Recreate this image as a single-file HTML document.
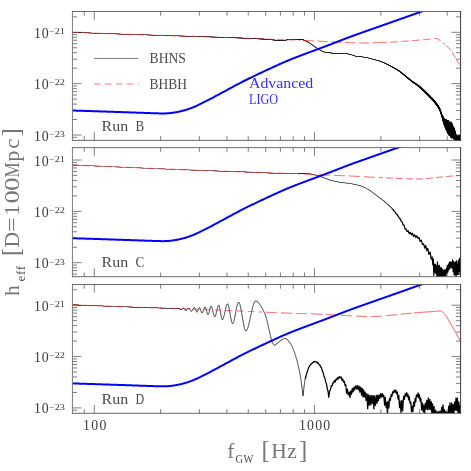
<!DOCTYPE html>
<html><head><meta charset="utf-8"><title>h_eff vs f_GW</title>
<style>
html,body{margin:0;padding:0;background:#fff;}
body{width:471px;height:471px;overflow:hidden;}
svg{display:block;will-change:transform;}
text{font-family:"Liberation Serif",serif;}
.tl{font-size:13.8px;fill:#3a3a3a;}
.sup{font-size:8.1px;fill:#3a3a3a;}
.run{font-size:14.4px;fill:#4a4a4a;}
.lg{font-size:14.2px;fill:#4a4a4a;}
.adv{font-size:14.4px;fill:#3030ff;}
.big{font-size:21.5px;fill:#767676;}
.sub{font-size:13px;fill:#4a4a4a;letter-spacing:0.8px;}
</style></head>
<body>
<svg width="471" height="471" viewBox="0 0 471 471">
<rect width="471" height="471" fill="#fff"/>
<defs>
<clipPath id="c0"><rect x="72.5" y="11.5" width="388.0" height="128.9"/></clipPath>
<clipPath id="c1"><rect x="72.5" y="147.6" width="388.0" height="129.1"/></clipPath>
<clipPath id="c2"><rect x="72.5" y="284.5" width="388.0" height="128.8"/></clipPath>
</defs>
<path d="M84.22,11.5v4.2M84.22,140.4v-4.2M94.30,11.5v8.3M94.30,140.4v-8.3M160.60,11.5v4.2M160.60,140.4v-4.2M199.39,11.5v4.2M199.39,140.4v-4.2M226.90,11.5v4.2M226.90,140.4v-4.2M248.25,11.5v4.2M248.25,140.4v-4.2M265.69,11.5v4.2M265.69,140.4v-4.2M280.43,11.5v4.2M280.43,140.4v-4.2M293.21,11.5v4.2M293.21,140.4v-4.2M304.47,11.5v4.2M304.47,140.4v-4.2M314.55,11.5v8.3M314.55,140.4v-8.3M380.85,11.5v4.2M380.85,140.4v-4.2M419.64,11.5v4.2M419.64,140.4v-4.2M447.15,11.5v4.2M447.15,140.4v-4.2M72.5,137.35h4.6M460.5,137.35h-4.6M72.5,135.00h9.0M460.5,135.00h-9.0M72.5,119.54h4.6M460.5,119.54h-4.6M72.5,110.50h4.6M460.5,110.50h-4.6M72.5,104.08h4.6M460.5,104.08h-4.6M72.5,99.11h4.6M460.5,99.11h-4.6M72.5,95.04h4.6M460.5,95.04h-4.6M72.5,91.60h4.6M460.5,91.60h-4.6M72.5,88.63h4.6M460.5,88.63h-4.6M72.5,86.00h4.6M460.5,86.00h-4.6M72.5,83.65h9.0M460.5,83.65h-9.0M72.5,68.19h4.6M460.5,68.19h-4.6M72.5,59.15h4.6M460.5,59.15h-4.6M72.5,52.73h4.6M460.5,52.73h-4.6M72.5,47.76h4.6M460.5,47.76h-4.6M72.5,43.69h4.6M460.5,43.69h-4.6M72.5,40.25h4.6M460.5,40.25h-4.6M72.5,37.28h4.6M460.5,37.28h-4.6M72.5,34.65h4.6M460.5,34.65h-4.6M72.5,32.30h9.0M460.5,32.30h-9.0M72.5,16.84h4.6M460.5,16.84h-4.6" fill="none" stroke="#707070" stroke-width="0.9"/>
<g clip-path="url(#c0)">
<path d="M72.00,32.35 L72.08,32.23 L72.16,32.38 L72.24,32.22 L72.32,32.42 L72.40,32.23 L72.48,32.40 L72.56,32.23 L72.64,32.42 L72.72,32.23 L72.80,32.43 L72.88,32.24 L72.96,32.44 L73.04,32.24 L73.12,32.43 L73.20,32.25 L73.28,32.45 L73.36,32.25 L73.44,32.46 L73.52,32.27 L73.60,32.46 L73.68,32.25 L73.76,32.46 L73.84,32.26 L73.92,32.47 L74.00,32.28 L74.08,32.49 L74.16,32.29 L74.24,32.49 L74.32,32.28 L74.40,32.49 L74.48,32.30 L74.56,32.50 L74.64,32.30 L74.72,32.51 L74.80,32.30 L74.88,32.51 L74.96,32.31 L75.04,32.53 L75.12,32.33 L75.20,32.52 L75.28,32.34 L75.36,32.53 L75.44,32.34 L75.52,32.54 L75.60,32.34 L75.68,32.54 L75.76,32.34 L75.84,32.54 L75.92,32.34 L76.00,32.55 L76.08,32.35 L76.16,32.57 L76.24,32.36 L76.32,32.57 L76.40,32.37 L76.48,32.56 L76.56,32.37 L76.64,32.58 L76.72,32.37 L76.80,32.58 L76.88,32.39 L76.96,32.58 L77.04,32.39 L77.12,32.60 L77.20,32.40 L77.28,32.61 L77.36,32.40 L77.44,32.62 L77.52,32.41 L77.60,32.61 L77.68,32.43 L77.76,32.62 L77.84,32.43 L77.92,32.62 L78.00,32.44 L78.08,32.62 L78.16,32.43 L78.24,32.64 L78.32,32.45 L78.40,32.64 L78.48,32.46 L78.56,32.64 L78.64,32.46 L78.72,32.66 L78.80,32.47 L78.88,32.67 L78.96,32.46 L79.04,32.67 L79.12,32.47 L79.20,32.69 L79.28,32.47 L79.36,32.68 L79.44,32.47 L79.52,32.69 L79.60,32.50 L79.68,32.71 L79.76,32.48 L79.84,32.70 L79.92,32.50 L80.00,32.71 L80.08,32.51 L80.16,32.72 L80.24,32.52 L80.32,32.73 L80.40,32.51 L80.48,32.73 L80.56,32.53 L80.64,32.73 L80.72,32.53 L80.80,32.74 L80.88,32.56 L80.96,32.74 L81.04,32.54 L81.12,32.75 L81.20,32.54 L81.28,32.74 L81.36,32.56 L81.44,32.76 L81.52,32.57 L81.60,32.76 L81.68,32.56 L81.76,32.76 L81.84,32.57 L81.92,32.79 L82.00,32.59 L82.08,32.79 L82.16,32.59 L82.24,32.81 L82.32,32.59 L82.40,32.79 L82.48,32.59 L82.56,32.81 L82.64,32.60 L82.72,32.81 L82.80,32.60 L82.88,32.82 L82.96,32.62 L83.04,32.83 L83.12,32.61 L83.20,32.82 L83.28,32.64 L83.36,32.82 L83.44,32.64 L83.52,32.84 L83.60,32.64 L83.68,32.83 L83.76,32.64 L83.84,32.83 L83.92,32.66 L84.00,32.84 L84.08,32.67 L84.16,32.87 L84.24,32.66 L84.32,32.86 L84.40,32.67 L84.48,32.87 L84.56,32.67 L84.64,32.89 L84.72,32.68 L84.80,32.88 L84.88,32.68 L84.96,32.90 L85.04,32.69 L85.12,32.91 L85.20,32.70 L85.28,32.91 L85.36,32.71 L85.44,32.89 L85.52,32.73 L85.60,32.91 L85.68,32.73 L85.76,32.93 L85.84,32.74 L85.92,32.93 L86.00,32.74 L86.08,32.93 L86.16,32.74 L86.24,32.93 L86.32,32.74 L86.40,32.95 L86.48,32.74 L86.56,32.96 L86.64,32.76 L86.72,32.96 L86.80,32.77 L86.88,32.97 L86.96,32.77 L87.04,32.98 L87.12,32.77 L87.20,32.97 L87.28,32.79 L87.36,32.97 L87.44,32.79 L87.52,32.98 L87.60,32.80 L87.68,33.00 L87.76,32.81 L87.84,33.00 L87.92,32.81 L88.00,33.02 L88.08,32.82 L88.16,33.01 L88.24,32.80 L88.32,33.01 L88.40,32.83 L88.48,33.03 L88.56,32.83 L88.64,33.03 L88.72,32.83 L88.80,33.04 L88.88,32.84 L88.96,33.04 L89.04,32.84 L89.12,33.03 L89.20,32.84 L89.28,33.05 L89.36,32.86 L89.44,33.06 L89.52,32.87 L89.60,33.05 L89.68,32.86 L89.76,33.08 L89.84,32.89 L89.92,33.09 L90.00,32.87 L90.08,33.09 L90.16,32.88 L90.24,33.10 L90.32,32.88 L90.40,33.09 L90.48,32.91 L90.56,33.11 L90.64,32.90 L90.72,33.12 L90.80,32.90 L90.88,33.11 L90.96,32.92 L91.04,33.12 L91.12,32.93 L91.20,33.13 L91.28,32.93 L91.36,33.14 L91.44,32.93 L91.52,33.12 L91.60,32.94 L91.68,33.14 L91.76,32.94 L91.84,33.15 L91.92,32.95 L92.00,33.17 L92.08,32.97 L92.16,33.16 L92.24,32.96 L92.32,33.16 L92.40,32.96 L92.48,33.17 L92.56,32.96 L92.64,33.18 L92.72,32.99 L92.80,33.19 L92.88,33.00 L92.96,33.18 L93.04,32.99 L93.12,33.19 L93.20,33.01 L93.28,33.20 L93.36,33.02 L93.44,33.21 L93.52,33.01 L93.60,33.21 L93.68,33.03 L93.76,33.22 L93.84,33.01 L93.92,33.22 L94.00,33.03 L94.08,33.24 L94.16,33.02 L94.24,33.24 L94.32,33.04 L94.40,33.23 L94.48,33.04 L94.56,33.26 L94.64,33.07 L94.72,33.26 L94.80,33.05 L94.88,33.27 L94.96,33.06 L95.04,33.26 L95.12,33.08 L95.20,33.26 L95.28,33.08 L95.36,33.28 L95.44,33.08 L95.52,33.29 L95.60,33.09 L95.68,33.29 L95.76,33.09 L95.84,33.30 L95.92,33.09 L96.00,33.31 L96.08,33.11 L96.16,33.30 L96.24,33.09 L96.32,33.31 L96.40,33.12 L96.48,33.33 L96.56,33.12 L96.64,33.33 L96.72,33.13 L96.80,33.33 L96.88,33.13 L96.96,33.33 L97.04,33.13 L97.12,33.35 L97.20,33.15 L97.28,33.34 L97.36,33.15 L97.44,33.34 L97.52,33.15 L97.60,33.35 L97.68,33.17 L97.76,33.36 L97.84,33.17 L97.92,33.37 L98.00,33.17 L98.08,33.37 L98.16,33.18 L98.24,33.39 L98.32,33.18 L98.40,33.40 L98.48,33.20 L98.56,33.38 L98.64,33.20 L98.72,33.40 L98.80,33.20 L98.88,33.39 L98.96,33.20 L99.04,33.41 L99.12,33.22 L99.20,33.43 L99.28,33.22 L99.36,33.43 L99.44,33.22 L99.52,33.43 L99.60,33.23 L99.68,33.45 L99.76,33.24 L99.84,33.44 L99.92,33.25 L100.00,33.46 L100.08,33.26 L100.16,33.45 L100.24,33.25 L100.32,33.46 L100.40,33.28 L100.48,33.48 L100.56,33.27 L100.64,33.48 L100.72,33.27 L100.80,33.47 L100.88,33.27 L100.96,33.48 L101.04,33.29 L101.12,33.50 L101.20,33.30 L101.28,33.48 L101.36,33.31 L101.44,33.50 L101.52,33.31 L101.60,33.51 L101.68,33.31 L101.76,33.51 L101.84,33.33 L101.92,33.51 L102.00,33.32 L102.08,33.52 L102.16,33.31 L102.24,33.53 L102.32,33.33 L102.40,33.54 L102.48,33.33 L102.56,33.55 L102.64,33.33 L102.72,33.53 L102.80,33.35 L102.88,33.55 L102.96,33.35 L103.04,33.56 L103.12,33.35 L103.20,33.56 L103.28,33.36 L103.36,33.57 L103.44,33.37 L103.52,33.57 L103.60,33.38 L103.68,33.59 L103.76,33.39 L103.84,33.59 L103.92,33.38 L104.00,33.59 L104.08,33.39 L104.16,33.59 L104.24,33.40 L104.32,33.61 L104.40,33.41 L104.48,33.62 L104.56,33.40 L104.64,33.62 L104.72,33.41 L104.80,33.62 L104.88,33.41 L104.96,33.64 L105.04,33.41 L105.12,33.63 L105.20,33.44 L105.28,33.63 L105.36,33.44 L105.44,33.65 L105.52,33.45 L105.60,33.65 L105.68,33.44 L105.76,33.67 L105.84,33.45 L105.92,33.66 L106.00,33.46 L106.08,33.65 L106.16,33.47 L106.24,33.67 L106.32,33.48 L106.40,33.67 L106.48,33.47 L106.56,33.68 L106.64,33.48 L106.72,33.68 L106.80,33.49 L106.88,33.69 L106.96,33.50 L107.04,33.69 L107.12,33.51 L107.20,33.70 L107.28,33.50 L107.36,33.71 L107.44,33.52 L107.52,33.73 L107.60,33.52 L107.68,33.73 L107.76,33.53 L107.84,33.73 L107.92,33.53 L108.00,33.73 L108.08,33.53 L108.16,33.74 L108.24,33.54 L108.32,33.75 L108.40,33.55 L108.48,33.75 L108.56,33.55 L108.64,33.76 L108.72,33.57 L108.80,33.76 L108.88,33.58 L108.96,33.77 L109.04,33.57 L109.12,33.78 L109.20,33.58 L109.28,33.77 L109.36,33.58 L109.44,33.78 L109.52,33.60 L109.60,33.79 L109.68,33.61 L109.76,33.79 L109.84,33.60 L109.92,33.81 L110.00,33.62 L110.08,33.80 L110.16,33.63 L110.24,33.80 L110.32,33.63 L110.40,33.83 L110.48,33.62 L110.56,33.81 L110.64,33.64 L110.72,33.84 L110.80,33.64 L110.88,33.83 L110.96,33.64 L111.04,33.84 L111.12,33.64 L111.20,33.85 L111.28,33.64 L111.36,33.86 L111.44,33.67 L111.52,33.86 L111.60,33.65 L111.68,33.85 L111.76,33.68 L111.84,33.88 L111.92,33.67 L112.00,33.89 L112.08,33.68 L112.16,33.88 L112.24,33.68 L112.32,33.88 L112.40,33.68 L112.48,33.89 L112.56,33.71 L112.64,33.90 L112.72,33.70 L112.80,33.90 L112.88,33.71 L112.96,33.90 L113.04,33.71 L113.12,33.92 L113.20,33.73 L113.28,33.94 L113.36,33.72 L113.44,33.93 L113.52,33.74 L113.60,33.93 L113.68,33.74 L113.76,33.93 L113.84,33.74 L113.92,33.95 L114.00,33.75 L114.08,33.95 L114.16,33.75 L114.24,33.95 L114.32,33.77 L114.40,33.96 L114.48,33.77 L114.56,33.96 L114.64,33.77 L114.72,33.96 L114.80,33.79 L114.88,33.97 L114.96,33.78 L115.04,33.97 L115.12,33.79 L115.20,33.98 L115.28,33.78 L115.36,34.01 L115.44,33.81 L115.52,33.99 L115.60,33.80 L115.68,34.01 L115.76,33.81 L115.84,34.01 L115.92,33.82 L116.00,34.02 L116.08,33.82 L116.16,34.01 L116.24,33.84 L116.32,34.04 L116.40,33.83 L116.48,34.02 L116.56,33.85 L116.64,34.03 L116.72,33.86 L116.80,34.04 L116.88,33.84 L116.96,34.04 L117.04,33.86 L117.12,34.04 L117.20,33.87 L117.28,34.06 L117.36,33.88 L117.44,34.07 L117.52,33.88 L117.60,34.06 L117.68,33.89 L117.76,34.09 L117.84,33.89 L117.92,34.09 L118.00,33.90 L118.08,34.08 L118.16,33.88 L118.24,34.10 L118.32,33.90 L118.40,34.10 L118.48,33.89 L118.56,34.11 L118.64,33.91 L118.72,34.11 L118.80,33.91 L118.88,34.11 L118.96,33.92 L119.04,34.13 L119.12,33.91 L119.20,34.13 L119.28,33.94 L119.36,34.13 L119.44,33.95 L119.52,34.14 L119.60,33.94 L119.68,34.14 L119.76,33.96 L119.84,34.14 L119.92,33.96 L120.00,34.17 L120.08,33.97 L120.16,34.16 L120.24,33.97 L120.32,34.18 L120.40,33.98 L120.48,34.16 L120.56,33.98 L120.64,34.18 L120.72,33.99 L120.80,34.20 L120.88,33.99 L120.96,34.19 L121.04,34.00 L121.12,34.20 L121.20,33.99 L121.28,34.20 L121.36,33.99 L121.44,34.19 L121.52,34.01 L121.60,34.21 L121.68,34.01 L121.76,34.21 L121.84,34.03 L121.92,34.23 L122.00,34.04 L122.08,34.24 L122.16,34.04 L122.24,34.23 L122.32,34.04 L122.40,34.23 L122.48,34.04 L122.56,34.25 L122.64,34.04 L122.72,34.25 L122.80,34.05 L122.88,34.26 L122.96,34.07 L123.04,34.25 L123.12,34.08 L123.20,34.27 L123.28,34.07 L123.36,34.27 L123.44,34.08 L123.52,34.28 L123.60,34.08 L123.68,34.28 L123.76,34.09 L123.84,34.29 L123.92,34.10 L124.00,34.29 L124.08,34.10 L124.16,34.29 L124.24,34.09 L124.32,34.31 L124.40,34.12 L124.48,34.31 L124.56,34.12 L124.64,34.31 L124.72,34.11 L124.80,34.32 L124.88,34.13 L124.96,34.34 L125.04,34.14 L125.12,34.34 L125.20,34.14 L125.28,34.34 L125.36,34.15 L125.44,34.35 L125.52,34.13 L125.60,34.36 L125.68,34.16 L125.76,34.36 L125.84,34.16 L125.92,34.37 L126.00,34.17 L126.08,34.37 L126.16,34.16 L126.24,34.37 L126.32,34.18 L126.40,34.38 L126.48,34.19 L126.56,34.38 L126.64,34.18 L126.72,34.39 L126.80,34.18 L126.88,34.38 L126.96,34.19 L127.04,34.42 L127.12,34.19 L127.20,34.40 L127.28,34.20 L127.36,34.42 L127.44,34.20 L127.52,34.42 L127.60,34.21 L127.68,34.42 L127.76,34.21 L127.84,34.43 L127.92,34.23 L128.00,34.43 L128.08,34.22 L128.16,34.42 L128.24,34.23 L128.32,34.45 L128.40,34.24 L128.48,34.44 L128.56,34.26 L128.64,34.45 L128.72,34.26 L128.80,34.46 L128.88,34.26 L128.96,34.46 L129.04,34.26 L129.12,34.48 L129.20,34.28 L129.28,34.49 L129.36,34.28 L129.44,34.48 L129.52,34.28 L129.60,34.48 L129.68,34.28 L129.76,34.49 L129.84,34.30 L129.92,34.50 L130.00,34.30 L130.08,34.49 L130.16,34.30 L130.24,34.51 L130.32,34.33 L130.40,34.51 L130.48,34.31 L130.56,34.52 L130.64,34.33 L130.72,34.52 L130.80,34.33 L130.88,34.52 L130.96,34.33 L131.04,34.54 L131.12,34.33 L131.20,34.54 L131.28,34.33 L131.36,34.55 L131.44,34.35 L131.52,34.55 L131.60,34.36 L131.68,34.56 L131.76,34.37 L131.84,34.57 L131.92,34.36 L132.00,34.57 L132.08,34.36 L132.16,34.56 L132.24,34.38 L132.32,34.59 L132.40,34.37 L132.48,34.58 L132.56,34.40 L132.64,34.59 L132.72,34.38 L132.80,34.61 L132.88,34.41 L132.96,34.60 L133.04,34.39 L133.12,34.61 L133.20,34.40 L133.28,34.62 L133.36,34.41 L133.44,34.61 L133.52,34.42 L133.60,34.64 L133.68,34.41 L133.76,34.63 L133.84,34.42 L133.92,34.63 L134.00,34.44 L134.08,34.63 L134.16,34.45 L134.24,34.64 L134.32,34.44 L134.40,34.64 L134.48,34.44 L134.56,34.66 L134.64,34.45 L134.72,34.66 L134.80,34.46 L134.88,34.68 L134.96,34.46 L135.04,34.68 L135.12,34.48 L135.20,34.67 L135.28,34.46 L135.36,34.68 L135.44,34.49 L135.52,34.70 L135.60,34.48 L135.68,34.70 L135.76,34.49 L135.84,34.70 L135.92,34.50 L136.00,34.70 L136.08,34.51 L136.16,34.71 L136.24,34.51 L136.32,34.71 L136.40,34.52 L136.48,34.72 L136.56,34.50 L136.64,34.73 L136.72,34.53 L136.80,34.72 L136.88,34.52 L136.96,34.73 L137.04,34.53 L137.12,34.74 L137.20,34.53 L137.28,34.76 L137.36,34.53 L137.44,34.76 L137.52,34.53 L137.60,34.76 L137.68,34.54 L137.76,34.76 L137.84,34.55 L137.92,34.75 L138.00,34.56 L138.08,34.78 L138.16,34.57 L138.24,34.79 L138.32,34.57 L138.40,34.77 L138.48,34.58 L138.56,34.77 L138.64,34.58 L138.72,34.80 L138.80,34.59 L138.88,34.80 L138.96,34.58 L139.04,34.79 L139.12,34.59 L139.20,34.82 L139.28,34.59 L139.36,34.82 L139.44,34.62 L139.52,34.82 L139.60,34.61 L139.68,34.82 L139.76,34.62 L139.84,34.82 L139.92,34.62 L140.00,34.84 L140.08,34.62 L140.16,34.85 L140.24,34.62 L140.32,34.84 L140.40,34.63 L140.48,34.86 L140.56,34.63 L140.64,34.85 L140.72,34.65 L140.80,34.87 L140.88,34.65 L140.96,34.86 L141.04,34.65 L141.12,34.88 L141.20,34.67 L141.28,34.87 L141.36,34.67 L141.44,34.87 L141.52,34.68 L141.60,34.88 L141.68,34.68 L141.76,34.90 L141.84,34.69 L141.92,34.89 L142.00,34.69 L142.08,34.91 L142.16,34.69 L142.24,34.91 L142.32,34.70 L142.40,34.92 L142.48,34.71 L142.56,34.94 L142.64,34.71 L142.72,34.92 L142.80,34.70 L142.88,34.93 L142.96,34.73 L143.04,34.94 L143.12,34.72 L143.20,34.93 L143.28,34.73 L143.36,34.94 L143.44,34.73 L143.52,34.93 L143.60,34.75 L143.68,34.96 L143.76,34.75 L143.84,34.94 L143.92,34.75 L144.00,34.96 L144.08,34.77 L144.16,34.97 L144.24,34.75 L144.32,34.98 L144.40,34.77 L144.48,34.98 L144.56,34.77 L144.64,34.98 L144.72,34.78 L144.80,34.98 L144.88,34.78 L144.96,35.00 L145.04,34.78 L145.12,35.00 L145.20,34.80 L145.28,35.01 L145.36,34.79 L145.44,35.01 L145.52,34.78 L145.60,35.02 L145.68,34.81 L145.76,35.01 L145.84,34.82 L145.92,35.01 L146.00,34.82 L146.08,35.03 L146.16,34.82 L146.24,35.04 L146.32,34.83 L146.40,35.03 L146.48,34.82 L146.56,35.05 L146.64,34.82 L146.72,35.05 L146.80,34.85 L146.88,35.07 L146.96,34.84 L147.04,35.06 L147.12,34.87 L147.20,35.06 L147.28,34.86 L147.36,35.07 L147.44,34.85 L147.52,35.07 L147.60,34.86 L147.68,35.09 L147.76,34.88 L147.84,35.09 L147.92,34.87 L148.00,35.08 L148.08,34.87 L148.16,35.10 L148.24,34.87 L148.32,35.11 L148.40,34.90 L148.48,35.09 L148.56,34.89 L148.64,35.11 L148.72,34.91 L148.80,35.12 L148.88,34.90 L148.96,35.12 L149.04,34.91 L149.12,35.12 L149.20,34.92 L149.28,35.13 L149.36,34.91 L149.44,35.15 L149.52,34.93 L149.60,35.14 L149.68,34.93 L149.76,35.14 L149.84,34.95 L149.92,35.15 L150.00,34.94 L150.08,35.15 L150.16,34.94 L150.24,35.17 L150.32,34.95 L150.40,35.17 L150.48,34.96 L150.56,35.17 L150.64,34.94 L150.72,35.17 L150.80,34.96 L150.88,35.18 L150.96,34.97 L151.04,35.19 L151.12,34.99 L151.20,35.19 L151.28,34.96 L151.36,35.20 L151.44,35.00 L151.52,35.21 L151.60,35.00 L151.68,35.21 L151.76,35.00 L151.84,35.21 L151.92,35.00 L152.00,35.21 L152.08,35.00 L152.16,35.22 L152.24,35.01 L152.32,35.21 L152.40,35.03 L152.48,35.22 L152.56,35.02 L152.64,35.26 L152.72,35.02 L152.80,35.25 L152.88,35.03 L152.96,35.25 L153.04,35.03 L153.12,35.25 L153.20,35.04 L153.28,35.27 L153.36,35.05 L153.44,35.26 L153.52,35.05 L153.60,35.26 L153.68,35.04 L153.76,35.27 L153.84,35.06 L153.92,35.26 L154.00,35.06 L154.08,35.29 L154.16,35.07 L154.24,35.28 L154.32,35.07 L154.40,35.29 L154.48,35.08 L154.56,35.31 L154.64,35.08 L154.72,35.30 L154.80,35.09 L154.88,35.31 L154.96,35.10 L155.04,35.30 L155.12,35.10 L155.20,35.33 L155.28,35.10 L155.36,35.31 L155.44,35.10 L155.52,35.33 L155.60,35.11 L155.68,35.34 L155.76,35.11 L155.84,35.33 L155.92,35.12 L156.00,35.36 L156.08,35.14 L156.16,35.35 L156.24,35.12 L156.32,35.36 L156.40,35.13 L156.48,35.36 L156.56,35.14 L156.64,35.35 L156.72,35.15 L156.80,35.37 L156.88,35.16 L156.96,35.37 L157.04,35.16 L157.12,35.38 L157.20,35.16 L157.28,35.38 L157.36,35.17 L157.44,35.39 L157.52,35.16 L157.60,35.38 L157.68,35.18 L157.76,35.40 L157.84,35.19 L157.92,35.40 L158.00,35.18 L158.08,35.42 L158.16,35.19 L158.24,35.43 L158.32,35.21 L158.40,35.41 L158.48,35.19 L158.56,35.41 L158.64,35.19 L158.72,35.42 L158.80,35.21 L158.88,35.44 L158.96,35.21 L159.04,35.44 L159.12,35.22 L159.20,35.45 L159.28,35.22 L159.36,35.45 L159.44,35.23 L159.52,35.46 L159.60,35.24 L159.68,35.47 L159.76,35.23 L159.84,35.46 L159.92,35.25 L160.00,35.47 L160.08,35.27 L160.16,35.47 L160.24,35.26 L160.32,35.47 L160.40,35.28 L160.48,35.47 L160.56,35.27 L160.64,35.49 L160.72,35.27 L160.80,35.49 L160.88,35.29 L160.96,35.49 L161.04,35.29 L161.12,35.51 L161.20,35.29 L161.28,35.50 L161.36,35.29 L161.44,35.51 L161.52,35.30 L161.60,35.50 L161.68,35.29 L161.76,35.52 L161.84,35.29 L161.92,35.54 L162.00,35.31 L162.08,35.54 L162.16,35.31 L162.24,35.53 L162.32,35.31 L162.40,35.55 L162.48,35.33 L162.56,35.54 L162.64,35.33 L162.72,35.57 L162.80,35.34 L162.88,35.56 L162.96,35.35 L163.04,35.55 L163.12,35.34 L163.20,35.57 L163.28,35.35 L163.36,35.58 L163.44,35.34 L163.52,35.57 L163.60,35.35 L163.68,35.58 L163.76,35.38 L163.84,35.60 L163.92,35.36 L164.00,35.59 L164.08,35.35 L164.16,35.60 L164.24,35.37 L164.32,35.61 L164.40,35.38 L164.48,35.62 L164.56,35.38 L164.64,35.62 L164.72,35.40 L164.80,35.61 L164.88,35.40 L164.96,35.62 L165.04,35.41 L165.12,35.61 L165.20,35.40 L165.28,35.63 L165.36,35.42 L165.44,35.65 L165.52,35.41 L165.60,35.64 L165.68,35.42 L165.76,35.65 L165.84,35.43 L165.92,35.66 L166.00,35.43 L166.08,35.67 L166.16,35.43 L166.24,35.68 L166.32,35.43 L166.40,35.67 L166.48,35.45 L166.56,35.68 L166.64,35.44 L166.72,35.68 L166.80,35.45 L166.88,35.68 L166.96,35.46 L167.04,35.67 L167.12,35.45 L167.20,35.68 L167.28,35.45 L167.36,35.68 L167.44,35.46 L167.52,35.69 L167.60,35.49 L167.68,35.71 L167.76,35.48 L167.84,35.72 L167.92,35.48 L168.00,35.73 L168.08,35.48 L168.16,35.73 L168.24,35.48 L168.32,35.74 L168.40,35.50 L168.48,35.74 L168.56,35.50 L168.64,35.73 L168.72,35.51 L168.80,35.76 L168.88,35.51 L168.96,35.73 L169.04,35.52 L169.12,35.76 L169.20,35.53 L169.28,35.76 L169.36,35.52 L169.44,35.76 L169.52,35.53 L169.60,35.76 L169.68,35.55 L169.76,35.77 L169.84,35.54 L169.92,35.78 L170.00,35.56 L170.08,35.78 L170.16,35.55 L170.24,35.78 L170.32,35.57 L170.40,35.81 L170.48,35.57 L170.56,35.80 L170.64,35.57 L170.72,35.81 L170.80,35.57 L170.88,35.81 L170.96,35.60 L171.04,35.81 L171.12,35.60 L171.20,35.82 L171.28,35.60 L171.36,35.84 L171.44,35.59 L171.52,35.83 L171.60,35.59 L171.68,35.82 L171.76,35.60 L171.84,35.85 L171.92,35.60 L172.00,35.83 L172.08,35.61 L172.16,35.85 L172.24,35.62 L172.32,35.85 L172.40,35.62 L172.48,35.84 L172.56,35.62 L172.64,35.86 L172.72,35.63 L172.80,35.87 L172.88,35.65 L172.96,35.88 L173.04,35.63 L173.12,35.88 L173.20,35.65 L173.28,35.87 L173.36,35.66 L173.44,35.88 L173.52,35.65 L173.60,35.90 L173.68,35.66 L173.76,35.90 L173.84,35.65 L173.92,35.91 L174.00,35.66 L174.08,35.90 L174.16,35.68 L174.24,35.93 L174.32,35.69 L174.40,35.93 L174.48,35.68 L174.56,35.92 L174.64,35.69 L174.72,35.94 L174.80,35.71 L174.88,35.95 L174.96,35.71 L175.04,35.94 L175.12,35.71 L175.20,35.93 L175.28,35.71 L175.36,35.96 L175.44,35.72 L175.52,35.94 L175.60,35.73 L175.68,35.96 L175.76,35.73 L175.84,35.95 L175.92,35.73 L176.00,35.96 L176.08,35.74 L176.16,35.97 L176.24,35.75 L176.32,35.99 L176.40,35.75 L176.48,35.99 L176.56,35.74 L176.64,35.99 L176.72,35.75 L176.80,35.99 L176.88,35.76 L176.96,36.00 L177.04,35.77 L177.12,36.01 L177.20,35.76 L177.28,36.01 L177.36,35.77 L177.44,36.01 L177.52,35.77 L177.60,36.02 L177.68,35.77 L177.76,36.03 L177.84,35.79 L177.92,36.04 L178.00,35.79 L178.08,36.02 L178.16,35.80 L178.24,36.04 L178.32,35.81 L178.40,36.04 L178.48,35.83 L178.56,36.04 L178.64,35.82 L178.72,36.06 L178.80,35.82 L178.88,36.06 L178.96,35.83 L179.04,36.05 L179.12,35.85 L179.20,36.07 L179.28,35.85 L179.36,36.09 L179.44,35.84 L179.52,36.10 L179.60,35.84 L179.68,36.09 L179.76,35.87 L179.84,36.08 L179.92,35.86 L180.00,36.11 L180.08,35.86 L180.16,36.09 L180.24,35.86 L180.32,36.10 L180.40,35.87 L180.48,36.11 L180.56,35.89 L180.64,36.13 L180.72,35.88 L180.80,36.13 L180.88,35.89 L180.96,36.14 L181.04,35.90 L181.12,36.14 L181.20,35.88 L181.28,36.14 L181.36,35.90 L181.44,36.14 L181.52,35.90 L181.60,36.16 L181.68,35.91 L181.76,36.15 L181.84,35.93 L181.92,36.15 L182.00,35.90 L182.08,36.17 L182.16,35.93 L182.24,36.15 L182.32,35.93 L182.40,36.17 L182.48,35.95 L182.56,36.17 L182.64,35.95 L182.72,36.18 L182.80,35.96 L182.88,36.20 L182.96,35.96 L183.04,36.19 L183.12,35.94 L183.20,36.21 L183.28,35.96 L183.36,36.21 L183.44,35.95 L183.52,36.22 L183.60,35.97 L183.68,36.23 L183.76,35.97 L183.84,36.22 L183.92,36.00 L184.00,36.23 L184.08,35.99 L184.16,36.24 L184.24,35.99 L184.32,36.23 L184.40,35.98 L184.48,36.25 L184.56,36.00 L184.64,36.24 L184.72,35.99 L184.80,36.25 L184.88,36.01 L184.96,36.26 L185.04,36.02 L185.12,36.25 L185.20,36.02 L185.28,36.26 L185.36,36.01 L185.44,36.27 L185.52,36.02 L185.60,36.29 L185.68,36.03 L185.76,36.29 L185.84,36.04 L185.92,36.29 L186.00,36.04 L186.08,36.30 L186.16,36.04 L186.24,36.32 L186.32,36.06 L186.40,36.30 L186.48,36.04 L186.56,36.30 L186.64,36.06 L186.72,36.32 L186.80,36.06 L186.88,36.34 L186.96,36.07 L187.04,36.32 L187.12,36.09 L187.20,36.34 L187.28,36.08 L187.36,36.33 L187.44,36.10 L187.52,36.36 L187.60,36.11 L187.68,36.36 L187.76,36.11 L187.84,36.35 L187.92,36.11 L188.00,36.35 L188.08,36.10 L188.16,36.37 L188.24,36.12 L188.32,36.37 L188.40,36.12 L188.48,36.38 L188.56,36.12 L188.64,36.39 L188.72,36.12 L188.80,36.39 L188.88,36.16 L188.96,36.40 L189.04,36.15 L189.12,36.38 L189.20,36.14 L189.28,36.40 L189.36,36.15 L189.44,36.42 L189.52,36.16 L189.60,36.40 L189.68,36.15 L189.76,36.42 L189.84,36.18 L189.92,36.43 L190.00,36.17 L190.08,36.41 L190.16,36.17 L190.24,36.43 L190.32,36.20 L190.40,36.45 L190.48,36.18 L190.56,36.46 L190.64,36.20 L190.72,36.45 L190.80,36.19 L190.88,36.45 L190.96,36.21 L191.04,36.46 L191.12,36.23 L191.20,36.45 L191.28,36.21 L191.36,36.47 L191.44,36.22 L191.52,36.47 L191.60,36.24 L191.68,36.49 L191.76,36.23 L191.84,36.48 L191.92,36.23 L192.00,36.47 L192.08,36.23 L192.16,36.50 L192.24,36.25 L192.32,36.50 L192.40,36.25 L192.48,36.49 L192.56,36.26 L192.64,36.52 L192.72,36.26 L192.80,36.52 L192.88,36.28 L192.96,36.52 L193.04,36.27 L193.12,36.54 L193.20,36.27 L193.28,36.53 L193.36,36.29 L193.44,36.55 L193.52,36.28 L193.60,36.53 L193.68,36.30 L193.76,36.54 L193.84,36.30 L193.92,36.56 L194.00,36.31 L194.08,36.56 L194.16,36.32 L194.24,36.56 L194.32,36.32 L194.40,36.57 L194.48,36.33 L194.56,36.57 L194.64,36.30 L194.72,36.58 L194.80,36.34 L194.88,36.59 L194.96,36.32 L195.04,36.60 L195.12,36.34 L195.20,36.61 L195.28,36.34 L195.36,36.60 L195.44,36.35 L195.52,36.59 L195.60,36.35 L195.68,36.61 L195.76,36.35 L195.84,36.61 L195.92,36.38 L196.00,36.62 L196.08,36.39 L196.16,36.65 L196.24,36.38 L196.32,36.63 L196.40,36.38 L196.48,36.64 L196.56,36.39 L196.64,36.64 L196.72,36.39 L196.80,36.65 L196.88,36.38 L196.96,36.64 L197.04,36.40 L197.12,36.65 L197.20,36.39 L197.28,36.67 L197.36,36.39 L197.44,36.68 L197.52,36.40 L197.60,36.66 L197.68,36.40 L197.76,36.67 L197.84,36.41 L197.92,36.70 L198.00,36.42 L198.08,36.67 L198.16,36.42 L198.24,36.70 L198.32,36.43 L198.40,36.70 L198.48,36.44 L198.56,36.71 L198.64,36.43 L198.72,36.71 L198.80,36.45 L198.88,36.72 L198.96,36.46 L199.04,36.73 L199.12,36.48 L199.20,36.73 L199.28,36.47 L199.36,36.73 L199.44,36.48 L199.52,36.74 L199.60,36.48 L199.68,36.75 L199.76,36.47 L199.84,36.77 L199.92,36.49 L200.00,36.75 L200.08,36.50 L200.16,36.76 L200.24,36.49 L200.32,36.77 L200.40,36.51 L200.48,36.77 L200.56,36.52 L200.64,36.77 L200.72,36.51 L200.80,36.79 L200.88,36.51 L200.96,36.79 L201.04,36.53 L201.12,36.79 L201.20,36.54 L201.28,36.78 L201.36,36.53 L201.44,36.82 L201.52,36.55 L201.60,36.80 L201.68,36.56 L201.76,36.81 L201.84,36.54 L201.92,36.81 L202.00,36.54 L202.08,36.82 L202.16,36.58 L202.24,36.83 L202.32,36.56 L202.40,36.84 L202.48,36.57 L202.56,36.84 L202.64,36.57 L202.72,36.83 L202.80,36.57 L202.88,36.85 L202.96,36.57 L203.04,36.86 L203.12,36.58 L203.20,36.87 L203.28,36.59 L203.36,36.87 L203.44,36.60 L203.52,36.87 L203.60,36.62 L203.68,36.87 L203.76,36.61 L203.84,36.88 L203.92,36.61 L204.00,36.87 L204.08,36.63 L204.16,36.89 L204.24,36.63 L204.32,36.90 L204.40,36.62 L204.48,36.89 L204.56,36.62 L204.64,36.90 L204.72,36.63 L204.80,36.90 L204.88,36.62 L204.96,36.91 L205.04,36.64 L205.12,36.93 L205.20,36.64 L205.28,36.92 L205.36,36.66 L205.44,36.93 L205.52,36.65 L205.60,36.93 L205.68,36.66 L205.76,36.93 L205.84,36.65 L205.92,36.94 L206.00,36.67 L206.08,36.95 L206.16,36.69 L206.24,36.97 L206.32,36.68 L206.40,36.96 L206.48,36.69 L206.56,36.98 L206.64,36.71 L206.72,36.96 L206.80,36.70 L206.88,36.96 L206.96,36.73 L207.04,36.99 L207.12,36.73 L207.20,36.98 L207.28,36.71 L207.36,36.99 L207.44,36.71 L207.52,37.01 L207.60,36.71 L207.68,37.00 L207.76,36.72 L207.84,37.04 L207.92,36.73 L208.00,37.03 L208.08,36.73 L208.16,37.03 L208.24,36.73 L208.32,37.04 L208.40,36.76 L208.48,37.04 L208.56,36.76 L208.64,37.04 L208.72,36.76 L208.80,37.04 L208.88,36.76 L208.96,37.05 L209.04,36.77 L209.12,37.05 L209.20,36.77 L209.28,37.04 L209.36,36.78 L209.44,37.05 L209.52,36.79 L209.60,37.08 L209.68,36.79 L209.76,37.07 L209.84,36.79 L209.92,37.08 L210.00,36.81 L210.08,37.09 L210.16,36.79 L210.24,37.09 L210.32,36.81 L210.40,37.07 L210.48,36.83 L210.56,37.10 L210.64,36.81 L210.72,37.11 L210.80,36.83 L210.88,37.11 L210.96,36.83 L211.04,37.11 L211.12,36.85 L211.20,37.12 L211.28,36.85 L211.36,37.13 L211.44,36.86 L211.52,37.13 L211.60,36.83 L211.68,37.13 L211.76,36.86 L211.84,37.13 L211.92,36.87 L212.00,37.13 L212.08,36.86 L212.16,37.15 L212.24,36.89 L212.32,37.15 L212.40,36.87 L212.48,37.16 L212.56,36.88 L212.64,37.16 L212.72,36.90 L212.80,37.16 L212.88,36.89 L212.96,37.18 L213.04,36.87 L213.12,37.19 L213.20,36.89 L213.28,37.20 L213.36,36.89 L213.44,37.21 L213.52,36.89 L213.60,37.21 L213.68,36.91 L213.76,37.20 L213.84,36.93 L213.92,37.22 L214.00,36.93 L214.08,37.21 L214.16,36.95 L214.24,37.22 L214.32,36.95 L214.40,37.22 L214.48,36.92 L214.56,37.24 L214.64,36.94 L214.72,37.25 L214.80,36.94 L214.88,37.24 L214.96,36.95 L215.04,37.25 L215.12,36.95 L215.20,37.27 L215.28,36.94 L215.36,37.25 L215.44,36.97 L215.52,37.26 L215.60,36.96 L215.68,37.26 L215.76,36.98 L215.84,37.28 L215.92,36.99 L216.00,37.28 L216.08,37.01 L216.16,37.30 L216.24,36.99 L216.32,37.29 L216.40,36.99 L216.48,37.30 L216.56,36.99 L216.64,37.31 L216.72,37.01 L216.80,37.31 L216.88,37.03 L216.96,37.31 L217.04,37.04 L217.12,37.32 L217.20,37.03 L217.28,37.33 L217.36,37.03 L217.44,37.31 L217.52,37.04 L217.60,37.33 L217.68,37.03 L217.76,37.35 L217.84,37.05 L217.92,37.34 L218.00,37.03 L218.08,37.35 L218.16,37.07 L218.24,37.35 L218.32,37.07 L218.40,37.37 L218.48,37.07 L218.56,37.38 L218.64,37.06 L218.72,37.38 L218.80,37.09 L218.88,37.40 L218.96,37.08 L219.04,37.37 L219.12,37.10 L219.20,37.39 L219.28,37.10 L219.36,37.40 L219.44,37.10 L219.52,37.40 L219.60,37.12 L219.68,37.42 L219.76,37.10 L219.84,37.39 L219.92,37.11 L220.00,37.43 L220.08,37.12 L220.16,37.42 L220.24,37.11 L220.32,37.42 L220.40,37.12 L220.48,37.41 L220.56,37.14 L220.64,37.42 L220.72,37.14 L220.80,37.45 L220.88,37.14 L220.96,37.46 L221.04,37.16 L221.12,37.43 L221.20,37.17 L221.28,37.46 L221.36,37.17 L221.44,37.45 L221.52,37.18 L221.60,37.46 L221.68,37.17 L221.76,37.48 L221.84,37.16 L221.92,37.51 L222.00,37.17 L222.08,37.48 L222.16,37.20 L222.24,37.48 L222.32,37.18 L222.40,37.51 L222.48,37.19 L222.56,37.50 L222.64,37.21 L222.72,37.51 L222.80,37.21 L222.88,37.50 L222.96,37.22 L223.04,37.51 L223.12,37.20 L223.20,37.54 L223.28,37.21 L223.36,37.55 L223.44,37.24 L223.52,37.52 L223.60,37.24 L223.68,37.56 L223.76,37.24 L223.84,37.53 L223.92,37.24 L224.00,37.56 L224.08,37.24 L224.16,37.56 L224.24,37.25 L224.32,37.55 L224.40,37.27 L224.48,37.56 L224.56,37.27 L224.64,37.59 L224.72,37.28 L224.80,37.57 L224.88,37.26 L224.96,37.58 L225.04,37.29 L225.12,37.59 L225.20,37.28 L225.28,37.58 L225.36,37.32 L225.44,37.61 L225.52,37.31 L225.60,37.60 L225.68,37.30 L225.76,37.60 L225.84,37.33 L225.92,37.62 L226.00,37.31 L226.08,37.62 L226.16,37.34 L226.24,37.63 L226.32,37.34 L226.40,37.66 L226.48,37.33 L226.56,37.65 L226.64,37.34 L226.72,37.64 L226.80,37.33 L226.88,37.66 L226.96,37.35 L227.04,37.65 L227.12,37.37 L227.20,37.67 L227.28,37.37 L227.36,37.67 L227.44,37.39 L227.52,37.67 L227.60,37.39 L227.68,37.71 L227.76,37.38 L227.84,37.70 L227.92,37.40 L228.00,37.70 L228.08,37.41 L228.16,37.71 L228.24,37.39 L228.32,37.70 L228.40,37.41 L228.48,37.70 L228.56,37.40 L228.64,37.73 L228.72,37.41 L228.80,37.75 L228.88,37.43 L228.96,37.75 L229.04,37.45 L229.12,37.73 L229.20,37.41 L229.28,37.75 L229.36,37.44 L229.44,37.75 L229.52,37.44 L229.60,37.78 L229.68,37.44 L229.76,37.76 L229.84,37.47 L229.92,37.77 L230.00,37.48 L230.08,37.78 L230.16,37.48 L230.24,37.78 L230.32,37.48 L230.40,37.77 L230.48,37.46 L230.56,37.80 L230.64,37.49 L230.72,37.80 L230.80,37.49 L230.88,37.81 L230.96,37.48 L231.04,37.84 L231.12,37.51 L231.20,37.81 L231.28,37.50 L231.36,37.80 L231.44,37.49 L231.52,37.83 L231.60,37.52 L231.68,37.83 L231.76,37.50 L231.84,37.83 L231.92,37.53 L232.00,37.84 L232.08,37.52 L232.16,37.85 L232.24,37.55 L232.32,37.86 L232.40,37.56 L232.48,37.88 L232.56,37.57 L232.64,37.86 L232.72,37.56 L232.80,37.89 L232.88,37.55 L232.96,37.87 L233.04,37.57 L233.12,37.90 L233.20,37.59 L233.28,37.89 L233.36,37.59 L233.44,37.91 L233.52,37.59 L233.60,37.91 L233.68,37.57 L233.76,37.92 L233.84,37.59 L233.92,37.91 L234.00,37.61 L234.08,37.92 L234.16,37.63 L234.24,37.93 L234.32,37.62 L234.40,37.94 L234.48,37.62 L234.56,37.94 L234.64,37.64 L234.72,37.97 L234.80,37.63 L234.88,37.96 L234.96,37.65 L235.04,37.95 L235.12,37.65 L235.20,37.97 L235.28,37.66 L235.36,37.97 L235.44,37.66 L235.52,37.98 L235.60,37.66 L235.68,37.99 L235.76,37.68 L235.84,38.02 L235.92,37.68 L236.00,37.99 L236.08,37.70 L236.16,38.01 L236.24,37.68 L236.32,38.02 L236.40,37.67 L236.48,38.02 L236.56,37.70 L236.64,38.03 L236.72,37.71 L236.80,38.04 L236.88,37.73 L236.96,38.02 L237.04,37.72 L237.12,38.03 L237.20,37.72 L237.28,38.04 L237.36,37.72 L237.44,38.08 L237.52,37.73 L237.60,38.08 L237.68,37.75 L237.76,38.07 L237.84,37.76 L237.92,38.08 L238.00,37.78 L238.08,38.07 L238.16,37.76 L238.24,38.08 L238.32,37.76 L238.40,38.11 L238.48,37.77 L238.56,38.12 L238.64,37.80 L238.72,38.10 L238.80,37.79 L238.88,38.12 L238.96,37.79 L239.04,38.13 L239.12,37.81 L239.20,38.12 L239.28,37.83 L239.36,38.13 L239.44,37.84 L239.52,38.14 L239.60,37.84 L239.68,38.14 L239.76,37.82 L239.84,38.18 L239.92,37.83 L240.00,38.16 L240.08,37.83 L240.16,38.16 L240.24,37.85 L240.32,38.18 L240.40,37.86 L240.48,38.21 L240.56,37.86 L240.64,38.21 L240.72,37.88 L240.80,38.20 L240.88,37.86 L240.96,38.22 L241.04,37.87 L241.12,38.23 L241.20,37.89 L241.28,38.21 L241.36,37.90 L241.44,38.23 L241.52,37.87 L241.60,38.21 L241.68,37.90 L241.76,38.24 L241.84,37.91 L241.92,38.24 L242.00,37.91 L242.08,38.26 L242.16,37.93 L242.24,38.27 L242.32,37.92 L242.40,38.27 L242.48,37.95 L242.56,38.28 L242.64,37.94 L242.72,38.26 L242.80,37.93 L242.88,38.30 L242.96,37.95 L243.04,38.29 L243.12,37.94 L243.20,38.32 L243.28,37.97 L243.36,38.33 L243.44,37.98 L243.52,38.31 L243.60,37.98 L243.68,38.32 L243.76,37.99 L243.84,38.33 L243.92,37.98 L244.00,38.34 L244.08,38.00 L244.16,38.35 L244.24,38.03 L244.32,38.34 L244.40,38.02 L244.48,38.34 L244.56,38.00 L244.64,38.36 L244.72,38.03 L244.80,38.36 L244.88,38.02 L244.96,38.37 L245.04,38.04 L245.12,38.38 L245.20,38.05 L245.28,38.40 L245.36,38.08 L245.44,38.37 L245.52,38.07 L245.60,38.42 L245.68,38.06 L245.76,38.43 L245.84,38.08 L245.92,38.41 L246.00,38.09 L246.08,38.43 L246.16,38.07 L246.24,38.42 L246.32,38.07 L246.40,38.43 L246.48,38.09 L246.56,38.45 L246.64,38.08 L246.72,38.46 L246.80,38.12 L246.88,38.45 L246.96,38.11 L247.04,38.46 L247.12,38.11 L247.20,38.49 L247.28,38.10 L247.36,38.49 L247.44,38.15 L247.52,38.50 L247.60,38.16 L247.68,38.49 L247.76,38.12 L247.84,38.52 L247.92,38.14 L248.00,38.51 L248.08,38.14 L248.16,38.49 L248.24,38.15 L248.32,38.55 L248.40,38.17 L248.48,38.54 L248.56,38.19 L248.64,38.55 L248.72,38.19 L248.80,38.58 L248.88,38.20 L248.96,38.55 L249.04,38.21 L249.12,38.58 L249.20,38.23 L249.28,38.57 L249.36,38.24 L249.44,38.59 L249.52,38.24 L249.60,38.58 L249.68,38.22 L249.76,38.60 L249.84,38.26 L249.92,38.61 L250.00,38.24 L250.08,38.60 L250.16,38.25 L250.24,38.60 L250.32,38.24 L250.40,38.64 L250.48,38.26 L250.56,38.62 L250.64,38.25 L250.72,38.63 L250.80,38.27 L250.88,38.62 L250.96,38.30 L251.04,38.62 L251.12,38.29 L251.20,38.66 L251.28,38.31 L251.36,38.66 L251.44,38.32 L251.52,38.70 L251.60,38.31 L251.68,38.69 L251.76,38.31 L251.84,38.69 L251.92,38.35 L252.00,38.69 L252.08,38.34 L252.16,38.69 L252.24,38.35 L252.32,38.73 L252.40,38.36 L252.48,38.73 L252.56,38.37 L252.64,38.76 L252.72,38.37 L252.80,38.72 L252.88,38.39 L252.96,38.73 L253.04,38.40 L253.12,38.76 L253.20,38.39 L253.28,38.75 L253.36,38.40 L253.44,38.76 L253.52,38.42 L253.60,38.79 L253.68,38.42 L253.76,38.79 L253.84,38.41 L253.92,38.80 L254.00,38.40 L254.08,38.81 L254.16,38.44 L254.24,38.82 L254.32,38.43 L254.40,38.80 L254.48,38.46 L254.56,38.83 L254.64,38.43 L254.72,38.84 L254.80,38.49 L254.88,38.86 L254.96,38.48 L255.04,38.87 L255.12,38.46 L255.20,38.87 L255.28,38.45 L255.36,38.87 L255.44,38.51 L255.52,38.90 L255.60,38.50 L255.68,38.89 L255.76,38.52 L255.84,38.90 L255.92,38.50 L256.00,38.89 L256.08,38.54 L256.16,38.88 L256.24,38.54 L256.32,38.89 L256.40,38.54 L256.48,38.90 L256.56,38.55 L256.64,38.92 L256.72,38.56 L256.80,38.95 L256.88,38.56 L256.96,38.95 L257.04,38.56 L257.12,38.96 L257.20,38.59 L257.28,38.98 L257.36,38.58 L257.44,39.00 L257.52,38.59 L257.60,38.99 L257.68,38.61 L257.76,38.99 L257.84,38.58 L257.92,39.00 L258.00,38.63 L258.08,39.02 L258.16,38.64 L258.24,39.03 L258.32,38.64 L258.40,39.04 L258.48,38.65 L258.56,39.05 L258.64,38.64 L258.72,39.06 L258.80,38.65 L258.88,39.05 L258.96,38.68 L259.04,39.07 L259.12,38.69 L259.20,39.06 L259.28,38.67 L259.36,39.08 L259.44,38.68 L259.52,39.09 L259.60,38.70 L259.68,39.10 L259.76,38.72 L259.84,39.10 L259.92,38.71 L260.00,39.10 L260.08,38.74 L260.16,39.12 L260.24,38.72 L260.32,39.15 L260.40,38.74 L260.48,39.14 L260.56,38.76 L260.64,39.16 L260.72,38.74 L260.80,39.15 L260.88,38.74 L260.96,39.17 L261.04,38.76 L261.12,39.20 L261.20,38.78 L261.28,39.19 L261.36,38.79 L261.44,39.18 L261.52,38.81 L261.60,39.22 L261.68,38.81 L261.76,39.19 L261.84,38.84 L261.92,39.24 L262.00,38.84 L262.08,39.21 L262.16,38.83 L262.24,39.25 L262.32,38.84 L262.40,39.25 L262.48,38.88 L262.56,39.25 L262.64,38.85 L262.72,39.29 L262.80,38.89 L262.88,39.30 L262.96,38.88 L263.04,39.29 L263.12,38.86 L263.20,39.33 L263.28,38.90 L263.36,39.32 L263.44,38.87 L263.52,39.34 L263.60,38.92 L263.68,39.33 L263.76,38.91 L263.84,39.34 L263.92,38.95 L264.00,39.33 L264.08,38.95 L264.16,39.36 L264.24,38.96 L264.32,39.35 L264.40,38.94 L264.48,39.39 L264.56,38.96 L264.64,39.40 L264.72,39.00 L264.80,39.38 L264.88,38.99 L264.96,39.42 L265.04,38.98 L265.12,39.43 L265.20,39.00 L265.28,39.45 L265.36,39.02 L265.44,39.42 L265.52,39.01 L265.60,39.44 L265.68,39.04 L265.76,39.44 L265.84,39.06 L265.92,39.48 L266.00,39.07 L266.08,39.48 L266.16,39.09 L266.24,39.49 L266.32,39.11 L266.40,39.51 L266.48,39.10 L266.56,39.48 L266.64,39.09 L266.72,39.50 L266.80,39.13 L266.88,39.52 L266.96,39.16 L267.04,39.55 L267.12,39.16 L267.20,39.55 L267.28,39.16 L267.36,39.59 L267.44,39.20 L267.52,39.57 L267.60,39.20 L267.68,39.62 L267.76,39.21 L267.84,39.60 L267.92,39.21 L268.00,39.64 L268.08,39.21 L268.16,39.65 L268.24,39.26 L268.32,39.68 L268.40,39.26 L268.48,39.67 L268.56,39.30 L268.64,39.71 L268.72,39.29 L268.80,39.69 L268.88,39.27 L268.96,39.73 L269.04,39.33 L269.12,39.77 L269.20,39.34 L269.28,39.75 L269.36,39.37 L269.44,39.78 L269.52,39.37 L269.60,39.82 L269.68,39.36 L269.76,39.81 L269.84,39.39 L269.92,39.84 L270.00,39.41 L270.08,39.82 L270.16,39.43 L270.24,39.87 L270.32,39.45 L270.40,39.88 L270.48,39.47 L270.56,39.90 L270.64,39.47 L270.72,39.94 L270.80,39.50 L270.88,39.91 L270.96,39.50 L271.04,39.91 L271.12,39.54 L271.20,39.92 L271.28,39.55 L271.36,39.96 L271.44,39.55 L271.52,39.97 L271.60,39.59 L271.68,40.02 L271.76,39.62 L271.84,40.01 L271.92,39.62 L272.00,40.04 L272.08,39.62 L272.16,40.06 L272.24,39.65 L272.32,40.06 L272.40,39.65 L272.48,40.07 L272.56,39.70 L272.64,40.10 L272.72,39.68 L272.80,40.12 L272.88,39.68 L272.96,40.15 L273.04,39.71 L273.12,40.15 L273.20,39.73 L273.28,40.16 L273.36,39.76 L273.44,40.20 L273.52,39.74 L273.60,40.17 L273.68,39.81 L273.76,40.21 L273.84,39.81 L273.92,40.22 L274.00,39.81 L274.08,40.24 L274.16,39.86 L274.24,40.27 L274.32,39.87 L274.40,40.28 L274.48,39.88 L274.56,40.31 L274.64,39.88 L274.72,40.30 L274.80,39.90 L274.88,40.32 L274.96,39.89 L275.04,40.31 L275.12,39.94 L275.20,40.35 L275.28,39.94 L275.36,40.38 L275.44,39.95 L275.52,40.36 L275.60,39.97 L275.68,40.41 L275.76,40.00 L275.84,40.38 L275.92,40.00 L276.00,40.43 L276.08,40.02 L276.16,40.45 L276.24,40.03 L276.32,40.46 L276.40,40.05 L276.48,40.47 L276.56,40.05 L276.64,40.49 L276.72,40.08 L276.80,40.47 L276.88,40.06 L276.96,40.49 L277.04,40.11 L277.12,40.48 L277.20,40.10 L277.28,40.51 L277.36,40.13 L277.44,40.52 L277.52,40.13 L277.60,40.52 L277.68,40.16 L277.76,40.56 L277.84,40.13 L277.92,40.57 L278.00,40.14 L278.08,40.58 L278.16,40.18 L278.24,40.59 L278.32,40.20 L278.40,40.59 L278.48,40.17 L278.56,40.59 L278.64,40.19 L278.72,40.61 L278.80,40.19 L278.88,40.63 L278.96,40.21 L279.04,40.65 L279.12,40.19 L279.20,40.63 L279.28,40.22 L279.36,40.67 L279.44,40.21 L279.52,40.66 L279.60,40.25 L279.68,40.65 L279.76,40.27 L279.84,40.66 L279.92,40.24 L280.00,40.66 L280.08,40.26 L280.16,40.65 L280.24,40.25 L280.32,40.68 L280.40,40.28 L280.48,40.71 L280.56,40.29 L280.64,40.69 L280.72,40.29 L280.80,40.69 L280.88,40.28 L280.96,40.68 L281.04,40.27 L281.12,40.70 L281.20,40.30 L281.28,40.68 L281.36,40.27 L281.44,40.69 L281.52,40.29 L281.60,40.73 L281.68,40.28 L281.76,40.71 L281.84,40.28 L281.92,40.73 L282.00,40.27 L282.08,40.71 L282.16,40.33 L282.24,40.68 L282.32,40.27 L282.40,40.70 L282.48,40.28 L282.56,40.68 L282.64,40.29 L282.72,40.69 L282.80,40.29 L282.88,40.70 L282.96,40.29 L283.04,40.65 L283.12,40.25 L283.20,40.65 L283.28,40.24 L283.36,40.63 L283.44,40.22 L283.52,40.59 L283.60,40.23 L283.68,40.58 L283.76,40.22 L283.84,40.60 L283.92,40.18 L284.00,40.58 L284.08,40.18 L284.16,40.56 L284.24,40.15 L284.32,40.54 L284.40,40.12 L284.48,40.50 L284.56,40.08 L284.64,40.48 L284.72,40.08 L284.80,40.46 L284.88,40.07 L284.96,40.42 L285.04,40.03 L285.12,40.41 L285.20,40.03 L285.28,40.39 L285.36,40.00 L285.44,40.36 L285.52,39.97 L285.60,40.32 L285.68,39.93 L285.76,40.31 L285.84,39.91 L285.92,40.28 L286.00,39.89 L286.08,40.26 L286.16,39.86 L286.24,40.21 L286.32,39.81 L286.40,40.18 L286.48,39.80 L286.56,40.17 L286.64,39.75 L286.72,40.14 L286.80,39.73 L286.88,40.10 L286.96,39.74 L287.04,40.08 L287.12,39.70 L287.20,40.06 L287.28,39.67 L287.36,40.03 L287.44,39.64 L287.52,39.99 L287.60,39.63 L287.68,39.98 L287.76,39.58 L287.84,39.91 L287.92,39.58 L288.00,39.92 L288.08,39.55 L288.16,39.88 L288.24,39.53 L288.32,39.86 L288.40,39.48 L288.48,39.84 L288.56,39.49 L288.64,39.80 L288.72,39.46 L288.80,39.78 L288.88,39.42 L288.96,39.76 L289.04,39.44 L289.12,39.75 L289.20,39.41 L289.28,39.71 L289.36,39.38 L289.44,39.72 L289.52,39.36 L289.60,39.70 L289.68,39.34 L289.76,39.66 L289.84,39.34 L289.92,39.68 L290.00,39.35 L290.08,39.66 L290.16,39.32 L290.24,39.63 L290.32,39.29 L290.40,39.63 L290.48,39.28 L290.56,39.64 L290.64,39.29 L290.72,39.61 L290.80,39.28 L290.88,39.61 L290.96,39.27 L291.04,39.60 L291.12,39.25 L291.20,39.57 L291.28,39.25 L291.36,39.58 L291.44,39.24 L291.52,39.55 L291.60,39.23 L291.68,39.54 L291.76,39.19 L291.84,39.55 L291.92,39.22 L292.00,39.52 L292.08,39.18 L292.16,39.54 L292.24,39.15 L292.32,39.51 L292.40,39.14 L292.48,39.49 L292.56,39.16 L292.64,39.48 L292.72,39.15 L292.80,39.48 L292.88,39.14 L292.96,39.46 L293.04,39.13 L293.12,39.46 L293.20,39.12 L293.28,39.44 L293.36,39.11 L293.44,39.44 L293.52,39.10 L293.60,39.41 L293.68,39.10 L293.76,39.40 L293.84,39.11 L293.92,39.42 L294.00,39.08 L294.08,39.42 L294.16,39.09 L294.24,39.39 L294.32,39.05 L294.40,39.39 L294.48,39.04 L294.56,39.38 L294.64,39.05 L294.72,39.39 L294.80,39.07 L294.88,39.38 L294.96,39.07 L295.04,39.36 L295.12,39.06 L295.20,39.36 L295.28,39.05 L295.36,39.39 L295.44,39.03 L295.52,39.38 L295.60,39.03 L295.68,39.38 L295.76,39.02 L295.84,39.36 L295.92,39.03 L296.00,39.39 L296.08,39.02 L296.16,39.37 L296.24,39.04 L296.32,39.36 L296.40,39.04 L296.48,39.36 L296.56,39.04 L296.64,39.36 L296.72,39.06 L296.80,39.37 L296.88,39.05 L296.96,39.37 L297.04,39.05 L297.12,39.37 L297.20,39.05 L297.28,39.37 L297.36,39.07 L297.44,39.35 L297.52,39.07 L297.60,39.38 L297.68,39.06 L297.76,39.37 L297.84,39.06 L297.92,39.38 L298.00,39.07 L298.08,39.40" fill="none" stroke="#111" stroke-width="0.45" stroke-linejoin="round"/>
<path d="M298.08,39.40 L298.16,39.08 L298.24,39.39 L298.32,39.10 L298.40,39.39 L298.48,39.10 L298.56,39.39 L298.64,39.08 L298.72,39.39 L298.80,39.11 L298.88,39.39 L298.96,39.12 L299.04,39.39 L299.12,39.11 L299.20,39.42 L299.28,39.12 L299.36,39.42 L299.44,39.14 L299.52,39.42 L299.60,39.14 L299.68,39.43 L299.76,39.14 L299.84,39.45 L299.92,39.16 L300.00,39.44 L300.08,39.18 L300.16,39.47 L300.24,39.18 L300.32,39.45 L300.40,39.18 L300.48,39.46 L300.56,39.20 L300.64,39.48 L300.72,39.23 L300.80,39.48 L300.88,39.23 L300.96,39.49 L301.04,39.25 L301.12,39.49 L301.20,39.24 L301.28,39.52 L301.36,39.26 L301.44,39.52 L301.52,39.26 L301.60,39.54 L301.68,39.29 L301.76,39.55 L301.84,39.32 L301.92,39.56 L302.00,39.35 L302.08,39.61 L302.16,39.36 L302.24,39.64 L302.32,39.41 L302.40,39.69 L302.48,39.44 L302.56,39.73 L302.64,39.52 L302.72,39.79 L302.80,39.55 L302.88,39.84 L302.96,39.60 L303.04,39.90 L303.12,39.69 L303.20,39.96 L303.28,39.74 L303.36,40.03 L303.44,39.82 L303.52,40.08 L303.60,39.86 L303.68,40.14 L303.76,39.94 L303.84,40.21 L303.92,40.02 L304.00,40.28 L304.08,40.07 L304.16,40.35 L304.24,40.14 L304.32,40.43 L304.40,40.21 L304.48,40.50 L304.56,40.30 L304.64,40.58 L304.72,40.35 L304.80,40.65 L304.88,40.43 L304.96,40.70 L305.04,40.50 L305.12,40.79 L305.20,40.58 L305.28,40.83 L305.36,40.63 L305.44,40.91 L305.52,40.72 L305.60,40.98 L305.68,40.79 L305.76,41.06 L305.84,40.85 L305.92,41.11 L306.00,40.94 L306.08,41.21 L306.16,41.02 L306.24,41.28 L306.32,41.10 L306.40,41.35 L306.48,41.17 L306.56,41.44 L306.64,41.26 L306.72,41.50 L306.80,41.35 L306.88,41.61 L306.96,41.44 L307.04,41.68 L307.12,41.53 L307.20,41.78 L307.28,41.60 L307.36,41.86 L307.44,41.69 L307.52,41.95 L307.60,41.78 L307.68,42.02 L307.76,41.89 L307.84,42.12 L307.92,41.98 L308.00,42.22 L308.08,42.07 L308.16,42.30 L308.24,42.18 L308.32,42.39 L308.40,42.26 L308.48,42.49 L308.56,42.35 L308.64,42.58 L308.72,42.44 L308.80,42.67 L308.88,42.54 L308.96,42.76 L309.04,42.64 L309.12,42.85 L309.20,42.74 L309.28,42.95 L309.36,42.83 L309.44,43.04 L309.52,42.94 L309.60,43.16 L309.68,43.04 L309.76,43.26 L309.84,43.14 L309.92,43.35 L310.00,43.24 L310.08,43.46 L310.16,43.36 L310.24,43.58 L310.32,43.45 L310.40,43.68 L310.48,43.56 L310.56,43.79 L310.64,43.66 L310.72,43.89 L310.80,43.80 L310.88,44.02 L310.96,43.89 L311.04,44.13 L311.12,44.01 L311.20,44.23 L311.28,44.12 L311.36,44.35 L311.44,44.24 L311.52,44.46 L311.60,44.35 L311.68,44.57 L311.76,44.46 L311.84,44.69 L311.92,44.59 L312.00,44.81 L312.08,44.70 L312.16,44.94 L312.24,44.81 L312.32,45.04 L312.40,44.94 L312.48,45.16 L312.56,45.04 L312.64,45.28 L312.72,45.18 L312.80,45.39 L312.88,45.28 L312.96,45.51 L313.04,45.40 L313.12,45.62 L313.20,45.52 L313.28,45.75 L313.36,45.65 L313.44,45.87 L313.52,45.75 L313.60,45.98 L313.68,45.87 L313.76,46.09 L313.84,45.97 L313.92,46.21 L314.00,46.09 L314.08,46.32 L314.16,46.21 L314.24,46.43 L314.32,46.33 L314.40,46.55 L314.48,46.42 L314.56,46.66 L314.64,46.54 L314.72,46.75 L314.80,46.66 L314.88,46.87 L314.96,46.76 L315.04,46.98 L315.12,46.86 L315.20,47.09 L315.28,46.98 L315.36,47.19 L315.44,47.07 L315.52,47.29 L315.60,47.18 L315.68,47.41 L315.76,47.28 L315.84,47.50 L315.92,47.40 L316.00,47.60 L316.08,47.50 L316.16,47.72 L316.24,47.60 L316.32,47.81 L316.40,47.71 L316.48,47.93 L316.56,47.83 L316.64,48.03 L316.72,47.92 L316.80,48.15 L316.88,48.03 L316.96,48.25 L317.04,48.15 L317.12,48.36 L317.20,48.23 L317.28,48.47 L317.36,48.35 L317.44,48.57 L317.52,48.46 L317.60,48.68 L317.68,48.56 L317.76,48.80 L317.84,48.68 L317.92,48.89 L318.00,48.78 L318.08,48.99 L318.16,48.89 L318.24,49.10 L318.32,48.99 L318.40,49.21 L318.48,49.09 L318.56,49.33 L318.64,49.19 L318.72,49.41 L318.80,49.29 L318.88,49.53 L318.96,49.40 L319.04,49.62 L319.12,49.51 L319.20,49.72 L319.28,49.60 L319.36,49.81 L319.44,49.70 L319.52,49.92 L319.60,49.80 L319.68,50.02 L319.76,49.88 L319.84,50.10 L319.92,49.98 L320.00,50.20 L320.08,50.08 L320.16,50.29 L320.24,50.16 L320.32,50.37 L320.40,50.24 L320.48,50.45 L320.56,50.35 L320.64,50.56 L320.72,50.42 L320.80,50.64 L320.88,50.50 L320.96,50.71 L321.04,50.58 L321.12,50.79 L321.20,50.67 L321.28,50.87 L321.36,50.74 L321.44,50.94 L321.52,50.80 L321.60,51.00 L321.68,50.87 L321.76,51.07 L321.84,50.93 L321.92,51.12 L322.00,50.99 L322.08,51.20 L322.16,51.07 L322.24,51.25 L322.32,51.13 L322.40,51.33 L322.48,51.19 L322.56,51.38 L322.64,51.25 L322.72,51.44 L322.80,51.31 L322.88,51.50 L322.96,51.38 L323.04,51.57 L323.12,51.44 L323.20,51.63 L323.28,51.50 L323.36,51.68 L323.44,51.57 L323.52,51.76 L323.60,51.62 L323.68,51.81 L323.76,51.68 L323.84,51.86 L323.92,51.73 L324.00,51.94 L324.08,51.79 L324.16,51.97 L324.24,51.84 L324.32,52.04 L324.40,51.90 L324.48,52.08 L324.56,51.94 L324.64,52.13 L324.72,52.00 L324.80,52.19 L324.88,52.06 L324.96,52.23 L325.04,52.09 L325.12,52.29 L325.20,52.13 L325.28,52.33 L325.36,52.19 L325.44,52.37 L325.52,52.23 L325.60,52.41 L325.68,52.27 L325.76,52.45 L325.84,52.30 L325.92,52.50 L326.00,52.34 L326.08,52.53 L326.16,52.38 L326.24,52.55 L326.32,52.40 L326.40,52.59 L326.48,52.43 L326.56,52.61 L326.64,52.46 L326.72,52.64 L326.80,52.49 L326.88,52.66 L326.96,52.51 L327.04,52.69 L327.12,52.52 L327.20,52.71 L327.28,52.55 L327.36,52.72 L327.44,52.57 L327.52,52.75 L327.60,52.59 L327.68,52.77 L327.76,52.60 L327.84,52.79 L327.92,52.63 L328.00,52.80 L328.08,52.64 L328.16,52.83 L328.24,52.66 L328.32,52.84 L328.40,52.69 L328.48,52.85 L328.56,52.69 L328.64,52.87 L328.72,52.71 L328.80,52.89 L328.88,52.74 L328.96,52.91 L329.04,52.74 L329.12,52.92 L329.20,52.76 L329.28,52.93 L329.36,52.77 L329.44,52.95 L329.52,52.79 L329.60,52.96 L329.68,52.82 L329.76,52.98 L329.84,52.82 L329.92,53.00 L330.00,52.83 L330.08,53.01 L330.16,52.85 L330.24,53.03 L330.32,52.85 L330.40,53.03 L330.48,52.87 L330.56,53.05 L330.64,52.88 L330.72,53.06 L330.80,52.90 L330.88,53.08 L330.96,52.90 L331.04,53.08 L331.12,52.92 L331.20,53.09 L331.28,52.93 L331.36,53.11 L331.44,52.93 L331.52,53.13 L331.60,52.95 L331.68,53.12 L331.76,52.97 L331.84,53.13 L331.92,52.97 L332.00,53.15 L332.08,52.98 L332.16,53.16 L332.24,52.98 L332.32,53.18 L332.40,53.00 L332.48,53.17 L332.56,53.01 L332.64,53.19 L332.72,53.01 L332.80,53.19 L332.88,53.03 L332.96,53.20 L333.04,53.04 L333.12,53.21 L333.20,53.04 L333.28,53.23 L333.36,53.05 L333.44,53.23 L333.52,53.06 L333.60,53.23 L333.68,53.08 L333.76,53.24 L333.84,53.07 L333.92,53.26 L334.00,53.08 L334.08,53.26 L334.16,53.09 L334.24,53.27 L334.32,53.11 L334.40,53.29 L334.48,53.11 L334.56,53.29 L334.64,53.12 L334.72,53.30 L334.80,53.12 L334.88,53.30 L334.96,53.14 L335.04,53.30 L335.12,53.15 L335.20,53.32 L335.28,53.14 L335.36,53.31 L335.44,53.16 L335.52,53.32 L335.60,53.16 L335.68,53.33 L335.76,53.17 L335.84,53.34 L335.92,53.17 L336.00,53.34 L336.08,53.17 L336.16,53.33 L336.24,53.17 L336.32,53.36 L336.40,53.19 L336.48,53.36 L336.56,53.19 L336.64,53.37 L336.72,53.20 L336.80,53.37 L336.88,53.20 L336.96,53.36 L337.04,53.20 L337.12,53.37 L337.20,53.21 L337.28,53.38 L337.36,53.22 L337.44,53.38 L337.52,53.22 L337.60,53.39 L337.68,53.22 L337.76,53.39 L337.84,53.23 L337.92,53.40 L338.00,53.23 L338.08,53.40 L338.16,53.24 L338.24,53.40 L338.32,53.24 L338.40,53.42 L338.48,53.26 L338.56,53.41 L338.64,53.26 L338.72,53.41 L338.80,53.25 L338.88,53.42 L338.96,53.27 L339.04,53.42 L339.12,53.27 L339.20,53.42 L339.28,53.27 L339.36,53.43 L339.44,53.28 L339.52,53.43 L339.60,53.27 L339.68,53.44 L339.76,53.28 L339.84,53.45 L339.92,53.28 L340.00,53.46 L340.08,53.28 L340.16,53.47 L340.24,53.29 L340.32,53.46 L340.40,53.29 L340.48,53.47 L340.56,53.31 L340.64,53.46 L340.72,53.31 L340.80,53.48 L340.88,53.31 L340.96,53.48 L341.04,53.32 L341.12,53.48 L341.20,53.32 L341.28,53.49 L341.36,53.33 L341.44,53.48 L341.52,53.33 L341.60,53.50 L341.68,53.34 L341.76,53.50 L341.84,53.35 L341.92,53.51 L342.00,53.35 L342.08,53.52 L342.16,53.35 L342.24,53.52 L342.32,53.36 L342.40,53.52 L342.48,53.36 L342.56,53.53 L342.64,53.37 L342.72,53.55 L342.80,53.38 L342.88,53.55 L342.96,53.38 L343.04,53.56 L343.12,53.39 L343.20,53.57 L343.28,53.42 L343.36,53.58 L343.44,53.41 L343.52,53.59 L343.60,53.42 L343.68,53.60 L343.76,53.43 L343.84,53.60 L343.92,53.45 L344.00,53.62 L344.08,53.45 L344.16,53.62 L344.24,53.47 L344.32,53.63 L344.40,53.48 L344.48,53.65 L344.56,53.49 L344.64,53.66 L344.72,53.51 L344.80,53.67 L344.88,53.52 L344.96,53.68 L345.04,53.53 L345.12,53.70 L345.20,53.54 L345.28,53.71 L345.36,53.56 L345.44,53.73 L345.52,53.57 L345.60,53.75 L345.68,53.59 L345.76,53.77 L345.84,53.61 L345.92,53.79 L346.00,53.63 L346.08,53.80 L346.16,53.64 L346.24,53.81 L346.32,53.65 L346.40,53.83 L346.48,53.68 L346.56,53.86 L346.64,53.69 L346.72,53.87 L346.80,53.72 L346.88,53.90 L346.96,53.73 L347.04,53.91 L347.12,53.76 L347.20,53.93 L347.28,53.79 L347.36,53.96 L347.44,53.81 L347.52,53.98 L347.60,53.83 L347.68,54.00 L347.76,53.84 L347.84,54.02 L347.92,53.86 L348.00,54.04 L348.08,53.89 L348.16,54.07 L348.24,53.91 L348.32,54.10 L348.40,53.93 L348.48,54.13 L348.56,53.97 L348.64,54.15 L348.72,53.99 L348.80,54.17 L348.88,54.01 L348.96,54.20 L349.04,54.04 L349.12,54.23 L349.20,54.07 L349.28,54.25 L349.36,54.10 L349.44,54.28 L349.52,54.12 L349.60,54.31 L349.68,54.15 L349.76,54.34 L349.84,54.18 L349.92,54.37 L350.00,54.23 L350.08,54.39 L350.16,54.25 L350.24,54.44 L350.32,54.28 L350.40,54.47 L350.48,54.32 L350.56,54.51 L350.64,54.37 L350.72,54.56 L350.80,54.42 L350.88,54.61 L350.96,54.47 L351.04,54.66 L351.12,54.52 L351.20,54.71 L351.28,54.57 L351.36,54.77 L351.44,54.62 L351.52,54.83 L351.60,54.69 L351.68,54.89 L351.76,54.75 L351.84,54.95 L351.92,54.82 L352.00,55.01 L352.08,54.88 L352.16,55.09 L352.24,54.96 L352.32,55.16 L352.40,55.01 L352.48,55.21 L352.56,55.09 L352.64,55.28 L352.72,55.16 L352.80,55.36 L352.88,55.21 L352.96,55.41 L353.04,55.29 L353.12,55.48 L353.20,55.34 L353.28,55.53 L353.36,55.41 L353.44,55.60 L353.52,55.47 L353.60,55.67 L353.68,55.52 L353.76,55.74 L353.84,55.59 L353.92,55.78 L354.00,55.65 L354.08,55.85 L354.16,55.70 L354.24,55.89 L354.32,55.75 L354.40,55.94 L354.48,55.80 L354.56,55.98 L354.64,55.83 L354.72,56.01 L354.80,55.87 L354.88,56.06 L354.96,55.90 L355.04,56.09 L355.12,55.93 L355.20,56.13 L355.28,55.97 L355.36,56.16 L355.44,56.01 L355.52,56.18 L355.60,56.02 L355.68,56.21 L355.76,56.07 L355.84,56.25 L355.92,56.08 L356.00,56.26 L356.08,56.11 L356.16,56.28 L356.24,56.15 L356.32,56.33 L356.40,56.17 L356.48,56.34 L356.56,56.19 L356.64,56.36 L356.72,56.21 L356.80,56.39 L356.88,56.24 L356.96,56.41 L357.04,56.25 L357.12,56.44 L357.20,56.28 L357.28,56.46 L357.36,56.29 L357.44,56.46 L357.52,56.31 L357.60,56.49 L357.68,56.33 L357.76,56.51 L357.84,56.35 L357.92,56.55 L358.00,56.37 L358.08,56.55 L358.16,56.40 L358.24,56.59 L358.32,56.42 L358.40,56.59 L358.48,56.43 L358.56,56.62 L358.64,56.45 L358.72,56.63 L358.80,56.48 L358.88,56.64 L358.96,56.49 L359.04,56.65 L359.12,56.49 L359.20,56.69 L359.28,56.52 L359.36,56.70 L359.44,56.55 L359.52,56.73 L359.60,56.56 L359.68,56.74 L359.76,56.57 L359.84,56.75 L359.92,56.58 L360.00,56.77 L360.08,56.61 L360.16,56.78 L360.24,56.62 L360.32,56.80 L360.40,56.65 L360.48,56.82 L360.56,56.65 L360.64,56.83 L360.72,56.67 L360.80,56.83 L360.88,56.70 L360.96,56.86 L361.04,56.72 L361.12,56.88 L361.20,56.73 L361.28,56.90 L361.36,56.75 L361.44,56.91 L361.52,56.76 L361.60,56.93 L361.68,56.77 L361.76,56.96 L361.84,56.79 L361.92,56.96 L362.00,56.80 L362.08,56.99 L362.16,56.84 L362.24,57.00 L362.32,56.85 L362.40,57.01 L362.48,56.87 L362.56,57.03 L362.64,56.89 L362.72,57.06 L362.80,56.91 L362.88,57.09 L362.96,56.93 L363.04,57.10 L363.12,56.94 L363.20,57.12 L363.28,56.97 L363.36,57.14 L363.44,56.98 L363.52,57.16 L363.60,57.00 L363.68,57.18 L363.76,57.04 L363.84,57.20 L363.92,57.05 L364.00,57.23 L364.08,57.08 L364.16,57.23 L364.24,57.09 L364.32,57.27 L364.40,57.13 L364.48,57.30 L364.56,57.14 L364.64,57.33 L364.72,57.16 L364.80,57.36 L364.88,57.20 L364.96,57.38 L365.04,57.22 L365.12,57.41 L365.20,57.26 L365.28,57.42 L365.36,57.28 L365.44,57.46 L365.52,57.30 L365.60,57.50 L365.68,57.33 L365.76,57.53 L365.84,57.36 L365.92,57.56 L366.00,57.40 L366.08,57.58 L366.16,57.43 L366.24,57.62 L366.32,57.47 L366.40,57.64 L366.48,57.50 L366.56,57.68 L366.64,57.54 L366.72,57.71 L366.80,57.56 L366.88,57.74 L366.96,57.60 L367.04,57.78 L367.12,57.64 L367.20,57.83 L367.28,57.67 L367.36,57.86 L367.44,57.70 L367.52,57.90 L367.60,57.75 L367.68,57.93 L367.76,57.80 L367.84,57.97 L367.92,57.83 L368.00,58.01 L368.08,57.86 L368.16,58.05 L368.24,57.89 L368.32,58.09 L368.40,57.94 L368.48,58.12 L368.56,57.98 L368.64,58.17 L368.72,58.01 L368.80,58.20 L368.88,58.06 L368.96,58.24 L369.04,58.10 L369.12,58.28 L369.20,58.14 L369.28,58.32 L369.36,58.18 L369.44,58.37 L369.52,58.22 L369.60,58.41 L369.68,58.26 L369.76,58.45 L369.84,58.30 L369.92,58.50 L370.00,58.34 L370.08,58.54 L370.16,58.38 L370.24,58.57 L370.32,58.44 L370.40,58.61 L370.48,58.49 L370.56,58.67 L370.64,58.52 L370.72,58.71 L370.80,58.57 L370.88,58.76 L370.96,58.61 L371.04,58.79 L371.12,58.64 L371.20,58.83 L371.28,58.70 L371.36,58.87 L371.44,58.73 L371.52,58.93 L371.60,58.79 L371.68,58.98 L371.76,58.84 L371.84,59.02 L371.92,58.86 L372.00,59.05 L372.08,58.92 L372.16,59.11 L372.24,58.95 L372.32,59.15 L372.40,59.00 L372.48,59.19 L372.56,59.05 L372.64,59.24 L372.72,59.10 L372.80,59.28 L372.88,59.14 L372.96,59.32 L373.04,59.18 L373.12,59.36 L373.20,59.23 L373.28,59.43 L373.36,59.26 L373.44,59.46 L373.52,59.32 L373.60,59.50 L373.68,59.36 L373.76,59.54 L373.84,59.41 L373.92,59.59 L374.00,59.45 L374.08,59.64 L374.16,59.48 L374.24,59.67 L374.32,59.54 L374.40,59.73 L374.48,59.57 L374.56,59.77 L374.64,59.61 L374.72,59.81 L374.80,59.65 L374.88,59.86 L374.96,59.69 L375.04,59.89 L375.12,59.76 L375.20,59.92 L375.28,59.79 L375.36,59.98 L375.44,59.84 L375.52,60.02 L375.60,59.87 L375.68,60.07 L375.76,59.93 L375.84,60.12 L375.92,59.95 L376.00,60.14 L376.08,60.00 L376.16,60.18 L376.24,60.05 L376.32,60.23 L376.40,60.08 L376.48,60.27 L376.56,60.12 L376.64,60.31 L376.72,60.15 L376.80,60.36 L376.88,60.21 L376.96,60.40 L377.04,60.23 L377.12,60.44 L377.20,60.30 L377.28,60.49 L377.36,60.33 L377.44,60.53 L377.52,60.36 L377.60,60.57 L377.68,60.41 L377.76,60.61 L377.84,60.44 L377.92,60.66 L378.00,60.49 L378.08,60.71 L378.16,60.54 L378.24,60.75 L378.32,60.59 L378.40,60.80 L378.48,60.63 L378.56,60.86 L378.64,60.68 L378.72,60.89 L378.80,60.71 L378.88,60.94 L378.96,60.78 L379.04,60.99 L379.12,60.81 L379.20,61.05 L379.28,60.87 L379.36,61.09 L379.44,60.93 L379.52,61.13 L379.60,60.97 L379.68,61.18 L379.76,61.02 L379.84,61.26 L379.92,61.08 L380.00,61.30 L380.08,61.12 L380.16,61.35 L380.24,61.18 L380.32,61.41 L380.40,61.23 L380.48,61.47 L380.56,61.29 L380.64,61.52 L380.72,61.36 L380.80,61.59 L380.88,61.41 L380.96,61.64 L381.04,61.47 L381.12,61.71 L381.20,61.53 L381.28,61.76 L381.36,61.60 L381.44,61.83 L381.52,61.66 L381.60,61.87 L381.68,61.72 L381.76,61.93 L381.84,61.77 L381.92,62.01 L382.00,61.82 L382.08,62.07 L382.16,61.90 L382.24,62.13 L382.32,61.96 L382.40,62.20 L382.48,62.02 L382.56,62.27 L382.64,62.10 L382.72,62.33 L382.80,62.17 L382.88,62.42 L382.96,62.21 L383.04,62.48 L383.12,62.27 L383.20,62.57 L383.28,62.37 L383.36,62.63 L383.44,62.42 L383.52,62.71 L383.60,62.50 L383.68,62.77 L383.76,62.56 L383.84,62.82 L383.92,62.64 L384.00,62.90 L384.08,62.68 L384.16,62.99 L384.24,62.78 L384.32,63.07 L384.40,62.86 L384.48,63.12 L384.56,62.92 L384.64,63.21 L384.72,62.99 L384.80,63.26 L384.88,63.05 L384.96,63.36 L385.04,63.12 L385.12,63.43 L385.20,63.19 L385.28,63.51 L385.36,63.27 L385.44,63.58 L385.52,63.35 L385.60,63.66 L385.68,63.42 L385.76,63.75 L385.84,63.52 L385.92,63.81 L386.00,63.60 L386.08,63.91 L386.16,63.67 L386.24,63.98 L386.32,63.75 L386.40,64.06 L386.48,63.82 L386.56,64.13 L386.64,63.89 L386.72,64.20 L386.80,63.99 L386.88,64.30 L386.96,64.08 L387.04,64.37 L387.12,64.14 L387.20,64.46 L387.28,64.22 L387.36,64.53 L387.44,64.31 L387.52,64.60 L387.60,64.38 L387.68,64.69 L387.76,64.48 L387.84,64.79 L387.92,64.55 L388.00,64.87 L388.08,64.63 L388.16,64.93 L388.24,64.69 L388.32,65.01 L388.40,64.79 L388.48,65.11 L388.56,64.85 L388.64,65.18 L388.72,64.95 L388.80,65.28 L388.88,65.02 L388.96,65.37 L389.04,65.12 L389.12,65.44 L389.20,65.20 L389.28,65.54 L389.36,65.27 L389.44,65.61 L389.52,65.36 L389.60,65.72 L389.68,65.45 L389.76,65.78 L389.84,65.54 L389.92,65.87 L390.00,65.59 L390.08,65.95 L390.16,65.70 L390.24,66.03 L390.32,65.78 L390.40,66.11 L390.48,65.89 L390.56,66.19 L390.64,65.93 L390.72,66.30 L390.80,66.04 L390.88,66.37 L390.96,66.12 L391.04,66.47 L391.12,66.19 L391.20,66.56 L391.28,66.29 L391.36,66.64 L391.44,66.37 L391.52,66.70 L391.60,66.47 L391.68,66.82 L391.76,66.54 L391.84,66.92 L391.92,66.62 L392.00,67.00 L392.08,66.69 L392.16,67.09 L392.24,66.79 L392.32,67.18 L392.40,66.89 L392.48,67.25 L392.56,66.96 L392.64,67.33 L392.72,67.03 L392.80,67.45 L392.88,67.11 L392.96,67.51 L393.04,67.22 L393.12,67.58 L393.20,67.31 L393.28,67.69 L393.36,67.38 L393.44,67.79 L393.52,67.49 L393.60,67.88 L393.68,67.56 L393.76,67.93 L393.84,67.64 L393.92,68.05 L394.00,67.73 L394.08,68.14 L394.16,67.80 L394.24,68.19 L394.32,67.91 L394.40,68.31 L394.48,67.98 L394.56,68.40 L394.64,68.08 L394.72,68.49 L394.80,68.16 L394.88,68.59 L394.96,68.26 L395.04,68.69 L395.12,68.31 L395.20,68.76 L395.28,68.39 L395.36,68.87 L395.44,68.54 L395.52,68.97 L395.60,68.59 L395.68,69.06 L395.76,68.71 L395.84,69.13 L395.92,68.79 L396.00,69.26 L396.08,68.89 L396.16,69.34 L396.24,68.98 L396.32,69.45 L396.40,69.06 L396.48,69.53 L396.56,69.14 L396.64,69.63 L396.72,69.25 L396.80,69.75 L396.88,69.34 L396.96,69.85 L397.04,69.44 L397.12,69.95 L397.20,69.53 L397.28,70.06 L397.36,69.66 L397.44,70.14 L397.52,69.75 L397.60,70.21 L397.68,69.82 L397.76,70.32 L397.84,69.94 L397.92,70.44 L398.00,70.02 L398.08,70.58 L398.16,70.14 L398.24,70.64 L398.32,70.24 L398.40,70.78 L398.48,70.38 L398.56,70.86 L398.64,70.47 L398.72,70.99 L398.80,70.54 L398.88,71.10 L398.96,70.64 L399.04,71.20 L399.12,70.76 L399.20,71.28 L399.28,70.89 L399.36,71.40 L399.44,71.00 L399.52,71.55 L399.60,71.10 L399.68,71.66 L399.76,71.20 L399.84,71.80 L399.92,71.32 L400.00,71.87 L400.08,71.44 L400.16,72.05 L400.24,71.55 L400.32,72.15 L400.40,71.67 L400.48,72.26 L400.56,71.80 L400.64,72.36 L400.72,71.92 L400.80,72.47 L400.88,72.03 L400.96,72.65 L401.04,72.16 L401.12,72.77 L401.20,72.30 L401.28,72.90 L401.36,72.43 L401.44,73.03 L401.52,72.59 L401.60,73.16 L401.68,72.69 L401.76,73.27 L401.84,72.83 L401.92,73.44 L402.00,72.91 L402.08,73.53 L402.16,73.06 L402.24,73.69 L402.32,73.18 L402.40,73.78 L402.48,73.37 L402.56,73.90 L402.64,73.48 L402.72,74.04 L402.80,73.63 L402.88,74.21 L402.96,73.70 L403.04,74.34 L403.12,73.87 L403.20,74.46 L403.28,73.99 L403.36,74.61 L403.44,74.11 L403.52,74.74 L403.60,74.22 L403.68,74.87 L403.76,74.38 L403.84,75.04 L403.92,74.52 L404.00,75.13 L404.08,74.65 L404.16,75.28 L404.24,74.79 L404.32,75.38 L404.40,74.91 L404.48,75.54 L404.56,75.03 L404.64,75.67 L404.72,75.20 L404.80,75.80 L404.88,75.34 L404.96,75.96 L405.04,75.41 L405.12,76.05 L405.20,75.58 L405.28,76.25 L405.36,75.67 L405.44,76.37 L405.52,75.79 L405.60,76.47 L405.68,75.93 L405.76,76.58 L405.84,76.06 L405.92,76.73 L406.00,76.24 L406.08,76.87 L406.16,76.36 L406.24,77.01 L406.32,76.46 L406.40,77.15 L406.48,76.59 L406.56,77.30 L406.64,76.72 L406.72,77.38 L406.80,76.86 L406.88,77.58 L406.96,76.97 L407.04,77.63 L407.12,77.08 L407.20,77.80 L407.28,77.25 L407.36,77.97 L407.44,77.35 L407.52,78.05 L407.60,77.50 L407.68,78.18 L407.76,77.62 L407.84,78.36 L407.92,77.75 L408.00,78.47 L408.08,77.92 L408.16,78.63 L408.24,78.03 L408.32,78.74 L408.40,78.17 L408.48,78.86 L408.56,78.27 L408.64,79.03 L408.72,78.41 L408.80,79.15 L408.88,78.57 L408.96,79.28 L409.04,78.62 L409.12,79.40 L409.20,78.80 L409.28,79.55 L409.36,78.91 L409.44,79.67 L409.52,79.02 L409.60,79.81 L409.68,79.14 L409.76,79.92 L409.84,79.31 L409.92,80.02 L410.00,79.46 L410.08,80.21 L410.16,79.57 L410.24,80.35 L410.32,79.67 L410.40,80.44 L410.48,79.83 L410.56,80.58 L410.64,79.95 L410.72,80.72 L410.80,80.09 L410.88,80.82 L410.96,80.17 L411.04,80.94 L411.12,80.31 L411.20,81.12 L411.28,80.41 L411.36,81.21 L411.44,80.61 L411.52,81.36 L411.60,80.71 L411.68,81.51 L411.76,80.81 L411.84,81.58 L411.92,80.92 L412.00,81.73 L412.08,81.05 L412.16,81.90 L412.24,81.13 L412.32,82.00 L412.40,81.30 L412.48,82.13 L412.56,81.33 L412.64,82.24 L412.72,81.47 L412.80,82.39 L412.88,81.56 L412.96,82.44 L413.04,81.67 L413.12,82.58 L413.20,81.84 L413.28,82.67 L413.36,81.90 L413.44,82.76 L413.52,82.00 L413.60,82.91 L413.68,82.06 L413.76,83.03 L413.84,82.23 L413.92,83.13 L414.00,82.31 L414.08,83.27 L414.16,82.40 L414.24,83.37 L414.32,82.51 L414.40,83.44 L414.48,82.56 L414.56,83.57 L414.64,82.76 L414.72,83.77 L414.80,82.82 L414.88,83.80 L414.96,82.95 L415.04,83.86 L415.12,83.02 L415.20,84.12 L415.28,83.12 L415.36,84.18 L415.44,83.27 L415.52,84.25 L415.60,83.34 L415.68,84.44 L415.76,83.46 L415.84,84.49 L415.92,83.54 L416.00,84.66 L416.08,83.61 L416.16,84.78 L416.24,83.75 L416.32,84.83 L416.40,83.90 L416.48,85.00 L416.56,83.95 L416.64,85.11 L416.72,84.01 L416.80,85.17 L416.88,84.21 L416.96,85.30 L417.04,84.31 L417.12,85.37 L417.20,84.34 L417.28,85.60 L417.36,84.52 L417.44,85.69 L417.52,84.67 L417.60,85.77 L417.68,84.76 L417.76,85.94 L417.84,84.80 L417.92,86.04 L418.00,85.01 L418.08,86.21 L418.16,85.05 L418.24,86.34 L418.32,85.21 L418.40,86.37 L418.48,85.34 L418.56,86.53 L418.64,85.55 L418.72,86.70 L418.80,85.53 L418.88,86.81 L418.96,85.80 L419.04,86.95 L419.12,85.85 L419.20,87.17 L419.28,85.96 L419.36,87.29 L419.44,86.04 L419.52,87.41 L419.60,86.27 L419.68,87.54 L419.76,86.36 L419.84,87.69 L419.92,86.47 L420.00,87.84 L420.08,86.66 L420.16,88.00 L420.24,86.69 L420.32,88.09 L420.40,86.89 L420.48,88.20 L420.56,87.08 L420.64,88.39 L420.72,87.09 L420.80,88.67 L420.88,87.27 L420.96,88.68 L421.04,87.47 L421.12,88.82 L421.20,87.54 L421.28,89.05 L421.36,87.72 L421.44,89.24 L421.52,87.76 L421.60,89.25 L421.68,87.96 L421.76,89.47 L421.84,88.03 L421.92,89.67 L422.00,88.25 L422.08,89.71 L422.16,88.38 L422.24,89.85 L422.32,88.47 L422.40,90.12 L422.48,88.75 L422.56,90.25 L422.64,88.80 L422.72,90.40 L422.80,89.02 L422.88,90.56 L422.96,89.08 L423.04,90.68 L423.12,89.22 L423.20,90.82 L423.28,89.44 L423.36,91.00 L423.44,89.58 L423.52,91.13 L423.60,89.75 L423.68,91.34 L423.76,89.90 L423.84,91.43 L423.92,90.10 L424.00,91.59 L424.08,90.13 L424.16,91.79 L424.24,90.41 L424.32,91.82 L424.40,90.41 L424.48,92.16 L424.56,90.56 L424.64,92.26 L424.72,90.73 L424.80,92.31 L424.88,90.81 L424.96,92.52 L425.04,91.04 L425.12,92.70 L425.20,91.09 L425.28,92.88 L425.36,91.40 L425.44,93.04 L425.52,91.48 L425.60,93.18 L425.68,91.64 L425.76,93.24 L425.84,91.78 L425.92,93.57 L426.00,91.88 L426.08,93.62 L426.16,92.10 L426.24,93.66 L426.32,92.18 L426.40,93.95 L426.48,92.36 L426.56,94.01 L426.64,92.48 L426.72,94.27 L426.80,92.71 L426.88,94.36 L426.96,92.89 L427.04,94.63 L427.12,93.02 L427.20,94.75 L427.28,93.09 L427.36,94.95 L427.44,93.27 L427.52,95.06 L427.60,93.42 L427.68,95.10 L427.76,93.68 L427.84,95.36 L427.92,93.82 L428.00,95.47 L428.08,94.02 L428.16,95.72 L428.24,94.17 L428.32,95.78 L428.40,94.27 L428.48,96.05 L428.56,94.47 L428.64,96.21 L428.72,94.57 L428.80,96.28 L428.88,94.64 L428.96,96.56 L429.04,94.92 L429.12,96.66 L429.20,94.93 L429.28,96.84 L429.36,95.24 L429.44,97.09 L429.52,95.37 L429.60,97.14 L429.68,95.67 L429.76,97.33 L429.84,95.62 L429.92,97.58 L430.00,95.91 L430.08,97.69 L430.16,96.03 L430.24,97.79 L430.32,96.12 L430.40,98.12 L430.48,96.33 L430.56,98.24 L430.64,96.47 L430.72,98.30 L430.80,96.81 L430.88,98.67 L430.96,97.00 L431.04,98.68 L431.12,97.04 L431.20,98.77 L431.28,97.17 L431.36,99.06 L431.44,97.43 L431.52,99.26 L431.60,97.62 L431.68,99.42 L431.76,97.74 L431.84,99.53 L431.92,97.78 L432.00,99.74 L432.08,98.02 L432.16,99.85 L432.24,98.30 L432.32,100.08 L432.40,98.42 L432.48,100.30 L432.56,98.56 L432.64,100.52 L432.72,98.68 L432.80,100.67 L432.88,98.89 L432.96,100.86 L433.04,99.12 L433.12,100.84 L433.20,99.25 L433.28,101.09 L433.36,99.41 L433.44,101.32 L433.52,99.57 L433.60,101.48 L433.68,99.92 L433.76,101.56 L433.84,99.89 L433.92,101.88 L434.00,100.16 L434.08,102.04 L434.16,100.45 L434.24,102.10 L434.32,100.55 L434.40,102.32 L434.48,100.60 L434.56,102.75 L434.64,100.92 L434.72,102.76 L434.80,101.07 L434.88,102.88 L434.96,101.37 L435.04,103.19 L435.12,101.47 L435.20,103.31 L435.28,101.70 L435.36,103.58 L435.44,101.92 L435.52,103.82 L435.60,102.00 L435.68,103.95 L435.76,102.21 L435.84,104.26 L435.92,102.53 L436.00,104.37 L436.08,102.62 L436.16,104.76 L436.24,103.03 L436.32,104.75 L436.40,103.13 L436.48,105.17 L436.56,103.42 L436.64,105.33 L436.72,103.60 L436.80,105.48 L436.88,103.75 L436.96,105.80 L437.04,103.96 L437.12,105.90 L437.20,104.13 L437.28,106.26 L437.36,104.54 L437.44,106.44 L437.52,104.70 L437.60,106.70 L437.68,104.77 L437.76,106.90 L437.84,105.22 L437.92,107.21 L438.00,105.37 L438.08,107.33 L438.16,105.55 L438.24,107.74 L438.32,105.85 L438.40,107.98 L438.48,106.26 L438.56,108.22 L438.64,106.38 L438.72,108.34 L438.80,106.69 L438.88,108.74 L438.96,106.95 L439.04,109.11 L439.12,107.31 L439.20,109.46 L439.28,107.54 L439.36,109.54 L439.44,107.71 L439.52,110.01 L439.60,108.11 L439.68,110.34 L439.76,108.47 L439.84,110.51 L439.92,108.75 L440.00,110.99 L440.08,109.14 L440.16,111.43 L440.24,109.57 L440.32,111.83 L440.40,109.98 L440.48,112.27 L440.56,110.53 L440.64,112.75 L440.72,110.83 L440.80,113.28 L440.88,111.30 L440.96,113.92 L441.04,111.96 L441.12,114.31 L441.20,112.46 L441.28,114.81 L441.36,112.76 L441.44,115.42 L441.52,113.54 L441.60,115.97 L441.68,114.04 L441.76,116.52 L441.84,114.24 L441.92,116.93 L442.00,114.68 L442.08,117.43 L442.16,115.17 L442.24,118.16 L442.32,115.35 L442.40,118.61 L442.48,115.71 L442.56,119.51 L442.64,115.80 L442.72,119.78 L442.80,116.33 L442.88,120.41 L442.96,116.32 L443.04,120.88 L443.12,116.80 L443.20,121.45 L443.28,116.91 L443.36,122.39 L443.44,117.46 L443.52,122.85 L443.60,117.35 L443.68,123.18 L443.76,118.11 L443.84,123.72 L443.92,118.09 L444.00,124.13 L444.08,118.38 L444.16,124.40 L444.24,118.82 L444.32,125.63 L444.40,118.99 L444.48,125.46 L444.56,118.81 L444.64,125.98 L444.72,119.47 L444.80,126.67 L444.88,118.89 L444.96,126.23 L445.04,119.59 L445.12,127.19 L445.20,119.40 L445.28,127.72 L445.36,119.43 L445.44,127.90 L445.52,119.27 L445.60,128.38 L445.68,119.93 L445.76,128.09 L445.84,119.53 L445.92,129.72 L446.00,119.73 L446.08,128.78 L446.16,119.82 L446.24,129.71 L446.32,120.68 L446.40,129.34 L446.48,119.48 L446.56,130.51 L446.64,120.42 L446.72,131.26 L446.80,120.72 L446.88,130.94 L446.96,120.21 L447.04,130.95 L447.12,120.19 L447.20,131.40 L447.28,120.46 L447.36,131.75 L447.44,120.39 L447.52,132.14 L447.60,120.76 L447.68,133.03 L447.76,120.37 L447.84,133.26 L447.92,120.20 L448.00,133.93 L448.08,121.41 L448.16,133.15 L448.24,120.73 L448.32,134.52 L448.40,121.02 L448.48,133.73 L448.56,120.38 L448.64,134.27 L448.72,120.89 L448.80,133.64 L448.88,122.04 L448.96,133.78 L449.04,121.67 L449.12,135.29 L449.20,122.18 L449.28,135.90 L449.36,122.74 L449.44,134.85 L449.52,122.20 L449.60,135.08 L449.68,122.04 L449.76,134.47 L449.84,122.09 L449.92,135.43 L450.00,122.24 L450.08,135.96 L450.16,122.56 L450.24,136.18 L450.32,121.94 L450.40,135.76 L450.48,122.32 L450.56,136.28 L450.64,123.05 L450.72,135.90 L450.80,121.72 L450.88,137.70 L450.96,122.31 L451.04,136.11 L451.12,122.57 L451.20,136.78 L451.28,123.51 L451.36,138.28 L451.44,123.59 L451.52,137.25 L451.60,123.50 L451.68,137.13 L451.76,122.81 L451.84,137.42 L451.92,124.58 L452.00,137.23 L452.08,123.57 L452.16,138.44 L452.24,124.66 L452.32,137.26 L452.40,124.44 L452.48,137.89 L452.56,125.22 L452.64,137.11 L452.72,125.65 L452.80,137.59 L452.88,126.66 L452.96,138.07 L453.04,126.40 L453.12,137.86 L453.20,127.08 L453.28,138.06 L453.36,126.88 L453.44,138.50 L453.52,126.78 L453.60,138.37 L453.68,127.42 L453.76,138.23 L453.84,127.45 L453.92,139.49 L454.00,128.39 L454.08,138.93 L454.16,128.34 L454.24,138.87 L454.32,128.50 L454.40,139.64 L454.48,129.29 L454.56,139.45 L454.64,130.00 L454.72,139.31 L454.80,130.48 L454.88,139.22 L454.96,130.87 L455.04,140.17 L455.12,131.68 L455.20,140.65 L455.28,132.19 L455.36,140.85 L455.44,132.77 L455.52,140.38 L455.60,133.35 L455.68,140.80 L455.76,134.30 L455.84,140.26 L455.92,134.21 L456.00,140.36 L456.08,134.99 L456.16,140.82 L456.24,135.02 L456.32,140.93 L456.40,135.18 L456.48,140.42 L456.56,135.13 L456.64,140.31 L456.72,135.73 L456.80,140.87 L456.88,135.79 L456.96,140.90 L457.04,135.94 L457.12,140.84 L457.20,135.73 L457.28,140.90 L457.36,135.86 L457.44,140.78 L457.52,135.88 L457.60,141.01 L457.68,136.08 L457.76,141.02 L457.84,136.02 L457.92,141.31 L458.00,136.16 L458.08,140.95 L458.16,135.97 L458.24,140.75 L458.32,135.59 L458.40,141.03 L458.48,135.93 L458.56,141.17 L458.64,136.00 L458.72,141.10 L458.80,135.98 L458.88,140.79 L458.96,135.71 L459.04,140.99 L459.12,135.47 L459.20,140.84 L459.28,135.51 L459.36,141.13 L459.44,135.70 L459.52,141.00 L459.60,135.45 L459.68,140.59 L459.76,135.24 L459.84,140.94 L459.92,135.10 L460.00,140.80 L460.08,134.91 L460.16,140.70 L460.24,135.45 L460.32,139.84 L460.40,135.62 L460.48,139.08" fill="none" stroke="#000" stroke-width="0.8" stroke-linejoin="round"/>
<path d="M72.00,32.30 L72.50,32.32 L73.00,32.34 L73.50,32.36 L74.00,32.38 L74.50,32.40 L75.00,32.41 L75.50,32.43 L76.00,32.45 L76.50,32.47 L77.00,32.49 L77.50,32.51 L78.00,32.53 L78.50,32.55 L79.00,32.57 L79.50,32.59 L80.00,32.61 L80.50,32.62 L81.00,32.64 L81.50,32.66 L82.00,32.68 L82.50,32.70 L83.00,32.72 L83.50,32.74 L84.00,32.76 L84.50,32.77 L85.00,32.79 L85.50,32.81 L86.00,32.83 L86.50,32.85 L87.00,32.87 L87.50,32.89 L88.00,32.91 L88.50,32.92 L89.00,32.94 L89.50,32.96 L90.00,32.98 L90.50,33.00 L91.00,33.02 L91.50,33.04 L92.00,33.05 L92.50,33.07 L93.00,33.09 L93.50,33.11 L94.00,33.13 L94.50,33.15 L95.00,33.16 L95.50,33.18 L96.00,33.20 L96.50,33.22 L97.00,33.24 L97.50,33.26 L98.00,33.27 L98.50,33.29 L99.00,33.31 L99.50,33.33 L100.00,33.35 L100.50,33.37 L101.00,33.38 L101.50,33.40 L102.00,33.42 L102.50,33.44 L103.00,33.46 L103.50,33.47 L104.00,33.49 L104.50,33.51 L105.00,33.53 L105.50,33.55 L106.00,33.56 L106.50,33.58 L107.00,33.60 L107.50,33.62 L108.00,33.64 L108.50,33.65 L109.00,33.67 L109.50,33.69 L110.00,33.71 L110.50,33.72 L111.00,33.74 L111.50,33.76 L112.00,33.78 L112.50,33.80 L113.00,33.81 L113.50,33.83 L114.00,33.85 L114.50,33.87 L115.00,33.88 L115.50,33.90 L116.00,33.92 L116.50,33.94 L117.00,33.95 L117.50,33.97 L118.00,33.99 L118.50,34.01 L119.00,34.02 L119.50,34.04 L120.00,34.06 L120.50,34.07 L121.00,34.09 L121.50,34.11 L122.00,34.13 L122.50,34.14 L123.00,34.16 L123.50,34.18 L124.00,34.20 L124.50,34.21 L125.00,34.23 L125.50,34.25 L126.00,34.26 L126.50,34.28 L127.00,34.30 L127.50,34.32 L128.00,34.33 L128.50,34.35 L129.00,34.37 L129.50,34.38 L130.00,34.40 L130.50,34.42 L131.00,34.43 L131.50,34.45 L132.00,34.47 L132.50,34.48 L133.00,34.50 L133.50,34.52 L134.00,34.53 L134.50,34.55 L135.00,34.57 L135.50,34.58 L136.00,34.60 L136.50,34.62 L137.00,34.63 L137.50,34.65 L138.00,34.67 L138.50,34.68 L139.00,34.70 L139.50,34.71 L140.00,34.73 L140.50,34.75 L141.00,34.76 L141.50,34.78 L142.00,34.79 L142.50,34.81 L143.00,34.83 L143.50,34.84 L144.00,34.86 L144.50,34.87 L145.00,34.89 L145.50,34.91 L146.00,34.92 L146.50,34.94 L147.00,34.95 L147.50,34.97 L148.00,34.98 L148.50,35.00 L149.00,35.02 L149.50,35.03 L150.00,35.05 L150.50,35.06 L151.00,35.08 L151.50,35.09 L152.00,35.11 L152.50,35.13 L153.00,35.14 L153.50,35.16 L154.00,35.17 L154.50,35.19 L155.00,35.20 L155.50,35.22 L156.00,35.23 L156.50,35.25 L157.00,35.26 L157.50,35.28 L158.00,35.30 L158.50,35.31 L159.00,35.33 L159.50,35.34 L160.00,35.36 L160.50,35.37 L161.00,35.39 L161.50,35.40 L162.00,35.42 L162.50,35.43 L163.00,35.45 L163.50,35.47 L164.00,35.48 L164.50,35.50 L165.00,35.51 L165.50,35.53 L166.00,35.54 L166.50,35.56 L167.00,35.57 L167.50,35.59 L168.00,35.60 L168.50,35.62 L169.00,35.63 L169.50,35.65 L170.00,35.67 L170.50,35.68 L171.00,35.70 L171.50,35.71 L172.00,35.73 L172.50,35.74 L173.00,35.76 L173.50,35.77 L174.00,35.79 L174.50,35.81 L175.00,35.82 L175.50,35.84 L176.00,35.85 L176.50,35.87 L177.00,35.88 L177.50,35.90 L178.00,35.92 L178.50,35.93 L179.00,35.95 L179.50,35.96 L180.00,35.98 L180.50,35.99 L181.00,36.01 L181.50,36.03 L182.00,36.04 L182.50,36.06 L183.00,36.07 L183.50,36.09 L184.00,36.11 L184.50,36.12 L185.00,36.14 L185.50,36.15 L186.00,36.17 L186.50,36.19 L187.00,36.20 L187.50,36.22 L188.00,36.23 L188.50,36.25 L189.00,36.27 L189.50,36.28 L190.00,36.30 L190.50,36.32 L191.00,36.33 L191.50,36.35 L192.00,36.37 L192.50,36.38 L193.00,36.40 L193.50,36.41 L194.00,36.43 L194.50,36.45 L195.00,36.46 L195.50,36.48 L196.00,36.50 L196.50,36.51 L197.00,36.53 L197.50,36.55 L198.00,36.56 L198.50,36.58 L199.00,36.60 L199.50,36.61 L200.00,36.63 L200.50,36.65 L201.00,36.66 L201.50,36.68 L202.00,36.70 L202.50,36.71 L203.00,36.73 L203.50,36.75 L204.00,36.76 L204.50,36.78 L205.00,36.80 L205.50,36.81 L206.00,36.83 L206.50,36.85 L207.00,36.86 L207.50,36.88 L208.00,36.90 L208.50,36.91 L209.00,36.93 L209.50,36.95 L210.00,36.96 L210.50,36.98 L211.00,37.00 L211.50,37.01 L212.00,37.03 L212.50,37.05 L213.00,37.06 L213.50,37.08 L214.00,37.10 L214.50,37.11 L215.00,37.13 L215.50,37.15 L216.00,37.16 L216.50,37.18 L217.00,37.20 L217.50,37.21 L218.00,37.23 L218.50,37.25 L219.00,37.27 L219.50,37.28 L220.00,37.30 L220.50,37.32 L221.00,37.33 L221.50,37.35 L222.00,37.37 L222.50,37.39 L223.00,37.40 L223.50,37.42 L224.00,37.44 L224.50,37.45 L225.00,37.47 L225.50,37.49 L226.00,37.51 L226.50,37.52 L227.00,37.54 L227.50,37.56 L228.00,37.58 L228.50,37.59 L229.00,37.61 L229.50,37.63 L230.00,37.65 L230.50,37.66 L231.00,37.68 L231.50,37.70 L232.00,37.72 L232.50,37.73 L233.00,37.75 L233.50,37.77 L234.00,37.79 L234.50,37.80 L235.00,37.82 L235.50,37.84 L236.00,37.86 L236.50,37.87 L237.00,37.89 L237.50,37.91 L238.00,37.93 L238.50,37.95 L239.00,37.96 L239.50,37.98 L240.00,38.00 L240.50,38.02 L241.00,38.04 L241.50,38.05 L242.00,38.07 L242.50,38.09 L243.00,38.11 L243.50,38.13 L244.00,38.15 L244.50,38.17 L245.00,38.18 L245.50,38.20 L246.00,38.22 L246.50,38.24 L247.00,38.26 L247.50,38.28 L248.00,38.30 L248.50,38.32 L249.00,38.34 L249.50,38.35 L250.00,38.37 L250.50,38.39 L251.00,38.41 L251.50,38.43 L252.00,38.45 L252.50,38.47 L253.00,38.49 L253.50,38.51 L254.00,38.53 L254.50,38.55 L255.00,38.57 L255.50,38.59 L256.00,38.61 L256.50,38.63 L257.00,38.65 L257.50,38.67 L258.00,38.69 L258.50,38.71 L259.00,38.73 L259.50,38.74 L260.00,38.76 L260.50,38.78 L261.00,38.80 L261.50,38.82 L262.00,38.84 L262.50,38.86 L263.00,38.88 L263.50,38.90 L264.00,38.92 L264.50,38.94 L265.00,38.96 L265.50,38.98 L266.00,39.00 L266.50,39.02 L267.00,39.04 L267.50,39.06 L268.00,39.08 L268.50,39.10 L269.00,39.12 L269.50,39.14 L270.00,39.16 L270.50,39.17 L271.00,39.19 L271.50,39.21 L272.00,39.23 L272.50,39.25 L273.00,39.27 L273.50,39.29 L274.00,39.31 L274.50,39.33 L275.00,39.35 L275.50,39.36 L276.00,39.38 L276.50,39.40 L277.00,39.42 L277.50,39.44 L278.00,39.46 L278.50,39.47 L279.00,39.49 L279.50,39.51 L280.00,39.53 L280.50,39.55 L281.00,39.56 L281.50,39.58 L282.00,39.60 L282.50,39.62 L283.00,39.63 L283.50,39.65 L284.00,39.67 L284.50,39.68 L285.00,39.70 L285.50,39.72 L286.00,39.73 L286.50,39.75 L287.00,39.76 L287.50,39.78 L288.00,39.80 L288.50,39.81 L289.00,39.83 L289.50,39.84 L290.00,39.86 L290.50,39.87 L291.00,39.89 L291.50,39.90 L292.00,39.92 L292.50,39.94 L293.00,39.95 L293.50,39.97 L294.00,39.98 L294.50,40.00 L295.00,40.02 L295.50,40.03 L296.00,40.05 L296.50,40.07 L297.00,40.09 L297.50,40.10 L298.00,40.12 L298.50,40.14 L299.00,40.16 L299.50,40.18 L300.00,40.20" fill="none" stroke="#ff2020" stroke-width="0.75" stroke-dasharray="7 3.8"/>
<path d="M304.00,40.38 L304.50,40.40 L305.00,40.42 L305.50,40.45 L306.00,40.47 L306.50,40.50 L307.00,40.52 L307.50,40.55 L308.00,40.58 L308.50,40.60 L309.00,40.63 L309.50,40.66 L310.00,40.68 L310.50,40.71 L311.00,40.74 L311.50,40.76 L312.00,40.79 L312.50,40.82 L313.00,40.85 L313.50,40.88 L314.00,40.90 L314.50,40.93 L315.00,40.96 L315.50,40.99 L316.00,41.02 L316.50,41.04 L317.00,41.07 L317.50,41.10 L318.00,41.13 L318.50,41.15 L319.00,41.18 L319.50,41.21 L320.00,41.24 L320.50,41.26 L321.00,41.29 L321.50,41.32 L322.00,41.35 L322.50,41.37 L323.00,41.40 L323.50,41.42 L324.00,41.45 L324.50,41.47 L325.00,41.50 L325.50,41.53 L326.00,41.55 L326.50,41.58 L327.00,41.60 L327.50,41.63 L328.00,41.65 L328.50,41.68 L329.00,41.71 L329.50,41.73 L330.00,41.76 L330.50,41.79 L331.00,41.81 L331.50,41.84 L332.00,41.87 L332.50,41.89 L333.00,41.92 L333.50,41.95 L334.00,41.97 L334.50,42.00 L335.00,42.03 L335.50,42.05 L336.00,42.08 L336.50,42.10 L337.00,42.13 L337.50,42.16 L338.00,42.18 L338.50,42.21 L339.00,42.23 L339.50,42.26 L340.00,42.28 L340.50,42.31 L341.00,42.33 L341.50,42.36 L342.00,42.38 L342.50,42.40 L343.00,42.43 L343.50,42.45 L344.00,42.47 L344.50,42.49 L345.00,42.51 L345.50,42.53 L346.00,42.56 L346.50,42.57 L347.00,42.59 L347.50,42.61 L348.00,42.63 L348.50,42.65 L349.00,42.67 L349.50,42.68 L350.00,42.70 L350.50,42.72 L351.00,42.73 L351.50,42.75 L352.00,42.77 L352.50,42.78 L353.00,42.80 L353.50,42.82 L354.00,42.83 L354.50,42.85 L355.00,42.87 L355.50,42.88 L356.00,42.90 L356.50,42.91 L357.00,42.93 L357.50,42.94 L358.00,42.95 L358.50,42.96 L359.00,42.97 L359.50,42.98 L360.00,42.99 L360.50,42.99 L361.00,43.00 L361.50,43.00 L362.00,43.00 L362.50,43.00 L363.00,43.00 L363.50,43.00 L364.00,42.99 L364.50,42.99 L365.00,42.98 L365.50,42.98 L366.00,42.97 L366.50,42.97 L367.00,42.96 L367.50,42.95 L368.00,42.94 L368.50,42.93 L369.00,42.92 L369.50,42.91 L370.00,42.90 L370.50,42.89 L371.00,42.87 L371.50,42.86 L372.00,42.85 L372.50,42.83 L373.00,42.82 L373.50,42.80 L374.00,42.79 L374.50,42.77 L375.00,42.76 L375.50,42.74 L376.00,42.72 L376.50,42.70 L377.00,42.69 L377.50,42.67 L378.00,42.65 L378.50,42.63 L379.00,42.61" fill="none" stroke="#ff2020" stroke-width="0.75" stroke-dasharray="10 3.75"/>
<path d="M379.60,42.59 L380.10,42.57 L380.60,42.55 L381.10,42.53 L381.60,42.51 L382.10,42.49 L382.60,42.47 L383.10,42.45 L383.60,42.43 L384.10,42.41 L384.60,42.39 L385.10,42.37 L385.60,42.35 L386.10,42.34 L386.60,42.32 L387.10,42.30 L387.60,42.28 L388.10,42.26 L388.60,42.23 L389.10,42.21 L389.60,42.19 L390.10,42.16 L390.60,42.14 L391.10,42.12 L391.60,42.09 L392.10,42.06 L392.60,42.04 L393.10,42.01 L393.60,41.98 L394.10,41.95 L394.60,41.92 L395.10,41.89 L395.60,41.86 L396.10,41.83 L396.60,41.80 L397.10,41.77 L397.60,41.74 L398.10,41.71 L398.60,41.67 L399.10,41.64 L399.60,41.61 L400.10,41.57 L400.60,41.54 L401.10,41.50 L401.60,41.47 L402.10,41.43 L402.60,41.40 L403.10,41.36 L403.60,41.32 L404.10,41.29 L404.60,41.25 L405.10,41.22 L405.60,41.18 L406.10,41.14 L406.60,41.10 L407.10,41.07 L407.60,41.03 L408.10,40.99 L408.60,40.95 L409.10,40.92 L409.60,40.88 L410.10,40.84 L410.60,40.80 L411.10,40.77 L411.60,40.73 L412.10,40.69 L412.60,40.65 L413.10,40.62 L413.60,40.58 L414.10,40.54 L414.60,40.50 L415.10,40.46 L415.60,40.42 L416.10,40.38 L416.60,40.34 L417.10,40.30 L417.60,40.25 L418.10,40.21 L418.60,40.17 L419.10,40.13 L419.60,40.08 L420.10,40.04 L420.60,40.00 L421.10,39.95 L421.60,39.91 L422.10,39.86 L422.60,39.81 L423.10,39.77 L423.60,39.72 L424.10,39.68 L424.60,39.63 L425.10,39.58 L425.60,39.53 L426.10,39.49 L426.60,39.44 L427.10,39.39 L427.60,39.34 L428.10,39.29 L428.60,39.24 L429.10,39.19 L429.60,39.14 L430.10,39.08 L430.60,39.03 L431.10,38.98 L431.60,38.92 L432.10,38.86 L432.60,38.81 L433.10,38.75 L433.60,38.69 L434.10,38.61 L434.60,38.52 L435.10,38.45 L435.60,38.40 L436.10,38.42 L436.60,38.55 L437.10,38.75 L437.60,39.01 L438.10,39.29 L438.60,39.55 L439.10,39.84 L439.60,40.17 L440.10,40.53 L440.60,40.91 L441.10,41.30 L441.60,41.68 L442.10,42.05 L442.60,42.44 L443.10,42.83 L443.60,43.22 L444.10,43.62 L444.60,44.04 L445.10,44.46" fill="none" stroke="#ff2020" stroke-width="0.75" stroke-dasharray="7.3 3.6"/>
<path d="M446.50,45.72 L447.00,46.19 L447.50,46.68 L448.00,47.19 L448.50,47.71 L449.00,48.25 L449.50,48.82 L450.00,49.41 L450.50,50.02 L451.00,50.67 L451.50,51.36 L452.00,52.12 L452.50,52.93 L453.00,53.78 L453.50,54.66 L454.00,55.55 L454.50,56.44 L455.00,57.32 L455.50,58.16 L456.00,58.96 L456.50,59.73 L457.00,60.49 L457.50,61.25 L458.00,61.99 L458.50,62.73 L459.00,63.45 L459.50,64.17 L460.00,64.87 L460.50,65.56" fill="none" stroke="#ff2020" stroke-width="0.75" stroke-dasharray="6.5 2"/>
<path d="M60.00,110.16 L60.50,110.17 L61.00,110.18 L61.50,110.19 L62.00,110.20 L62.50,110.21 L63.00,110.22 L63.50,110.24 L64.00,110.25 L64.50,110.26 L65.00,110.28 L65.50,110.29 L66.00,110.31 L66.50,110.32 L67.00,110.34 L67.50,110.36 L68.00,110.37 L68.50,110.39 L69.00,110.40 L69.50,110.42 L70.00,110.44 L70.50,110.45 L71.00,110.47 L71.50,110.48 L72.00,110.50 L72.50,110.52 L73.00,110.53 L73.50,110.55 L74.00,110.56 L74.50,110.58 L75.00,110.60 L75.50,110.61 L76.00,110.63 L76.50,110.64 L77.00,110.66 L77.50,110.68 L78.00,110.69 L78.50,110.71 L79.00,110.72 L79.50,110.74 L80.00,110.76 L80.50,110.77 L81.00,110.79 L81.50,110.80 L82.00,110.82 L82.50,110.84 L83.00,110.85 L83.50,110.87 L84.00,110.88 L84.50,110.90 L85.00,110.92 L85.50,110.93 L86.00,110.95 L86.50,110.96 L87.00,110.98 L87.50,111.00 L88.00,111.01 L88.50,111.03 L89.00,111.04 L89.50,111.06 L90.00,111.08 L90.50,111.09 L91.00,111.11 L91.50,111.12 L92.00,111.14 L92.50,111.16 L93.00,111.17 L93.50,111.19 L94.00,111.21 L94.50,111.22 L95.00,111.24 L95.50,111.25 L96.00,111.27 L96.50,111.29 L97.00,111.30 L97.50,111.32 L98.00,111.34 L98.50,111.35 L99.00,111.37 L99.50,111.38 L100.00,111.40 L100.50,111.42 L101.00,111.43 L101.50,111.45 L102.00,111.47 L102.50,111.48 L103.00,111.50 L103.50,111.51 L104.00,111.53 L104.50,111.55 L105.00,111.56 L105.50,111.58 L106.00,111.60 L106.50,111.61 L107.00,111.63 L107.50,111.65 L108.00,111.66 L108.50,111.68 L109.00,111.70 L109.50,111.71 L110.00,111.73 L110.50,111.75 L111.00,111.76 L111.50,111.78 L112.00,111.80 L112.50,111.81 L113.00,111.83 L113.50,111.84 L114.00,111.86 L114.50,111.88 L115.00,111.89 L115.50,111.91 L116.00,111.93 L116.50,111.94 L117.00,111.96 L117.50,111.98 L118.00,111.99 L118.50,112.01 L119.00,112.03 L119.50,112.05 L120.00,112.06 L120.50,112.08 L121.00,112.10 L121.50,112.11 L122.00,112.13 L122.50,112.15 L123.00,112.16 L123.50,112.18 L124.00,112.20 L124.50,112.21 L125.00,112.23 L125.50,112.25 L126.00,112.26 L126.50,112.28 L127.00,112.30 L127.50,112.32 L128.00,112.33 L128.50,112.35 L129.00,112.37 L129.50,112.38 L130.00,112.40 L130.50,112.42 L131.00,112.44 L131.50,112.45 L132.00,112.47 L132.50,112.49 L133.00,112.51 L133.50,112.53 L134.00,112.54 L134.50,112.56 L135.00,112.58 L135.50,112.60 L136.00,112.62 L136.50,112.63 L137.00,112.65 L137.50,112.67 L138.00,112.69 L138.50,112.71 L139.00,112.72 L139.50,112.74 L140.00,112.76 L140.50,112.78 L141.00,112.80 L141.50,112.81 L142.00,112.83 L142.50,112.85 L143.00,112.87 L143.50,112.88 L144.00,112.90 L144.50,112.92 L145.00,112.94 L145.50,112.95 L146.00,112.97 L146.50,112.99 L147.00,113.00 L147.50,113.02 L148.00,113.04 L148.50,113.05 L149.00,113.07 L149.50,113.08 L150.00,113.10 L150.50,113.12 L151.00,113.13 L151.50,113.15 L152.00,113.17 L152.50,113.18 L153.00,113.20 L153.50,113.22 L154.00,113.23 L154.50,113.25 L155.00,113.26 L155.50,113.28 L156.00,113.30 L156.50,113.31 L157.00,113.33 L157.50,113.34 L158.00,113.35 L158.50,113.37 L159.00,113.38 L159.50,113.39 L160.00,113.40 L160.50,113.41 L161.00,113.42 L161.50,113.43 L162.00,113.43 L162.50,113.43 L163.00,113.43 L163.50,113.43 L164.00,113.43 L164.50,113.42 L165.00,113.41 L165.50,113.39 L166.00,113.38 L166.50,113.35 L167.00,113.33 L167.50,113.30 L168.00,113.27 L168.50,113.23 L169.00,113.19 L169.50,113.14 L170.00,113.09 L170.50,113.04 L171.00,112.98 L171.50,112.92 L172.00,112.86 L172.50,112.79 L173.00,112.72 L173.50,112.65 L174.00,112.57 L174.50,112.50 L175.00,112.42 L175.50,112.33 L176.00,112.24 L176.50,112.15 L177.00,112.06 L177.50,111.97 L178.00,111.87 L178.50,111.76 L179.00,111.66 L179.50,111.55 L180.00,111.44 L180.50,111.32 L181.00,111.20 L181.50,111.08 L182.00,110.96 L182.50,110.83 L183.00,110.70 L183.50,110.57 L184.00,110.43 L184.50,110.29 L185.00,110.15 L185.50,110.00 L186.00,109.85 L186.50,109.70 L187.00,109.54 L187.50,109.39 L188.00,109.22 L188.50,109.06 L189.00,108.89 L189.50,108.71 L190.00,108.53 L190.50,108.35 L191.00,108.17 L191.50,107.98 L192.00,107.78 L192.50,107.58 L193.00,107.38 L193.50,107.17 L194.00,106.96 L194.50,106.75 L195.00,106.53 L195.50,106.31 L196.00,106.08 L196.50,105.85 L197.00,105.62 L197.50,105.38 L198.00,105.15 L198.50,104.91 L199.00,104.67 L199.50,104.43 L200.00,104.19 L200.50,103.94 L201.00,103.70 L201.50,103.45 L202.00,103.21 L202.50,102.96 L203.00,102.71 L203.50,102.46 L204.00,102.21 L204.50,101.96 L205.00,101.71 L205.50,101.46 L206.00,101.21 L206.50,100.96 L207.00,100.70 L207.50,100.45 L208.00,100.19 L208.50,99.93 L209.00,99.67 L209.50,99.41 L210.00,99.15 L210.50,98.89 L211.00,98.62 L211.50,98.36 L212.00,98.09 L212.50,97.82 L213.00,97.56 L213.50,97.29 L214.00,97.02 L214.50,96.75 L215.00,96.48 L215.50,96.21 L216.00,95.94 L216.50,95.67 L217.00,95.40 L217.50,95.13 L218.00,94.86 L218.50,94.58 L219.00,94.31 L219.50,94.04 L220.00,93.77 L220.50,93.51 L221.00,93.24 L221.50,92.97 L222.00,92.70 L222.50,92.43 L223.00,92.16 L223.50,91.89 L224.00,91.62 L224.50,91.35 L225.00,91.08 L225.50,90.82 L226.00,90.55 L226.50,90.28 L227.00,90.01 L227.50,89.74 L228.00,89.47 L228.50,89.20 L229.00,88.93 L229.50,88.66 L230.00,88.39 L230.50,88.12 L231.00,87.85 L231.50,87.58 L232.00,87.31 L232.50,87.04 L233.00,86.77 L233.50,86.49 L234.00,86.22 L234.50,85.95 L235.00,85.68 L235.50,85.42 L236.00,85.15 L236.50,84.88 L237.00,84.61 L237.50,84.35 L238.00,84.08 L238.50,83.82 L239.00,83.55 L239.50,83.29 L240.00,83.03 L240.50,82.77 L241.00,82.52 L241.50,82.26 L242.00,82.00 L242.50,81.75 L243.00,81.49 L243.50,81.24 L244.00,80.99 L244.50,80.74 L245.00,80.49 L245.50,80.24 L246.00,79.99 L246.50,79.74 L247.00,79.49 L247.50,79.24 L248.00,79.00 L248.50,78.75 L249.00,78.51 L249.50,78.26 L250.00,78.02 L250.50,77.78 L251.00,77.53 L251.50,77.29 L252.00,77.05 L252.50,76.81 L253.00,76.57 L253.50,76.33 L254.00,76.09 L254.50,75.85 L255.00,75.61 L255.50,75.37 L256.00,75.13 L256.50,74.90 L257.00,74.66 L257.50,74.42 L258.00,74.19 L258.50,73.95 L259.00,73.71 L259.50,73.48 L260.00,73.24 L260.50,73.01 L261.00,72.77 L261.50,72.54 L262.00,72.30 L262.50,72.07 L263.00,71.84 L263.50,71.60 L264.00,71.37 L264.50,71.14 L265.00,70.90 L265.50,70.67 L266.00,70.44 L266.50,70.20 L267.00,69.97 L267.50,69.74 L268.00,69.51 L268.50,69.28 L269.00,69.04 L269.50,68.81 L270.00,68.58 L270.50,68.35 L271.00,68.12 L271.50,67.89 L272.00,67.66 L272.50,67.43 L273.00,67.20 L273.50,66.97 L274.00,66.74 L274.50,66.51 L275.00,66.28 L275.50,66.05 L276.00,65.82 L276.50,65.60 L277.00,65.37 L277.50,65.14 L278.00,64.92 L278.50,64.69 L279.00,64.47 L279.50,64.25 L280.00,64.02 L280.50,63.80 L281.00,63.58 L281.50,63.36 L282.00,63.14 L282.50,62.92 L283.00,62.70 L283.50,62.48 L284.00,62.26 L284.50,62.05 L285.00,61.83 L285.50,61.62 L286.00,61.40 L286.50,61.19 L287.00,60.98 L287.50,60.77 L288.00,60.56 L288.50,60.35 L289.00,60.14 L289.50,59.93 L290.00,59.73 L290.50,59.52 L291.00,59.32 L291.50,59.12 L292.00,58.91 L292.50,58.71 L293.00,58.51 L293.50,58.32 L294.00,58.12 L294.50,57.92 L295.00,57.72 L295.50,57.53 L296.00,57.34 L296.50,57.14 L297.00,56.95 L297.50,56.76 L298.00,56.57 L298.50,56.37 L299.00,56.18 L299.50,55.99 L300.00,55.80 L300.50,55.62 L301.00,55.43 L301.50,55.24 L302.00,55.05 L302.50,54.86 L303.00,54.67 L303.50,54.49 L304.00,54.30 L304.50,54.11 L305.00,53.92 L305.50,53.74 L306.00,53.55 L306.50,53.36 L307.00,53.18 L307.50,52.99 L308.00,52.80 L308.50,52.62 L309.00,52.43 L309.50,52.24 L310.00,52.06 L310.50,51.87 L311.00,51.68 L311.50,51.50 L312.00,51.31 L312.50,51.13 L313.00,50.94 L313.50,50.76 L314.00,50.57 L314.50,50.39 L315.00,50.20 L315.50,50.02 L316.00,49.83 L316.50,49.65 L317.00,49.47 L317.50,49.28 L318.00,49.10 L318.50,48.91 L319.00,48.73 L319.50,48.54 L320.00,48.36 L320.50,48.17 L321.00,47.99 L321.50,47.80 L322.00,47.61 L322.50,47.43 L323.00,47.24 L323.50,47.05 L324.00,46.87 L324.50,46.68 L325.00,46.49 L325.50,46.30 L326.00,46.11 L326.50,45.92 L327.00,45.73 L327.50,45.54 L328.00,45.35 L328.50,45.16 L329.00,44.97 L329.50,44.78 L330.00,44.58 L330.50,44.39 L331.00,44.20 L331.50,44.01 L332.00,43.81 L332.50,43.62 L333.00,43.43 L333.50,43.23 L334.00,43.04 L334.50,42.84 L335.00,42.65 L335.50,42.46 L336.00,42.26 L336.50,42.07 L337.00,41.87 L337.50,41.68 L338.00,41.48 L338.50,41.29 L339.00,41.10 L339.50,40.90 L340.00,40.71 L340.50,40.52 L341.00,40.32 L341.50,40.13 L342.00,39.94 L342.50,39.75 L343.00,39.55 L343.50,39.36 L344.00,39.17 L344.50,38.98 L345.00,38.79 L345.50,38.60 L346.00,38.41 L346.50,38.22 L347.00,38.03 L347.50,37.85 L348.00,37.66 L348.50,37.47 L349.00,37.28 L349.50,37.10 L350.00,36.91 L350.50,36.73 L351.00,36.54 L351.50,36.36 L352.00,36.18 L352.50,35.99 L353.00,35.81 L353.50,35.63 L354.00,35.45 L354.50,35.27 L355.00,35.08 L355.50,34.90 L356.00,34.72 L356.50,34.54 L357.00,34.36 L357.50,34.18 L358.00,34.01 L358.50,33.83 L359.00,33.65 L359.50,33.47 L360.00,33.29 L360.50,33.11 L361.00,32.94 L361.50,32.76 L362.00,32.58 L362.50,32.41 L363.00,32.23 L363.50,32.05 L364.00,31.88 L364.50,31.70 L365.00,31.52 L365.50,31.35 L366.00,31.17 L366.50,30.99 L367.00,30.82 L367.50,30.64 L368.00,30.47 L368.50,30.29 L369.00,30.11 L369.50,29.94 L370.00,29.76 L370.50,29.59 L371.00,29.41 L371.50,29.23 L372.00,29.06 L372.50,28.88 L373.00,28.70 L373.50,28.53 L374.00,28.35 L374.50,28.18 L375.00,28.00 L375.50,27.82 L376.00,27.65 L376.50,27.47 L377.00,27.29 L377.50,27.12 L378.00,26.94 L378.50,26.76 L379.00,26.59 L379.50,26.41 L380.00,26.24 L380.50,26.06 L381.00,25.88 L381.50,25.71 L382.00,25.53 L382.50,25.36 L383.00,25.18 L383.50,25.00 L384.00,24.83 L384.50,24.65 L385.00,24.48 L385.50,24.30 L386.00,24.13 L386.50,23.95 L387.00,23.77 L387.50,23.60 L388.00,23.42 L388.50,23.25 L389.00,23.07 L389.50,22.90 L390.00,22.72 L390.50,22.54 L391.00,22.37 L391.50,22.19 L392.00,22.02 L392.50,21.84 L393.00,21.67 L393.50,21.49 L394.00,21.31 L394.50,21.14 L395.00,20.96 L395.50,20.79 L396.00,20.61 L396.50,20.43 L397.00,20.26 L397.50,20.08 L398.00,19.90 L398.50,19.73 L399.00,19.55 L399.50,19.38 L400.00,19.20 L400.50,19.02 L401.00,18.85 L401.50,18.67 L402.00,18.49 L402.50,18.32 L403.00,18.14 L403.50,17.96 L404.00,17.78 L404.50,17.61 L405.00,17.43 L405.50,17.25 L406.00,17.08 L406.50,16.90 L407.00,16.72 L407.50,16.55 L408.00,16.37 L408.50,16.19 L409.00,16.01 L409.50,15.84 L410.00,15.66 L410.50,15.48 L411.00,15.30 L411.50,15.13 L412.00,14.95 L412.50,14.77 L413.00,14.59 L413.50,14.42 L414.00,14.24 L414.50,14.06 L415.00,13.89 L415.50,13.71 L416.00,13.53 L416.50,13.35 L417.00,13.18 L417.50,13.00 L418.00,12.82 L418.50,12.64 L419.00,12.47 L419.50,12.29 L420.00,12.11 L420.50,11.93 L421.00,11.76 L421.50,11.58 L422.00,11.40 L422.50,11.22 L423.00,11.04 L423.50,10.87 L424.00,10.69 L424.50,10.51 L425.00,10.33 L425.50,10.16 L426.00,9.98 L426.50,9.80 L427.00,9.62 L427.50,9.45 L428.00,9.27 L428.50,9.09 L429.00,8.91 L429.50,8.74 L430.00,8.56 L430.50,8.38 L431.00,8.20 L431.50,8.02 L432.00,7.85 L432.50,7.67 L433.00,7.49 L433.50,7.31 L434.00,7.14 L434.50,6.96 L435.00,6.78 L435.50,6.60 L436.00,6.42 L436.50,6.25 L437.00,6.07 L437.50,5.89 L438.00,5.71 L438.50,5.53 L439.00,5.36 L439.50,5.18 L440.00,5.00 L440.50,4.82 L441.00,4.64 L441.50,4.47 L442.00,4.29 L442.50,4.11 L443.00,3.93 L443.50,3.75 L444.00,3.57 L444.50,3.40 L445.00,3.22 L445.50,3.04 L446.00,2.86 L446.50,2.68 L447.00,2.51 L447.50,2.33 L448.00,2.15 L448.50,1.97 L449.00,1.79 L449.50,1.61 L450.00,1.44 L450.50,1.26 L451.00,1.08 L451.50,0.90 L452.00,0.72 L452.50,0.54 L453.00,0.36 L453.50,0.19 L454.00,0.01 L454.50,-0.17 L455.00,-0.35 L455.50,-0.53 L456.00,-0.71 L456.50,-0.89 L457.00,-1.07 L457.50,-1.25 L458.00,-1.42 L458.50,-1.60 L459.00,-1.78 L459.50,-1.96 L460.00,-2.14 L460.50,-2.32 L461.00,-2.50 L461.50,-2.68 L462.00,-2.86 L462.50,-3.04 L463.00,-3.22 L463.50,-3.40 L464.00,-3.58 L464.50,-3.76 L465.00,-3.94 L465.50,-4.12 L466.00,-4.30 L466.50,-4.48 L467.00,-4.65 L467.50,-4.83 L468.00,-5.01 L468.50,-5.18 L469.00,-5.35 L469.50,-5.52 L470.00,-5.68 L470.50,-5.84 L471.00,-6.00 L471.50,-6.15 L472.00,-6.29 L472.50,-6.42 L473.00,-6.55 L473.50,-6.66 L474.00,-6.77 L474.50,-6.86" fill="none" stroke="#0000ff" stroke-width="2.0" stroke-linejoin="round"/>
</g>
<path d="M72.45,11.05V140.85" stroke="#767676" stroke-width="0.95" fill="none"/>
<path d="M72.0,11.5H461.05" stroke="#5c5c5c" stroke-width="0.9" fill="none"/>
<path d="M72.0,140.4H461.05" stroke="#585858" stroke-width="0.9" fill="none"/>
<path d="M460.6,11.05V140.85" stroke="#3c3c3c" stroke-width="1" fill="none"/>
<text x="34.0" y="37.80" class="tl" textLength="14.6">10</text>
<text x="49.0" y="34.10" class="sup" textLength="16.0" lengthAdjust="spacingAndGlyphs">−21</text>
<text x="34.0" y="89.15" class="tl" textLength="14.6">10</text>
<text x="49.0" y="85.45" class="sup" textLength="16.0" lengthAdjust="spacingAndGlyphs">−22</text>
<text x="34.0" y="140.50" class="tl" textLength="14.6">10</text>
<text x="49.0" y="136.80" class="sup" textLength="16.0" lengthAdjust="spacingAndGlyphs">−23</text>
<text x="101.6" y="131.00" class="run" textLength="26.6" lengthAdjust="spacingAndGlyphs">Run</text>
<text x="135.4" y="131.00" class="run" textLength="8.7" lengthAdjust="spacingAndGlyphs">B</text>
<path d="M84.22,147.6v4.2M84.22,276.7v-4.2M94.30,147.6v8.3M94.30,276.7v-8.3M160.60,147.6v4.2M160.60,276.7v-4.2M199.39,147.6v4.2M199.39,276.7v-4.2M226.90,147.6v4.2M226.90,276.7v-4.2M248.25,147.6v4.2M248.25,276.7v-4.2M265.69,147.6v4.2M265.69,276.7v-4.2M280.43,147.6v4.2M280.43,276.7v-4.2M293.21,147.6v4.2M293.21,276.7v-4.2M304.47,147.6v4.2M304.47,276.7v-4.2M314.55,147.6v8.3M314.55,276.7v-8.3M380.85,147.6v4.2M380.85,276.7v-4.2M419.64,147.6v4.2M419.64,276.7v-4.2M447.15,147.6v4.2M447.15,276.7v-4.2M72.5,274.09h4.6M460.5,274.09h-4.6M72.5,270.65h4.6M460.5,270.65h-4.6M72.5,267.68h4.6M460.5,267.68h-4.6M72.5,265.05h4.6M460.5,265.05h-4.6M72.5,262.70h9.0M460.5,262.70h-9.0M72.5,247.24h4.6M460.5,247.24h-4.6M72.5,238.20h4.6M460.5,238.20h-4.6M72.5,231.78h4.6M460.5,231.78h-4.6M72.5,226.81h4.6M460.5,226.81h-4.6M72.5,222.74h4.6M460.5,222.74h-4.6M72.5,219.30h4.6M460.5,219.30h-4.6M72.5,216.33h4.6M460.5,216.33h-4.6M72.5,213.70h4.6M460.5,213.70h-4.6M72.5,211.35h9.0M460.5,211.35h-9.0M72.5,195.89h4.6M460.5,195.89h-4.6M72.5,186.85h4.6M460.5,186.85h-4.6M72.5,180.43h4.6M460.5,180.43h-4.6M72.5,175.46h4.6M460.5,175.46h-4.6M72.5,171.39h4.6M460.5,171.39h-4.6M72.5,167.95h4.6M460.5,167.95h-4.6M72.5,164.98h4.6M460.5,164.98h-4.6M72.5,162.35h4.6M460.5,162.35h-4.6M72.5,160.00h9.0M460.5,160.00h-9.0" fill="none" stroke="#707070" stroke-width="0.9"/>
<g clip-path="url(#c1)">
<path d="M72.00,165.01 L72.08,164.96 L72.16,165.06 L72.24,165.01 L72.32,165.02 L72.40,165.00 L72.48,165.07 L72.56,165.00 L72.64,165.09 L72.72,164.97 L72.80,165.11 L72.88,164.95 L72.96,165.09 L73.04,165.01 L73.12,165.13 L73.20,164.97 L73.28,165.12 L73.36,165.02 L73.44,165.14 L73.52,165.01 L73.60,165.09 L73.68,165.00 L73.76,165.14 L73.84,165.05 L73.92,165.16 L74.00,164.99 L74.08,165.14 L74.16,165.07 L74.24,165.10 L74.32,165.04 L74.40,165.13 L74.48,165.05 L74.56,165.15 L74.64,165.07 L74.72,165.15 L74.80,165.09 L74.88,165.21 L74.96,165.05 L75.04,165.18 L75.12,165.05 L75.20,165.25 L75.28,165.05 L75.36,165.22 L75.44,165.09 L75.52,165.20 L75.60,165.07 L75.68,165.17 L75.76,165.07 L75.84,165.17 L75.92,165.15 L76.00,165.25 L76.08,165.14 L76.16,165.24 L76.24,165.15 L76.32,165.24 L76.40,165.15 L76.48,165.24 L76.56,165.15 L76.64,165.28 L76.72,165.20 L76.80,165.27 L76.88,165.13 L76.96,165.27 L77.04,165.15 L77.12,165.29 L77.20,165.19 L77.28,165.28 L77.36,165.22 L77.44,165.26 L77.52,165.20 L77.60,165.32 L77.68,165.23 L77.76,165.31 L77.84,165.19 L77.92,165.26 L78.00,165.17 L78.08,165.30 L78.16,165.18 L78.24,165.30 L78.32,165.24 L78.40,165.34 L78.48,165.27 L78.56,165.33 L78.64,165.27 L78.72,165.39 L78.80,165.28 L78.88,165.36 L78.96,165.24 L79.04,165.38 L79.12,165.26 L79.20,165.35 L79.28,165.28 L79.36,165.37 L79.44,165.30 L79.52,165.41 L79.60,165.29 L79.68,165.41 L79.76,165.29 L79.84,165.38 L79.92,165.30 L80.00,165.43 L80.08,165.31 L80.16,165.42 L80.24,165.31 L80.32,165.41 L80.40,165.30 L80.48,165.43 L80.56,165.32 L80.64,165.47 L80.72,165.36 L80.80,165.47 L80.88,165.39 L80.96,165.41 L81.04,165.39 L81.12,165.43 L81.20,165.34 L81.28,165.45 L81.36,165.36 L81.44,165.47 L81.52,165.31 L81.60,165.48 L81.68,165.36 L81.76,165.43 L81.84,165.37 L81.92,165.51 L82.00,165.42 L82.08,165.51 L82.16,165.38 L82.24,165.50 L82.32,165.38 L82.40,165.52 L82.48,165.39 L82.56,165.52 L82.64,165.42 L82.72,165.48 L82.80,165.45 L82.88,165.55 L82.96,165.40 L83.04,165.56 L83.12,165.42 L83.20,165.57 L83.28,165.44 L83.36,165.53 L83.44,165.49 L83.52,165.57 L83.60,165.44 L83.68,165.52 L83.76,165.50 L83.84,165.60 L83.92,165.46 L84.00,165.56 L84.08,165.49 L84.16,165.55 L84.24,165.52 L84.32,165.58 L84.40,165.48 L84.48,165.56 L84.56,165.45 L84.64,165.61 L84.72,165.55 L84.80,165.56 L84.88,165.49 L84.96,165.64 L85.04,165.51 L85.12,165.67 L85.20,165.55 L85.28,165.63 L85.36,165.55 L85.44,165.64 L85.52,165.52 L85.60,165.67 L85.68,165.53 L85.76,165.70 L85.84,165.55 L85.92,165.69 L86.00,165.55 L86.08,165.64 L86.16,165.56 L86.24,165.63 L86.32,165.56 L86.40,165.65 L86.48,165.63 L86.56,165.70 L86.64,165.58 L86.72,165.68 L86.80,165.59 L86.88,165.69 L86.96,165.60 L87.04,165.73 L87.12,165.62 L87.20,165.69 L87.28,165.62 L87.36,165.73 L87.44,165.61 L87.52,165.70 L87.60,165.63 L87.68,165.75 L87.76,165.61 L87.84,165.74 L87.92,165.63 L88.00,165.76 L88.08,165.64 L88.16,165.77 L88.24,165.66 L88.32,165.76 L88.40,165.68 L88.48,165.74 L88.56,165.68 L88.64,165.74 L88.72,165.64 L88.80,165.82 L88.88,165.69 L88.96,165.77 L89.04,165.68 L89.12,165.81 L89.20,165.67 L89.28,165.79 L89.36,165.73 L89.44,165.83 L89.52,165.68 L89.60,165.79 L89.68,165.73 L89.76,165.83 L89.84,165.73 L89.92,165.84 L90.00,165.68 L90.08,165.84 L90.16,165.74 L90.24,165.84 L90.32,165.79 L90.40,165.87 L90.48,165.77 L90.56,165.83 L90.64,165.75 L90.72,165.87 L90.80,165.77 L90.88,165.85 L90.96,165.76 L91.04,165.90 L91.12,165.78 L91.20,165.89 L91.28,165.79 L91.36,165.90 L91.44,165.80 L91.52,165.88 L91.60,165.77 L91.68,165.92 L91.76,165.77 L91.84,165.88 L91.92,165.84 L92.00,165.93 L92.08,165.85 L92.16,165.94 L92.24,165.81 L92.32,165.93 L92.40,165.84 L92.48,165.95 L92.56,165.84 L92.64,165.92 L92.72,165.85 L92.80,165.97 L92.88,165.86 L92.96,165.98 L93.04,165.86 L93.12,165.97 L93.20,165.86 L93.28,165.98 L93.36,165.87 L93.44,166.02 L93.52,165.92 L93.60,165.96 L93.68,165.85 L93.76,166.01 L93.84,165.88 L93.92,166.00 L94.00,165.90 L94.08,166.00 L94.16,165.87 L94.24,165.99 L94.32,165.89 L94.40,166.05 L94.48,165.92 L94.56,166.00 L94.64,165.97 L94.72,166.05 L94.80,165.91 L94.88,166.08 L94.96,165.93 L95.04,166.02 L95.12,165.96 L95.20,166.04 L95.28,165.96 L95.36,166.10 L95.44,165.95 L95.52,166.06 L95.60,165.94 L95.68,166.07 L95.76,166.00 L95.84,166.10 L95.92,165.98 L96.00,166.09 L96.08,166.04 L96.16,166.07 L96.24,165.98 L96.32,166.07 L96.40,165.97 L96.48,166.13 L96.56,166.05 L96.64,166.12 L96.72,166.05 L96.80,166.12 L96.88,166.06 L96.96,166.14 L97.04,166.07 L97.12,166.16 L97.20,166.07 L97.28,166.15 L97.36,166.04 L97.44,166.19 L97.52,166.06 L97.60,166.14 L97.68,166.04 L97.76,166.14 L97.84,166.12 L97.92,166.18 L98.00,166.10 L98.08,166.17 L98.16,166.09 L98.24,166.21 L98.32,166.10 L98.40,166.18 L98.48,166.08 L98.56,166.19 L98.64,166.11 L98.72,166.17 L98.80,166.11 L98.88,166.20 L98.96,166.12 L99.04,166.22 L99.12,166.15 L99.20,166.23 L99.28,166.16 L99.36,166.26 L99.44,166.13 L99.52,166.25 L99.60,166.15 L99.68,166.29 L99.76,166.17 L99.84,166.27 L99.92,166.20 L100.00,166.29 L100.08,166.18 L100.16,166.29 L100.24,166.16 L100.32,166.30 L100.40,166.18 L100.48,166.28 L100.56,166.17 L100.64,166.32 L100.72,166.16 L100.80,166.32 L100.88,166.21 L100.96,166.26 L101.04,166.22 L101.12,166.33 L101.20,166.21 L101.28,166.32 L101.36,166.19 L101.44,166.29 L101.52,166.24 L101.60,166.31 L101.68,166.23 L101.76,166.31 L101.84,166.26 L101.92,166.32 L102.00,166.25 L102.08,166.36 L102.16,166.27 L102.24,166.36 L102.32,166.28 L102.40,166.35 L102.48,166.25 L102.56,166.36 L102.64,166.25 L102.72,166.40 L102.80,166.33 L102.88,166.42 L102.96,166.31 L103.04,166.35 L103.12,166.31 L103.20,166.43 L103.28,166.27 L103.36,166.46 L103.44,166.31 L103.52,166.41 L103.60,166.27 L103.68,166.47 L103.76,166.30 L103.84,166.46 L103.92,166.30 L104.00,166.42 L104.08,166.31 L104.16,166.49 L104.24,166.32 L104.32,166.47 L104.40,166.31 L104.48,166.47 L104.56,166.36 L104.64,166.48 L104.72,166.37 L104.80,166.47 L104.88,166.32 L104.96,166.50 L105.04,166.39 L105.12,166.48 L105.20,166.41 L105.28,166.46 L105.36,166.38 L105.44,166.49 L105.52,166.41 L105.60,166.51 L105.68,166.44 L105.76,166.48 L105.84,166.41 L105.92,166.48 L106.00,166.44 L106.08,166.49 L106.16,166.42 L106.24,166.55 L106.32,166.43 L106.40,166.54 L106.48,166.44 L106.56,166.51 L106.64,166.46 L106.72,166.54 L106.80,166.50 L106.88,166.56 L106.96,166.47 L107.04,166.58 L107.12,166.48 L107.20,166.58 L107.28,166.50 L107.36,166.61 L107.44,166.44 L107.52,166.61 L107.60,166.45 L107.68,166.57 L107.76,166.45 L107.84,166.63 L107.92,166.49 L108.00,166.60 L108.08,166.48 L108.16,166.63 L108.24,166.52 L108.32,166.64 L108.40,166.52 L108.48,166.63 L108.56,166.58 L108.64,166.65 L108.72,166.50 L108.80,166.67 L108.88,166.53 L108.96,166.64 L109.04,166.51 L109.12,166.67 L109.20,166.57 L109.28,166.65 L109.36,166.54 L109.44,166.71 L109.52,166.59 L109.60,166.71 L109.68,166.56 L109.76,166.72 L109.84,166.56 L109.92,166.73 L110.00,166.60 L110.08,166.72 L110.16,166.60 L110.24,166.70 L110.32,166.57 L110.40,166.74 L110.48,166.62 L110.56,166.71 L110.64,166.65 L110.72,166.78 L110.80,166.61 L110.88,166.74 L110.96,166.66 L111.04,166.72 L111.12,166.66 L111.20,166.76 L111.28,166.62 L111.36,166.78 L111.44,166.64 L111.52,166.80 L111.60,166.67 L111.68,166.78 L111.76,166.67 L111.84,166.78 L111.92,166.68 L112.00,166.79 L112.08,166.65 L112.16,166.82 L112.24,166.69 L112.32,166.80 L112.40,166.70 L112.48,166.78 L112.56,166.74 L112.64,166.79 L112.72,166.74 L112.80,166.83 L112.88,166.71 L112.96,166.80 L113.04,166.73 L113.12,166.84 L113.20,166.75 L113.28,166.84 L113.36,166.77 L113.44,166.85 L113.52,166.77 L113.60,166.85 L113.68,166.76 L113.76,166.83 L113.84,166.75 L113.92,166.88 L114.00,166.75 L114.08,166.90 L114.16,166.79 L114.24,166.87 L114.32,166.79 L114.40,166.91 L114.48,166.78 L114.56,166.88 L114.64,166.79 L114.72,166.87 L114.80,166.81 L114.88,166.88 L114.96,166.83 L115.04,166.92 L115.12,166.84 L115.20,166.93 L115.28,166.82 L115.36,166.88 L115.44,166.87 L115.52,166.96 L115.60,166.80 L115.68,166.92 L115.76,166.89 L115.84,166.95 L115.92,166.82 L116.00,166.98 L116.08,166.86 L116.16,167.01 L116.24,166.91 L116.32,166.96 L116.40,166.84 L116.48,166.99 L116.56,166.86 L116.64,166.96 L116.72,166.91 L116.80,167.02 L116.88,166.92 L116.96,167.02 L117.04,166.95 L117.12,166.98 L117.20,166.89 L117.28,167.03 L117.36,166.90 L117.44,167.06 L117.52,166.91 L117.60,167.05 L117.68,166.90 L117.76,167.08 L117.84,166.93 L117.92,167.05 L118.00,166.97 L118.08,167.02 L118.16,166.93 L118.24,167.02 L118.32,166.97 L118.40,167.06 L118.48,167.00 L118.56,167.07 L118.64,166.95 L118.72,167.09 L118.80,167.00 L118.88,167.10 L118.96,166.97 L119.04,167.08 L119.12,166.99 L119.20,167.12 L119.28,167.00 L119.36,167.08 L119.44,167.02 L119.52,167.09 L119.60,167.03 L119.68,167.12 L119.76,167.03 L119.84,167.12 L119.92,167.00 L120.00,167.13 L120.08,167.03 L120.16,167.13 L120.24,167.02 L120.32,167.16 L120.40,167.06 L120.48,167.15 L120.56,167.04 L120.64,167.12 L120.72,167.04 L120.80,167.17 L120.88,167.03 L120.96,167.20 L121.04,167.05 L121.12,167.15 L121.20,167.12 L121.28,167.16 L121.36,167.08 L121.44,167.16 L121.52,167.05 L121.60,167.20 L121.68,167.13 L121.76,167.18 L121.84,167.10 L121.92,167.21 L122.00,167.12 L122.08,167.24 L122.16,167.15 L122.24,167.25 L122.32,167.10 L122.40,167.22 L122.48,167.14 L122.56,167.28 L122.64,167.13 L122.72,167.21 L122.80,167.13 L122.88,167.28 L122.96,167.17 L123.04,167.29 L123.12,167.16 L123.20,167.26 L123.28,167.18 L123.36,167.22 L123.44,167.16 L123.52,167.27 L123.60,167.17 L123.68,167.27 L123.76,167.18 L123.84,167.29 L123.92,167.22 L124.00,167.26 L124.08,167.22 L124.16,167.27 L124.24,167.20 L124.32,167.32 L124.40,167.21 L124.48,167.30 L124.56,167.25 L124.64,167.32 L124.72,167.21 L124.80,167.32 L124.88,167.27 L124.96,167.32 L125.04,167.21 L125.12,167.33 L125.20,167.28 L125.28,167.36 L125.36,167.25 L125.44,167.36 L125.52,167.23 L125.60,167.38 L125.68,167.30 L125.76,167.36 L125.84,167.29 L125.92,167.36 L126.00,167.28 L126.08,167.40 L126.16,167.27 L126.24,167.38 L126.32,167.27 L126.40,167.41 L126.48,167.30 L126.56,167.37 L126.64,167.33 L126.72,167.39 L126.80,167.31 L126.88,167.44 L126.96,167.33 L127.04,167.38 L127.12,167.33 L127.20,167.43 L127.28,167.36 L127.36,167.42 L127.44,167.31 L127.52,167.45 L127.60,167.35 L127.68,167.45 L127.76,167.34 L127.84,167.46 L127.92,167.34 L128.00,167.48 L128.08,167.38 L128.16,167.48 L128.24,167.32 L128.32,167.46 L128.40,167.41 L128.48,167.49 L128.56,167.38 L128.64,167.47 L128.72,167.39 L128.80,167.50 L128.88,167.37 L128.96,167.52 L129.04,167.39 L129.12,167.55 L129.20,167.43 L129.28,167.52 L129.36,167.42 L129.44,167.53 L129.52,167.38 L129.60,167.51 L129.68,167.46 L129.76,167.57 L129.84,167.44 L129.92,167.58 L130.00,167.46 L130.08,167.51 L130.16,167.45 L130.24,167.55 L130.32,167.48 L130.40,167.54 L130.48,167.47 L130.56,167.58 L130.64,167.47 L130.72,167.56 L130.80,167.45 L130.88,167.59 L130.96,167.50 L131.04,167.60 L131.12,167.48 L131.20,167.61 L131.28,167.51 L131.36,167.60 L131.44,167.47 L131.52,167.61 L131.60,167.51 L131.68,167.63 L131.76,167.57 L131.84,167.63 L131.92,167.47 L132.00,167.61 L132.08,167.56 L132.16,167.60 L132.24,167.50 L132.32,167.67 L132.40,167.53 L132.48,167.66 L132.56,167.56 L132.64,167.68 L132.72,167.60 L132.80,167.67 L132.88,167.58 L132.96,167.67 L133.04,167.57 L133.12,167.65 L133.20,167.60 L133.28,167.66 L133.36,167.57 L133.44,167.72 L133.52,167.59 L133.60,167.73 L133.68,167.62 L133.76,167.70 L133.84,167.57 L133.92,167.72 L134.00,167.65 L134.08,167.72 L134.16,167.64 L134.24,167.74 L134.32,167.67 L134.40,167.72 L134.48,167.62 L134.56,167.72 L134.64,167.66 L134.72,167.78 L134.80,167.69 L134.88,167.76 L134.96,167.65 L135.04,167.73 L135.12,167.63 L135.20,167.77 L135.28,167.70 L135.36,167.81 L135.44,167.65 L135.52,167.79 L135.60,167.70 L135.68,167.77 L135.76,167.70 L135.84,167.78 L135.92,167.67 L136.00,167.80 L136.08,167.74 L136.16,167.84 L136.24,167.70 L136.32,167.85 L136.40,167.71 L136.48,167.82 L136.56,167.72 L136.64,167.83 L136.72,167.70 L136.80,167.81 L136.88,167.73 L136.96,167.90 L137.04,167.77 L137.12,167.87 L137.20,167.76 L137.28,167.89 L137.36,167.72 L137.44,167.85 L137.52,167.80 L137.60,167.86 L137.68,167.78 L137.76,167.87 L137.84,167.78 L137.92,167.88 L138.00,167.81 L138.08,167.89 L138.16,167.77 L138.24,167.91 L138.32,167.79 L138.40,167.89 L138.48,167.80 L138.56,167.91 L138.64,167.82 L138.72,167.94 L138.80,167.84 L138.88,167.89 L138.96,167.79 L139.04,167.94 L139.12,167.83 L139.20,167.96 L139.28,167.87 L139.36,167.94 L139.44,167.85 L139.52,167.94 L139.60,167.85 L139.68,167.99 L139.76,167.87 L139.84,167.96 L139.92,167.86 L140.00,167.98 L140.08,167.86 L140.16,168.03 L140.24,167.91 L140.32,168.00 L140.40,167.88 L140.48,168.00 L140.56,167.88 L140.64,167.99 L140.72,167.91 L140.80,168.01 L140.88,167.92 L140.96,168.01 L141.04,167.91 L141.12,168.03 L141.20,167.93 L141.28,168.01 L141.36,167.94 L141.44,168.05 L141.52,167.94 L141.60,168.03 L141.68,167.96 L141.76,168.06 L141.84,167.93 L141.92,168.02 L142.00,167.94 L142.08,168.09 L142.16,167.94 L142.24,168.10 L142.32,167.96 L142.40,168.09 L142.48,168.01 L142.56,168.09 L142.64,167.97 L142.72,168.10 L142.80,167.95 L142.88,168.11 L142.96,167.98 L143.04,168.10 L143.12,168.01 L143.20,168.10 L143.28,168.03 L143.36,168.09 L143.44,168.04 L143.52,168.11 L143.60,168.02 L143.68,168.13 L143.76,168.04 L143.84,168.15 L143.92,168.06 L144.00,168.17 L144.08,168.05 L144.16,168.18 L144.24,168.07 L144.32,168.17 L144.40,168.05 L144.48,168.20 L144.56,168.04 L144.64,168.16 L144.72,168.07 L144.80,168.13 L144.88,168.05 L144.96,168.22 L145.04,168.11 L145.12,168.18 L145.20,168.11 L145.28,168.17 L145.36,168.10 L145.44,168.19 L145.52,168.08 L145.60,168.17 L145.68,168.15 L145.76,168.22 L145.84,168.14 L145.92,168.27 L146.00,168.13 L146.08,168.23 L146.16,168.14 L146.24,168.27 L146.32,168.14 L146.40,168.22 L146.48,168.19 L146.56,168.30 L146.64,168.14 L146.72,168.25 L146.80,168.16 L146.88,168.25 L146.96,168.21 L147.04,168.28 L147.12,168.14 L147.20,168.30 L147.28,168.21 L147.36,168.29 L147.44,168.18 L147.52,168.30 L147.60,168.20 L147.68,168.31 L147.76,168.22 L147.84,168.35 L147.92,168.23 L148.00,168.29 L148.08,168.20 L148.16,168.34 L148.24,168.22 L148.32,168.35 L148.40,168.26 L148.48,168.39 L148.56,168.22 L148.64,168.32 L148.72,168.27 L148.80,168.32 L148.88,168.23 L148.96,168.36 L149.04,168.29 L149.12,168.40 L149.20,168.30 L149.28,168.38 L149.36,168.27 L149.44,168.38 L149.52,168.27 L149.60,168.39 L149.68,168.26 L149.76,168.41 L149.84,168.31 L149.92,168.42 L150.00,168.31 L150.08,168.41 L150.16,168.30 L150.24,168.41 L150.32,168.32 L150.40,168.48 L150.48,168.30 L150.56,168.44 L150.64,168.34 L150.72,168.41 L150.80,168.36 L150.88,168.44 L150.96,168.32 L151.04,168.42 L151.12,168.37 L151.20,168.40 L151.28,168.40 L151.36,168.43 L151.44,168.36 L151.52,168.49 L151.60,168.42 L151.68,168.51 L151.76,168.40 L151.84,168.50 L151.92,168.36 L152.00,168.50 L152.08,168.37 L152.16,168.48 L152.24,168.39 L152.32,168.49 L152.40,168.35 L152.48,168.55 L152.56,168.40 L152.64,168.54 L152.72,168.40 L152.80,168.54 L152.88,168.43 L152.96,168.51 L153.04,168.37 L153.12,168.57 L153.20,168.45 L153.28,168.57 L153.36,168.44 L153.44,168.51 L153.52,168.45 L153.60,168.59 L153.68,168.48 L153.76,168.56 L153.84,168.47 L153.92,168.58 L154.00,168.45 L154.08,168.59 L154.16,168.53 L154.24,168.59 L154.32,168.50 L154.40,168.57 L154.48,168.51 L154.56,168.60 L154.64,168.47 L154.72,168.61 L154.80,168.46 L154.88,168.60 L154.96,168.52 L155.04,168.59 L155.12,168.48 L155.20,168.67 L155.28,168.50 L155.36,168.63 L155.44,168.54 L155.52,168.62 L155.60,168.55 L155.68,168.65 L155.76,168.59 L155.84,168.65 L155.92,168.54 L156.00,168.63 L156.08,168.57 L156.16,168.67 L156.24,168.58 L156.32,168.65 L156.40,168.59 L156.48,168.66 L156.56,168.58 L156.64,168.69 L156.72,168.59 L156.80,168.74 L156.88,168.59 L156.96,168.75 L157.04,168.58 L157.12,168.70 L157.20,168.61 L157.28,168.67 L157.36,168.55 L157.44,168.75 L157.52,168.60 L157.60,168.71 L157.68,168.62 L157.76,168.76 L157.84,168.62 L157.92,168.74 L158.00,168.60 L158.08,168.77 L158.16,168.63 L158.24,168.76 L158.32,168.68 L158.40,168.77 L158.48,168.71 L158.56,168.78 L158.64,168.69 L158.72,168.81 L158.80,168.64 L158.88,168.74 L158.96,168.67 L159.04,168.82 L159.12,168.73 L159.20,168.78 L159.28,168.73 L159.36,168.78 L159.44,168.71 L159.52,168.84 L159.60,168.67 L159.68,168.83 L159.76,168.70 L159.84,168.87 L159.92,168.70 L160.00,168.85 L160.08,168.76 L160.16,168.89 L160.24,168.72 L160.32,168.84 L160.40,168.79 L160.48,168.88 L160.56,168.76 L160.64,168.85 L160.72,168.78 L160.80,168.86 L160.88,168.76 L160.96,168.85 L161.04,168.82 L161.12,168.88 L161.20,168.78 L161.28,168.88 L161.36,168.79 L161.44,168.88 L161.52,168.78 L161.60,168.91 L161.68,168.78 L161.76,168.88 L161.84,168.77 L161.92,168.94 L162.00,168.79 L162.08,168.97 L162.16,168.80 L162.24,168.94 L162.32,168.80 L162.40,168.91 L162.48,168.77 L162.56,168.94 L162.64,168.87 L162.72,168.95 L162.80,168.83 L162.88,168.94 L162.96,168.82 L163.04,168.96 L163.12,168.88 L163.20,169.01 L163.28,168.84 L163.36,168.95 L163.44,168.85 L163.52,168.96 L163.60,168.86 L163.68,168.94 L163.76,168.91 L163.84,168.96 L163.92,168.92 L164.00,169.02 L164.08,168.88 L164.16,169.03 L164.24,168.90 L164.32,168.99 L164.40,168.94 L164.48,169.04 L164.56,168.89 L164.64,169.02 L164.72,168.90 L164.80,169.03 L164.88,168.90 L164.96,169.03 L165.04,168.88 L165.12,169.04 L165.20,168.94 L165.28,169.05 L165.36,168.94 L165.44,169.04 L165.52,168.99 L165.60,169.11 L165.68,168.97 L165.76,169.09 L165.84,168.98 L165.92,169.08 L166.00,168.99 L166.08,169.09 L166.16,168.97 L166.24,169.13 L166.32,168.99 L166.40,169.09 L166.48,169.03 L166.56,169.07 L166.64,168.96 L166.72,169.16 L166.80,169.03 L166.88,169.16 L166.96,169.04 L167.04,169.19 L167.12,169.00 L167.20,169.14 L167.28,169.02 L167.36,169.14 L167.44,168.98 L167.52,169.20 L167.60,168.98 L167.68,169.15 L167.76,169.02 L167.84,169.21 L167.92,169.07 L168.00,169.22 L168.08,169.02 L168.16,169.19 L168.24,169.06 L168.32,169.23 L168.40,169.07 L168.48,169.20 L168.56,169.12 L168.64,169.23 L168.72,169.12 L168.80,169.19 L168.88,169.09 L168.96,169.26 L169.04,169.08 L169.12,169.25 L169.20,169.07 L169.28,169.20 L169.36,169.15 L169.44,169.22 L169.52,169.14 L169.60,169.25 L169.68,169.14 L169.76,169.22 L169.84,169.12 L169.92,169.25 L170.00,169.12 L170.08,169.20 L170.16,169.17 L170.24,169.25 L170.32,169.14 L170.40,169.28 L170.48,169.21 L170.56,169.23 L170.64,169.13 L170.72,169.29 L170.80,169.18 L170.88,169.29 L170.96,169.15 L171.04,169.29 L171.12,169.22 L171.20,169.32 L171.28,169.14 L171.36,169.33 L171.44,169.19 L171.52,169.36 L171.60,169.21 L171.68,169.29 L171.76,169.22 L171.84,169.32 L171.92,169.26 L172.00,169.37 L172.08,169.24 L172.16,169.30 L172.24,169.26 L172.32,169.35 L172.40,169.28 L172.48,169.33 L172.56,169.22 L172.64,169.34 L172.72,169.30 L172.80,169.39 L172.88,169.28 L172.96,169.32 L173.04,169.26 L173.12,169.39 L173.20,169.24 L173.28,169.37 L173.36,169.25 L173.44,169.38 L173.52,169.28 L173.60,169.38 L173.68,169.30 L173.76,169.46 L173.84,169.26 L173.92,169.45 L174.00,169.32 L174.08,169.39 L174.16,169.37 L174.24,169.45 L174.32,169.33 L174.40,169.44 L174.48,169.28 L174.56,169.42 L174.64,169.30 L174.72,169.41 L174.80,169.36 L174.88,169.46 L174.96,169.36 L175.04,169.50 L175.12,169.35 L175.20,169.42 L175.28,169.37 L175.36,169.50 L175.44,169.38 L175.52,169.45 L175.60,169.34 L175.68,169.54 L175.76,169.38 L175.84,169.47 L175.92,169.43 L176.00,169.48 L176.08,169.43 L176.16,169.52 L176.24,169.42 L176.32,169.46 L176.40,169.40 L176.48,169.55 L176.56,169.40 L176.64,169.53 L176.72,169.42 L176.80,169.51 L176.88,169.45 L176.96,169.54 L177.04,169.47 L177.12,169.54 L177.20,169.47 L177.28,169.54 L177.36,169.47 L177.44,169.57 L177.52,169.48 L177.60,169.63 L177.68,169.49 L177.76,169.61 L177.84,169.46 L177.92,169.58 L178.00,169.49 L178.08,169.63 L178.16,169.51 L178.24,169.57 L178.32,169.44 L178.40,169.57 L178.48,169.46 L178.56,169.61 L178.64,169.45 L178.72,169.69 L178.80,169.56 L178.88,169.64 L178.96,169.45 L179.04,169.63 L179.12,169.46 L179.20,169.59 L179.28,169.50 L179.36,169.61 L179.44,169.49 L179.52,169.63 L179.60,169.54 L179.68,169.63 L179.76,169.52 L179.84,169.63 L179.92,169.56 L180.00,169.67 L180.08,169.57 L180.16,169.63 L180.24,169.54 L180.32,169.62 L180.40,169.59 L180.48,169.67 L180.56,169.54 L180.64,169.70 L180.72,169.54 L180.80,169.67 L180.88,169.53 L180.96,169.74 L181.04,169.55 L181.12,169.71 L181.20,169.57 L181.28,169.76 L181.36,169.58 L181.44,169.75 L181.52,169.61 L181.60,169.76 L181.68,169.57 L181.76,169.69 L181.84,169.60 L181.92,169.81 L182.00,169.63 L182.08,169.81 L182.16,169.64 L182.24,169.72 L182.32,169.65 L182.40,169.78 L182.48,169.61 L182.56,169.72 L182.64,169.63 L182.72,169.75 L182.80,169.67 L182.88,169.79 L182.96,169.68 L183.04,169.74 L183.12,169.66 L183.20,169.85 L183.28,169.63 L183.36,169.74 L183.44,169.70 L183.52,169.79 L183.60,169.72 L183.68,169.81 L183.76,169.75 L183.84,169.82 L183.92,169.66 L184.00,169.81 L184.08,169.68 L184.16,169.82 L184.24,169.72 L184.32,169.85 L184.40,169.75 L184.48,169.83 L184.56,169.72 L184.64,169.86 L184.72,169.71 L184.80,169.87 L184.88,169.70 L184.96,169.89 L185.04,169.78 L185.12,169.91 L185.20,169.76 L185.28,169.88 L185.36,169.75 L185.44,169.90 L185.52,169.75 L185.60,169.86 L185.68,169.78 L185.76,169.91 L185.84,169.74 L185.92,169.96 L186.00,169.76 L186.08,169.94 L186.16,169.80 L186.24,169.93 L186.32,169.78 L186.40,169.93 L186.48,169.79 L186.56,169.90 L186.64,169.83 L186.72,169.94 L186.80,169.85 L186.88,169.96 L186.96,169.86 L187.04,169.94 L187.12,169.84 L187.20,169.95 L187.28,169.84 L187.36,169.98 L187.44,169.85 L187.52,169.96 L187.60,169.88 L187.68,169.93 L187.76,169.88 L187.84,169.94 L187.92,169.87 L188.00,170.01 L188.08,169.84 L188.16,170.02 L188.24,169.92 L188.32,169.99 L188.40,169.90 L188.48,170.00 L188.56,169.90 L188.64,169.99 L188.72,169.90 L188.80,170.00 L188.88,169.84 L188.96,170.05 L189.04,169.85 L189.12,170.06 L189.20,169.92 L189.28,170.05 L189.36,169.93 L189.44,170.05 L189.52,169.91 L189.60,170.06 L189.68,169.95 L189.76,170.01 L189.84,169.95 L189.92,170.12 L190.00,169.98 L190.08,170.07 L190.16,169.95 L190.24,170.10 L190.32,169.96 L190.40,170.11 L190.48,169.96 L190.56,170.08 L190.64,170.00 L190.72,170.07 L190.80,169.98 L190.88,170.10 L190.96,170.03 L191.04,170.13 L191.12,169.97 L191.20,170.12 L191.28,169.95 L191.36,170.12 L191.44,170.01 L191.52,170.14 L191.60,170.01 L191.68,170.13 L191.76,169.96 L191.84,170.11 L191.92,170.00 L192.00,170.13 L192.08,170.03 L192.16,170.11 L192.24,170.04 L192.32,170.14 L192.40,170.07 L192.48,170.18 L192.56,170.01 L192.64,170.22 L192.72,169.99 L192.80,170.15 L192.88,170.04 L192.96,170.14 L193.04,170.01 L193.12,170.24 L193.20,170.03 L193.28,170.25 L193.36,170.06 L193.44,170.25 L193.52,170.04 L193.60,170.18 L193.68,170.06 L193.76,170.17 L193.84,170.09 L193.92,170.22 L194.00,170.09 L194.08,170.29 L194.16,170.08 L194.24,170.22 L194.32,170.11 L194.40,170.22 L194.48,170.10 L194.56,170.22 L194.64,170.07 L194.72,170.22 L194.80,170.14 L194.88,170.20 L194.96,170.12 L195.04,170.28 L195.12,170.14 L195.20,170.25 L195.28,170.10 L195.36,170.29 L195.44,170.15 L195.52,170.28 L195.60,170.17 L195.68,170.32 L195.76,170.19 L195.84,170.31 L195.92,170.14 L196.00,170.29 L196.08,170.16 L196.16,170.31 L196.24,170.21 L196.32,170.35 L196.40,170.16 L196.48,170.28 L196.56,170.21 L196.64,170.32 L196.72,170.21 L196.80,170.35 L196.88,170.18 L196.96,170.29 L197.04,170.19 L197.12,170.33 L197.20,170.20 L197.28,170.31 L197.36,170.24 L197.44,170.34 L197.52,170.24 L197.60,170.32 L197.68,170.22 L197.76,170.40 L197.84,170.21 L197.92,170.42 L198.00,170.21 L198.08,170.40 L198.16,170.20 L198.24,170.42 L198.32,170.27 L198.40,170.38 L198.48,170.23 L198.56,170.38 L198.64,170.22 L198.72,170.41 L198.80,170.28 L198.88,170.38 L198.96,170.29 L199.04,170.43 L199.12,170.29 L199.20,170.46 L199.28,170.27 L199.36,170.39 L199.44,170.30 L199.52,170.42 L199.60,170.30 L199.68,170.49 L199.76,170.29 L199.84,170.43 L199.92,170.34 L200.00,170.46 L200.08,170.29 L200.16,170.39 L200.24,170.31 L200.32,170.45 L200.40,170.34 L200.48,170.42 L200.56,170.33 L200.64,170.45 L200.72,170.30 L200.80,170.43 L200.88,170.35 L200.96,170.49 L201.04,170.30 L201.12,170.44 L201.20,170.35 L201.28,170.53 L201.36,170.36 L201.44,170.48 L201.52,170.35 L201.60,170.53 L201.68,170.32 L201.76,170.46 L201.84,170.40 L201.92,170.58 L202.00,170.39 L202.08,170.51 L202.16,170.40 L202.24,170.51 L202.32,170.39 L202.40,170.54 L202.48,170.38 L202.56,170.50 L202.64,170.42 L202.72,170.51 L202.80,170.44 L202.88,170.52 L202.96,170.41 L203.04,170.54 L203.12,170.45 L203.20,170.56 L203.28,170.44 L203.36,170.60 L203.44,170.43 L203.52,170.58 L203.60,170.39 L203.68,170.59 L203.76,170.50 L203.84,170.64 L203.92,170.47 L204.00,170.61 L204.08,170.44 L204.16,170.62 L204.24,170.51 L204.32,170.61 L204.40,170.49 L204.48,170.65 L204.56,170.44 L204.64,170.61 L204.72,170.45 L204.80,170.60 L204.88,170.47 L204.96,170.58 L205.04,170.51 L205.12,170.69 L205.20,170.45 L205.28,170.61 L205.36,170.50 L205.44,170.69 L205.52,170.46 L205.60,170.61 L205.68,170.54 L205.76,170.62 L205.84,170.48 L205.92,170.67 L206.00,170.53 L206.08,170.64 L206.16,170.59 L206.24,170.61 L206.32,170.51 L206.40,170.70 L206.48,170.54 L206.56,170.68 L206.64,170.55 L206.72,170.73 L206.80,170.58 L206.88,170.77 L206.96,170.52 L207.04,170.71 L207.12,170.54 L207.20,170.68 L207.28,170.56 L207.36,170.70 L207.44,170.60 L207.52,170.74 L207.60,170.58 L207.68,170.72 L207.76,170.63 L207.84,170.73 L207.92,170.63 L208.00,170.76 L208.08,170.59 L208.16,170.76 L208.24,170.58 L208.32,170.74 L208.40,170.60 L208.48,170.78 L208.56,170.55 L208.64,170.80 L208.72,170.69 L208.80,170.75 L208.88,170.65 L208.96,170.81 L209.04,170.66 L209.12,170.74 L209.20,170.65 L209.28,170.81 L209.36,170.68 L209.44,170.80 L209.52,170.66 L209.60,170.80 L209.68,170.63 L209.76,170.84 L209.84,170.68 L209.92,170.84 L210.00,170.66 L210.08,170.76 L210.16,170.71 L210.24,170.83 L210.32,170.72 L210.40,170.81 L210.48,170.69 L210.56,170.77 L210.64,170.75 L210.72,170.86 L210.80,170.71 L210.88,170.83 L210.96,170.72 L211.04,170.83 L211.12,170.70 L211.20,170.88 L211.28,170.66 L211.36,170.90 L211.44,170.67 L211.52,170.84 L211.60,170.72 L211.68,170.90 L211.76,170.74 L211.84,170.83 L211.92,170.73 L212.00,170.87 L212.08,170.82 L212.16,170.93 L212.24,170.68 L212.32,170.83 L212.40,170.70 L212.48,170.91 L212.56,170.71 L212.64,170.94 L212.72,170.81 L212.80,170.87 L212.88,170.76 L212.96,170.99 L213.04,170.72 L213.12,170.96 L213.20,170.78 L213.28,170.96 L213.36,170.80 L213.44,170.93 L213.52,170.81 L213.60,170.96 L213.68,170.85 L213.76,170.98 L213.84,170.84 L213.92,170.96 L214.00,170.86 L214.08,170.95 L214.16,170.78 L214.24,170.95 L214.32,170.87 L214.40,170.98 L214.48,170.87 L214.56,170.99 L214.64,170.84 L214.72,170.98 L214.80,170.82 L214.88,170.99 L214.96,170.86 L215.04,170.99 L215.12,170.85 L215.20,171.02 L215.28,170.80 L215.36,171.05 L215.44,170.81 L215.52,171.09 L215.60,170.81 L215.68,171.02 L215.76,170.88 L215.84,171.05 L215.92,170.87 L216.00,171.05 L216.08,170.91 L216.16,171.06 L216.24,170.88 L216.32,171.03 L216.40,170.87 L216.48,171.03 L216.56,170.89 L216.64,171.07 L216.72,170.95 L216.80,171.08 L216.88,170.92 L216.96,171.05 L217.04,170.97 L217.12,171.08 L217.20,170.95 L217.28,171.05 L217.36,170.94 L217.44,171.17 L217.52,170.94 L217.60,171.12 L217.68,170.96 L217.76,171.08 L217.84,170.91 L217.92,171.07 L218.00,170.95 L218.08,171.14 L218.16,170.98 L218.24,171.07 L218.32,170.92 L218.40,171.17 L218.48,170.94 L218.56,171.05 L218.64,171.00 L218.72,171.10 L218.80,170.99 L218.88,171.11 L218.96,170.97 L219.04,171.11 L219.12,171.01 L219.20,171.16 L219.28,170.98 L219.36,171.13 L219.44,171.00 L219.52,171.11 L219.60,170.98 L219.68,171.19 L219.76,171.05 L219.84,171.18 L219.92,171.03 L220.00,171.12 L220.08,171.04 L220.16,171.22 L220.24,171.03 L220.32,171.21 L220.40,171.08 L220.48,171.17 L220.56,171.06 L220.64,171.16 L220.72,171.08 L220.80,171.23 L220.88,171.08 L220.96,171.14 L221.04,171.06 L221.12,171.21 L221.20,171.03 L221.28,171.21 L221.36,171.07 L221.44,171.20 L221.52,171.10 L221.60,171.18 L221.68,171.08 L221.76,171.29 L221.84,171.09 L221.92,171.30 L222.00,171.13 L222.08,171.32 L222.16,171.09 L222.24,171.31 L222.32,171.10 L222.40,171.20 L222.48,171.16 L222.56,171.29 L222.64,171.05 L222.72,171.31 L222.80,171.07 L222.88,171.29 L222.96,171.09 L223.04,171.32 L223.12,171.19 L223.20,171.27 L223.28,171.08 L223.36,171.28 L223.44,171.14 L223.52,171.31 L223.60,171.13 L223.68,171.26 L223.76,171.12 L223.84,171.31 L223.92,171.17 L224.00,171.36 L224.08,171.16 L224.16,171.31 L224.24,171.21 L224.32,171.35 L224.40,171.12 L224.48,171.33 L224.56,171.21 L224.64,171.37 L224.72,171.14 L224.80,171.40 L224.88,171.23 L224.96,171.37 L225.04,171.21 L225.12,171.42 L225.20,171.24 L225.28,171.43 L225.36,171.18 L225.44,171.38 L225.52,171.21 L225.60,171.40 L225.68,171.23 L225.76,171.37 L225.84,171.26 L225.92,171.45 L226.00,171.20 L226.08,171.40 L226.16,171.23 L226.24,171.43 L226.32,171.30 L226.40,171.40 L226.48,171.21 L226.56,171.40 L226.64,171.27 L226.72,171.36 L226.80,171.25 L226.88,171.41 L226.96,171.21 L227.04,171.45 L227.12,171.25 L227.20,171.39 L227.28,171.24 L227.36,171.47 L227.44,171.27 L227.52,171.42 L227.60,171.34 L227.68,171.43 L227.76,171.33 L227.84,171.42 L227.92,171.25 L228.00,171.44 L228.08,171.35 L228.16,171.43 L228.24,171.25 L228.32,171.46 L228.40,171.33 L228.48,171.46 L228.56,171.32 L228.64,171.57 L228.72,171.31 L228.80,171.51 L228.88,171.31 L228.96,171.50 L229.04,171.32 L229.12,171.49 L229.20,171.30 L229.28,171.51 L229.36,171.40 L229.44,171.48 L229.52,171.41 L229.60,171.48 L229.68,171.34 L229.76,171.55 L229.84,171.43 L229.92,171.55 L230.00,171.36 L230.08,171.54 L230.16,171.35 L230.24,171.56 L230.32,171.38 L230.40,171.49 L230.48,171.45 L230.56,171.62 L230.64,171.39 L230.72,171.56 L230.80,171.42 L230.88,171.56 L230.96,171.48 L231.04,171.53 L231.12,171.45 L231.20,171.52 L231.28,171.39 L231.36,171.62 L231.44,171.46 L231.52,171.64 L231.60,171.40 L231.68,171.58 L231.76,171.48 L231.84,171.57 L231.92,171.47 L232.00,171.61 L232.08,171.49 L232.16,171.65 L232.24,171.41 L232.32,171.58 L232.40,171.51 L232.48,171.57 L232.56,171.46 L232.64,171.64 L232.72,171.50 L232.80,171.62 L232.88,171.44 L232.96,171.59 L233.04,171.51 L233.12,171.63 L233.20,171.54 L233.28,171.59 L233.36,171.47 L233.44,171.68 L233.52,171.49 L233.60,171.63 L233.68,171.45 L233.76,171.70 L233.84,171.51 L233.92,171.67 L234.00,171.47 L234.08,171.65 L234.16,171.55 L234.24,171.73 L234.32,171.59 L234.40,171.67 L234.48,171.52 L234.56,171.73 L234.64,171.52 L234.72,171.70 L234.80,171.55 L234.88,171.75 L234.96,171.57 L235.04,171.69 L235.12,171.51 L235.20,171.65 L235.28,171.61 L235.36,171.68 L235.44,171.60 L235.52,171.67 L235.60,171.56 L235.68,171.73 L235.76,171.60 L235.84,171.74 L235.92,171.58 L236.00,171.83 L236.08,171.63 L236.16,171.76 L236.24,171.63 L236.32,171.81 L236.40,171.65 L236.48,171.68 L236.56,171.64 L236.64,171.81 L236.72,171.64 L236.80,171.72 L236.88,171.60 L236.96,171.87 L237.04,171.60 L237.12,171.73 L237.20,171.65 L237.28,171.83 L237.36,171.68 L237.44,171.83 L237.52,171.69 L237.60,171.82 L237.68,171.68 L237.76,171.76 L237.84,171.66 L237.92,171.76 L238.00,171.61 L238.08,171.76 L238.16,171.58 L238.24,171.89 L238.32,171.71 L238.40,171.79 L238.48,171.64 L238.56,171.80 L238.64,171.64 L238.72,171.92 L238.80,171.64 L238.88,171.88 L238.96,171.70 L239.04,171.93 L239.12,171.63 L239.20,171.89 L239.28,171.69 L239.36,171.85 L239.44,171.71 L239.52,171.82 L239.60,171.71 L239.68,171.89 L239.76,171.72 L239.84,171.87 L239.92,171.65 L240.00,171.88 L240.08,171.72 L240.16,171.89 L240.24,171.79 L240.32,171.94 L240.40,171.63 L240.48,171.91 L240.56,171.78 L240.64,171.87 L240.72,171.76 L240.80,171.86 L240.88,171.77 L240.96,171.95 L241.04,171.76 L241.12,171.95 L241.20,171.70 L241.28,171.89 L241.36,171.73 L241.44,171.88 L241.52,171.81 L241.60,171.92 L241.68,171.77 L241.76,171.90 L241.84,171.77 L241.92,172.01 L242.00,171.84 L242.08,171.95 L242.16,171.81 L242.24,172.00 L242.32,171.77 L242.40,171.98 L242.48,171.73 L242.56,172.05 L242.64,171.89 L242.72,172.01 L242.80,171.86 L242.88,172.01 L242.96,171.83 L243.04,171.97 L243.12,171.79 L243.20,171.94 L243.28,171.86 L243.36,171.99 L243.44,171.87 L243.52,172.03 L243.60,171.88 L243.68,172.03 L243.76,171.92 L243.84,172.06 L243.92,171.85 L244.00,172.06 L244.08,171.83 L244.16,171.99 L244.24,171.90 L244.32,172.06 L244.40,171.88 L244.48,172.09 L244.56,171.92 L244.64,172.03 L244.72,171.90 L244.80,172.08 L244.88,171.86 L244.96,172.13 L245.04,171.87 L245.12,172.08 L245.20,171.85 L245.28,172.08 L245.36,171.90 L245.44,172.06 L245.52,171.90 L245.60,172.17 L245.68,171.89 L245.76,172.14 L245.84,171.92 L245.92,172.14 L246.00,171.96 L246.08,172.13 L246.16,171.97 L246.24,172.15 L246.32,172.02 L246.40,172.16 L246.48,171.94 L246.56,172.14 L246.64,171.94 L246.72,172.17 L246.80,171.95 L246.88,172.11 L246.96,172.04 L247.04,172.19 L247.12,172.02 L247.20,172.20 L247.28,171.98 L247.36,172.17 L247.44,171.95 L247.52,172.18 L247.60,172.03 L247.68,172.18 L247.76,172.03 L247.84,172.24 L247.92,171.99 L248.00,172.22 L248.08,172.03 L248.16,172.24 L248.24,172.11 L248.32,172.15 L248.40,172.05 L248.48,172.21 L248.56,172.13 L248.64,172.19 L248.72,172.10 L248.80,172.23 L248.88,172.09 L248.96,172.18 L249.04,172.12 L249.12,172.23 L249.20,172.04 L249.28,172.21 L249.36,172.04 L249.44,172.22 L249.52,172.09 L249.60,172.32 L249.68,172.13 L249.76,172.30 L249.84,172.13 L249.92,172.25 L250.00,172.12 L250.08,172.27 L250.16,172.03 L250.24,172.27 L250.32,172.18 L250.40,172.27 L250.48,172.21 L250.56,172.33 L250.64,172.14 L250.72,172.34 L250.80,172.15 L250.88,172.31 L250.96,172.20 L251.04,172.28 L251.12,172.18 L251.20,172.30 L251.28,172.21 L251.36,172.34 L251.44,172.20 L251.52,172.38 L251.60,172.12 L251.68,172.34 L251.76,172.13 L251.84,172.39 L251.92,172.14 L252.00,172.36 L252.08,172.20 L252.16,172.36 L252.24,172.26 L252.32,172.41 L252.40,172.26 L252.48,172.40 L252.56,172.18 L252.64,172.37 L252.72,172.25 L252.80,172.39 L252.88,172.16 L252.96,172.42 L253.04,172.31 L253.12,172.40 L253.20,172.23 L253.28,172.46 L253.36,172.29 L253.44,172.45 L253.52,172.27 L253.60,172.49 L253.68,172.31 L253.76,172.48 L253.84,172.30 L253.92,172.45 L254.00,172.27 L254.08,172.41 L254.16,172.37 L254.24,172.46 L254.32,172.31 L254.40,172.47 L254.48,172.32 L254.56,172.49 L254.64,172.36 L254.72,172.48 L254.80,172.29 L254.88,172.52 L254.96,172.33 L255.04,172.46 L255.12,172.37 L255.20,172.51 L255.28,172.38 L255.36,172.60 L255.44,172.32 L255.52,172.52 L255.60,172.41 L255.68,172.55 L255.76,172.29 L255.84,172.58 L255.92,172.36 L256.00,172.50 L256.08,172.40 L256.16,172.54 L256.24,172.35 L256.32,172.57 L256.40,172.44 L256.48,172.56 L256.56,172.36 L256.64,172.62 L256.72,172.40 L256.80,172.55 L256.88,172.44 L256.96,172.65 L257.04,172.39 L257.12,172.68 L257.20,172.42 L257.28,172.63 L257.36,172.38 L257.44,172.57 L257.52,172.48 L257.60,172.58 L257.68,172.51 L257.76,172.61 L257.84,172.46 L257.92,172.61 L258.00,172.41 L258.08,172.59 L258.16,172.44 L258.24,172.64 L258.32,172.52 L258.40,172.64 L258.48,172.45 L258.56,172.65 L258.64,172.58 L258.72,172.65 L258.80,172.53 L258.88,172.72 L258.96,172.49 L259.04,172.67 L259.12,172.52 L259.20,172.64 L259.28,172.51 L259.36,172.68 L259.44,172.48 L259.52,172.69 L259.60,172.59 L259.68,172.70 L259.76,172.60 L259.84,172.71 L259.92,172.57 L260.00,172.69 L260.08,172.50 L260.16,172.77 L260.24,172.52 L260.32,172.76 L260.40,172.63 L260.48,172.71 L260.56,172.60 L260.64,172.76 L260.72,172.59 L260.80,172.72 L260.88,172.60 L260.96,172.76 L261.04,172.55 L261.12,172.75 L261.20,172.68 L261.28,172.86 L261.36,172.71 L261.44,172.88 L261.52,172.69 L261.60,172.86 L261.68,172.66 L261.76,172.83 L261.84,172.62 L261.92,172.89 L262.00,172.66 L262.08,172.78 L262.16,172.69 L262.24,172.83 L262.32,172.61 L262.40,172.77 L262.48,172.68 L262.56,172.83 L262.64,172.75 L262.72,172.81 L262.80,172.77 L262.88,172.90 L262.96,172.70 L263.04,172.86 L263.12,172.75 L263.20,172.87 L263.28,172.76 L263.36,172.81 L263.44,172.70 L263.52,172.92 L263.60,172.72 L263.68,172.91 L263.76,172.73 L263.84,172.91 L263.92,172.69 L264.00,172.90 L264.08,172.79 L264.16,172.94 L264.24,172.71 L264.32,172.90 L264.40,172.76 L264.48,172.94 L264.56,172.75 L264.64,172.86 L264.72,172.79 L264.80,172.93 L264.88,172.70 L264.96,172.90 L265.04,172.74 L265.12,172.99 L265.20,172.73 L265.28,172.94 L265.36,172.75 L265.44,172.97 L265.52,172.87 L265.60,172.95 L265.68,172.80 L265.76,173.03 L265.84,172.80 L265.92,172.98 L266.00,172.80 L266.08,172.96 L266.16,172.87 L266.24,173.02 L266.32,172.80 L266.40,173.00 L266.48,172.81 L266.56,173.08 L266.64,172.85 L266.72,173.07 L266.80,172.89 L266.88,173.01 L266.96,172.91 L267.04,172.95 L267.12,172.88 L267.20,173.03 L267.28,172.84 L267.36,173.04 L267.44,172.88 L267.52,173.03 L267.60,172.96 L267.68,173.13 L267.76,172.87 L267.84,173.00 L267.92,172.93 L268.00,173.09 L268.08,172.90 L268.16,173.08 L268.24,172.89 L268.32,173.05 L268.40,172.91 L268.48,173.06 L268.56,173.01 L268.64,173.03 L268.72,173.00 L268.80,173.16 L268.88,172.95 L268.96,173.08 L269.04,172.98 L269.12,173.13 L269.20,172.88 L269.28,173.14 L269.36,172.89 L269.44,173.05 L269.52,173.01 L269.60,173.20 L269.68,172.96 L269.76,173.16 L269.84,172.95 L269.92,173.22 L270.00,172.98 L270.08,173.17 L270.16,173.01 L270.24,173.13 L270.32,173.03 L270.40,173.19 L270.48,172.92 L270.56,173.18 L270.64,172.93 L270.72,173.10 L270.80,173.02 L270.88,173.19 L270.96,173.03 L271.04,173.18 L271.12,173.02 L271.20,173.23 L271.28,173.08 L271.36,173.21 L271.44,173.05 L271.52,173.25 L271.60,173.06 L271.68,173.19 L271.76,173.07 L271.84,173.28 L271.92,173.03 L272.00,173.29 L272.08,173.08 L272.16,173.20 L272.24,173.04 L272.32,173.26 L272.40,173.08 L272.48,173.23 L272.56,173.06 L272.64,173.26 L272.72,173.09 L272.80,173.30 L272.88,173.18 L272.96,173.26 L273.04,173.13 L273.12,173.27 L273.20,173.13 L273.28,173.30 L273.36,173.10 L273.44,173.29 L273.52,173.12 L273.60,173.33 L273.68,173.19 L273.76,173.29 L273.84,173.09 L273.92,173.24 L274.00,173.18 L274.08,173.32 L274.16,173.11 L274.24,173.30 L274.32,173.17 L274.40,173.34 L274.48,173.14 L274.56,173.39 L274.64,173.16 L274.72,173.33 L274.80,173.14 L274.88,173.37 L274.96,173.11 L275.04,173.32 L275.12,173.19 L275.20,173.36 L275.28,173.17 L275.36,173.32 L275.44,173.09 L275.52,173.33 L275.60,173.21 L275.68,173.40 L275.76,173.20 L275.84,173.41 L275.92,173.13 L276.00,173.42 L276.08,173.21 L276.16,173.37 L276.24,173.22 L276.32,173.39 L276.40,173.27 L276.48,173.34 L276.56,173.20 L276.64,173.34 L276.72,173.25 L276.80,173.42 L276.88,173.26 L276.96,173.31 L277.04,173.17 L277.12,173.38 L277.20,173.25 L277.28,173.37 L277.36,173.18 L277.44,173.45 L277.52,173.22 L277.60,173.38 L277.68,173.30 L277.76,173.49 L277.84,173.19 L277.92,173.43 L278.00,173.25 L278.08,173.51 L278.16,173.26 L278.24,173.50 L278.32,173.31 L278.40,173.43 L278.48,173.27 L278.56,173.41 L278.64,173.29 L278.72,173.42 L278.80,173.33 L278.88,173.47 L278.96,173.30 L279.04,173.40 L279.12,173.26 L279.20,173.49 L279.28,173.33 L279.36,173.46 L279.44,173.26 L279.52,173.39 L279.60,173.30 L279.68,173.48 L279.76,173.35 L279.84,173.49 L279.92,173.29 L280.00,173.44 L280.08,173.36 L280.16,173.41 L280.24,173.31 L280.32,173.42 L280.40,173.30 L280.48,173.44 L280.56,173.30 L280.64,173.44 L280.72,173.34 L280.80,173.47 L280.88,173.29 L280.96,173.52 L281.04,173.38 L281.12,173.42 L281.20,173.33 L281.28,173.52 L281.36,173.31 L281.44,173.50 L281.52,173.34 L281.60,173.45 L281.68,173.35 L281.76,173.45 L281.84,173.33 L281.92,173.50 L282.00,173.29 L282.08,173.43 L282.16,173.35 L282.24,173.51 L282.32,173.41 L282.40,173.55 L282.48,173.34 L282.56,173.57 L282.64,173.34 L282.72,173.46 L282.80,173.37 L282.88,173.59 L282.96,173.33 L283.04,173.46 L283.12,173.37 L283.20,173.54 L283.28,173.32 L283.36,173.48 L283.44,173.35 L283.52,173.60 L283.60,173.38 L283.68,173.63 L283.76,173.32 L283.84,173.57 L283.92,173.37 L284.00,173.58 L284.08,173.42 L284.16,173.56 L284.24,173.31 L284.32,173.57 L284.40,173.39 L284.48,173.56 L284.56,173.37 L284.64,173.47 L284.72,173.35 L284.80,173.57 L284.88,173.33 L284.96,173.56 L285.04,173.34 L285.12,173.57 L285.20,173.42 L285.28,173.51 L285.36,173.40 L285.44,173.48 L285.52,173.43 L285.60,173.50 L285.68,173.42 L285.76,173.53 L285.84,173.43 L285.92,173.58 L286.00,173.41 L286.08,173.53 L286.16,173.45 L286.24,173.49 L286.32,173.42 L286.40,173.56 L286.48,173.34 L286.56,173.63 L286.64,173.46 L286.72,173.60 L286.80,173.38 L286.88,173.52 L286.96,173.35 L287.04,173.63 L287.12,173.33 L287.20,173.55 L287.28,173.38 L287.36,173.69 L287.44,173.39 L287.52,173.64 L287.60,173.46 L287.68,173.61 L287.76,173.42 L287.84,173.53 L287.92,173.40 L288.00,173.57 L288.08,173.42 L288.16,173.54 L288.24,173.36 L288.32,173.56 L288.40,173.35 L288.48,173.61 L288.56,173.49 L288.64,173.50 L288.72,173.36 L288.80,173.58 L288.88,173.36 L288.96,173.53 L289.04,173.39 L289.12,173.58 L289.20,173.45 L289.28,173.58 L289.36,173.43 L289.44,173.63 L289.52,173.41 L289.60,173.57 L289.68,173.37 L289.76,173.56 L289.84,173.45 L289.92,173.60 L290.00,173.42 L290.08,173.60 L290.16,173.41 L290.24,173.63 L290.32,173.47 L290.40,173.53 L290.48,173.41 L290.56,173.63 L290.64,173.43 L290.72,173.56 L290.80,173.48 L290.88,173.60 L290.96,173.39 L291.04,173.61 L291.12,173.43 L291.20,173.56 L291.28,173.48 L291.36,173.66 L291.44,173.34 L291.52,173.63 L291.60,173.34 L291.68,173.60 L291.76,173.44 L291.84,173.60 L291.92,173.33 L292.00,173.51 L292.08,173.40 L292.16,173.56 L292.24,173.37 L292.32,173.54 L292.40,173.37 L292.48,173.51 L292.56,173.30 L292.64,173.55 L292.72,173.34 L292.80,173.52 L292.88,173.40 L292.96,173.52 L293.04,173.40 L293.12,173.59 L293.20,173.34 L293.28,173.59 L293.36,173.35 L293.44,173.52 L293.52,173.32 L293.60,173.55 L293.68,173.25 L293.76,173.51 L293.84,173.39 L293.92,173.46 L294.00,173.24 L294.08,173.50 L294.16,173.37 L294.24,173.52 L294.32,173.31 L294.40,173.48 L294.48,173.27 L294.56,173.43 L294.64,173.23 L294.72,173.38 L294.80,173.29 L294.88,173.43 L294.96,173.31 L295.04,173.41 L295.12,173.31 L295.20,173.44 L295.28,173.25 L295.36,173.43 L295.44,173.31 L295.52,173.36 L295.60,173.26 L295.68,173.33 L295.76,173.18 L295.84,173.41 L295.92,173.25 L296.00,173.36 L296.08,173.16 L296.16,173.42 L296.24,173.15 L296.32,173.32 L296.40,173.22 L296.48,173.42 L296.56,173.19 L296.64,173.29 L296.72,173.27 L296.80,173.34 L296.88,173.13 L296.96,173.28 L297.04,173.19 L297.12,173.30 L297.20,173.23 L297.28,173.35 L297.36,173.10 L297.44,173.26 L297.52,173.12 L297.60,173.34 L297.68,173.23 L297.76,173.35 L297.84,173.16 L297.92,173.29 L298.00,173.13 L298.08,173.35" fill="none" stroke="#111" stroke-width="0.45" stroke-linejoin="round"/>
<path d="M298.08,173.35 L298.16,173.13 L298.24,173.24 L298.32,173.15 L298.40,173.32 L298.48,173.12 L298.56,173.33 L298.64,173.12 L298.72,173.25 L298.80,173.09 L298.88,173.28 L298.96,173.15 L299.04,173.36 L299.12,173.12 L299.20,173.32 L299.28,173.11 L299.36,173.28 L299.44,173.05 L299.52,173.22 L299.60,173.14 L299.68,173.31 L299.76,173.09 L299.84,173.39 L299.92,173.09 L300.00,173.33 L300.08,173.15 L300.16,173.28 L300.24,173.09 L300.32,173.20 L300.40,173.17 L300.48,173.28 L300.56,173.07 L300.64,173.24 L300.72,173.12 L300.80,173.24 L300.88,173.15 L300.96,173.31 L301.04,173.04 L301.12,173.35 L301.20,173.15 L301.28,173.26 L301.36,173.08 L301.44,173.23 L301.52,173.10 L301.60,173.30 L301.68,173.12 L301.76,173.33 L301.84,173.09 L301.92,173.26 L302.00,173.14 L302.08,173.28 L302.16,173.12 L302.24,173.25 L302.32,173.06 L302.40,173.34 L302.48,173.13 L302.56,173.33 L302.64,173.16 L302.72,173.32 L302.80,173.14 L302.88,173.33 L302.96,173.16 L303.04,173.27 L303.12,173.17 L303.20,173.30 L303.28,173.12 L303.36,173.29 L303.44,173.16 L303.52,173.35 L303.60,173.13 L303.68,173.36 L303.76,173.19 L303.84,173.35 L303.92,173.15 L304.00,173.31 L304.08,173.18 L304.16,173.34 L304.24,173.22 L304.32,173.26 L304.40,173.20 L304.48,173.36 L304.56,173.15 L304.64,173.30 L304.72,173.09 L304.80,173.34 L304.88,173.21 L304.96,173.37 L305.04,173.12 L305.12,173.32 L305.20,173.15 L305.28,173.31 L305.36,173.14 L305.44,173.34 L305.52,173.21 L305.60,173.29 L305.68,173.22 L305.76,173.35 L305.84,173.18 L305.92,173.31 L306.00,173.22 L306.08,173.41 L306.16,173.18 L306.24,173.31 L306.32,173.19 L306.40,173.36 L306.48,173.25 L306.56,173.32 L306.64,173.19 L306.72,173.36 L306.80,173.22 L306.88,173.37 L306.96,173.22 L307.04,173.32 L307.12,173.23 L307.20,173.31 L307.28,173.26 L307.36,173.35 L307.44,173.28 L307.52,173.38 L307.60,173.31 L307.68,173.42 L307.76,173.32 L307.84,173.40 L307.92,173.30 L308.00,173.47 L308.08,173.36 L308.16,173.48 L308.24,173.38 L308.32,173.46 L308.40,173.37 L308.48,173.52 L308.56,173.44 L308.64,173.53 L308.72,173.42 L308.80,173.53 L308.88,173.46 L308.96,173.63 L309.04,173.57 L309.12,173.66 L309.20,173.58 L309.28,173.72 L309.36,173.62 L309.44,173.68 L309.52,173.65 L309.60,173.80 L309.68,173.66 L309.76,173.80 L309.84,173.74 L309.92,173.79 L310.00,173.72 L310.08,173.91 L310.16,173.81 L310.24,173.90 L310.32,173.83 L310.40,173.94 L310.48,173.85 L310.56,173.97 L310.64,173.88 L310.72,174.00 L310.80,173.95 L310.88,174.08 L310.96,174.01 L311.04,174.10 L311.12,174.06 L311.20,174.11 L311.28,174.13 L311.36,174.20 L311.44,174.12 L311.52,174.22 L311.60,174.19 L311.68,174.30 L311.76,174.19 L311.84,174.34 L311.92,174.24 L312.00,174.32 L312.08,174.27 L312.16,174.36 L312.24,174.28 L312.32,174.40 L312.40,174.32 L312.48,174.44 L312.56,174.35 L312.64,174.49 L312.72,174.41 L312.80,174.51 L312.88,174.44 L312.96,174.55 L313.04,174.47 L313.12,174.55 L313.20,174.54 L313.28,174.62 L313.36,174.57 L313.44,174.68 L313.52,174.62 L313.60,174.69 L313.68,174.63 L313.76,174.72 L313.84,174.69 L313.92,174.76 L314.00,174.72 L314.08,174.79 L314.16,174.77 L314.24,174.83 L314.32,174.80 L314.40,174.89 L314.48,174.84 L314.56,174.89 L314.64,174.86 L314.72,174.96 L314.80,174.86 L314.88,175.03 L314.96,174.89 L315.04,175.06 L315.12,174.97 L315.20,175.07 L315.28,175.00 L315.36,175.09 L315.44,175.07 L315.52,175.15 L315.60,175.06 L315.68,175.22 L315.76,175.14 L315.84,175.23 L315.92,175.20 L316.00,175.26 L316.08,175.21 L316.16,175.30 L316.24,175.26 L316.32,175.33 L316.40,175.27 L316.48,175.41 L316.56,175.35 L316.64,175.39 L316.72,175.37 L316.80,175.45 L316.88,175.41 L316.96,175.46 L317.04,175.48 L317.12,175.58 L317.20,175.46 L317.28,175.57 L317.36,175.50 L317.44,175.60 L317.52,175.56 L317.60,175.66 L317.68,175.64 L317.76,175.75 L317.84,175.64 L317.92,175.75 L318.00,175.70 L318.08,175.78 L318.16,175.73 L318.24,175.86 L318.32,175.77 L318.40,175.85 L318.48,175.86 L318.56,175.96 L318.64,175.86 L318.72,175.96 L318.80,175.94 L318.88,176.00 L318.96,175.94 L319.04,176.05 L319.12,175.97 L319.20,176.10 L319.28,176.05 L319.36,176.15 L319.44,176.09 L319.52,176.18 L319.60,176.16 L319.68,176.28 L319.76,176.19 L319.84,176.30 L319.92,176.21 L320.00,176.35 L320.08,176.31 L320.16,176.34 L320.24,176.32 L320.32,176.48 L320.40,176.36 L320.48,176.51 L320.56,176.44 L320.64,176.52 L320.72,176.47 L320.80,176.60 L320.88,176.56 L320.96,176.64 L321.04,176.61 L321.12,176.68 L321.20,176.66 L321.28,176.77 L321.36,176.72 L321.44,176.82 L321.52,176.73 L321.60,176.85 L321.68,176.81 L321.76,176.95 L321.84,176.89 L321.92,176.99 L322.00,176.92 L322.08,177.05 L322.16,176.97 L322.24,177.12 L322.32,177.07 L322.40,177.17 L322.48,177.10 L322.56,177.24 L322.64,177.14 L322.72,177.30 L322.80,177.25 L322.88,177.33 L322.96,177.30 L323.04,177.42 L323.12,177.40 L323.20,177.47 L323.28,177.41 L323.36,177.54 L323.44,177.48 L323.52,177.59 L323.60,177.56 L323.68,177.66 L323.76,177.63 L323.84,177.73 L323.92,177.72 L324.00,177.79 L324.08,177.73 L324.16,177.84 L324.24,177.82 L324.32,177.91 L324.40,177.88 L324.48,178.02 L324.56,177.92 L324.64,178.03 L324.72,178.00 L324.80,178.16 L324.88,178.06 L324.96,178.20 L325.04,178.15 L325.12,178.28 L325.20,178.19 L325.28,178.35 L325.36,178.30 L325.44,178.41 L325.52,178.32 L325.60,178.45 L325.68,178.39 L325.76,178.49 L325.84,178.49 L325.92,178.61 L326.00,178.53 L326.08,178.65 L326.16,178.58 L326.24,178.71 L326.32,178.65 L326.40,178.80 L326.48,178.68 L326.56,178.85 L326.64,178.80 L326.72,178.92 L326.80,178.84 L326.88,178.98 L326.96,178.95 L327.04,179.05 L327.12,178.94 L327.20,179.09 L327.28,179.03 L327.36,179.14 L327.44,179.09 L327.52,179.19 L327.60,179.12 L327.68,179.24 L327.76,179.23 L327.84,179.33 L327.92,179.27 L328.00,179.37 L328.08,179.30 L328.16,179.44 L328.24,179.40 L328.32,179.49 L328.40,179.47 L328.48,179.59 L328.56,179.46 L328.64,179.62 L328.72,179.58 L328.80,179.66 L328.88,179.59 L328.96,179.72 L329.04,179.68 L329.12,179.77 L329.20,179.70 L329.28,179.81 L329.36,179.79 L329.44,179.88 L329.52,179.80 L329.60,179.94 L329.68,179.86 L329.76,179.97 L329.84,179.93 L329.92,179.99 L330.00,179.93 L330.08,180.10 L330.16,180.00 L330.24,180.13 L330.32,180.01 L330.40,180.13 L330.48,180.05 L330.56,180.16 L330.64,180.12 L330.72,180.27 L330.80,180.17 L330.88,180.29 L330.96,180.24 L331.04,180.33 L331.12,180.26 L331.20,180.37 L331.28,180.31 L331.36,180.42 L331.44,180.34 L331.52,180.44 L331.60,180.37 L331.68,180.51 L331.76,180.44 L331.84,180.55 L331.92,180.50 L332.00,180.57 L332.08,180.53 L332.16,180.63 L332.24,180.61 L332.32,180.67 L332.40,180.62 L332.48,180.70 L332.56,180.64 L332.64,180.77 L332.72,180.69 L332.80,180.81 L332.88,180.73 L332.96,180.86 L333.04,180.76 L333.12,180.91 L333.20,180.86 L333.28,180.94 L333.36,180.87 L333.44,180.93 L333.52,180.93 L333.60,181.02 L333.68,180.92 L333.76,181.03 L333.84,181.00 L333.92,181.11 L334.00,181.05 L334.08,181.10 L334.16,181.08 L334.24,181.16 L334.32,181.14 L334.40,181.22 L334.48,181.15 L334.56,181.23 L334.64,181.20 L334.72,181.28 L334.80,181.24 L334.88,181.35 L334.96,181.27 L335.04,181.39 L335.12,181.31 L335.20,181.41 L335.28,181.37 L335.36,181.42 L335.44,181.35 L335.52,181.48 L335.60,181.37 L335.68,181.50 L335.76,181.44 L335.84,181.54 L335.92,181.46 L336.00,181.55 L336.08,181.53 L336.16,181.62 L336.24,181.56 L336.32,181.63 L336.40,181.55 L336.48,181.67 L336.56,181.58 L336.64,181.67 L336.72,181.63 L336.80,181.78 L336.88,181.70 L336.96,181.79 L337.04,181.70 L337.12,181.84 L337.20,181.76 L337.28,181.86 L337.36,181.77 L337.44,181.85 L337.52,181.81 L337.60,181.92 L337.68,181.82 L337.76,181.95 L337.84,181.86 L337.92,181.98 L338.00,181.91 L338.08,182.01 L338.16,181.92 L338.24,182.03 L338.32,181.96 L338.40,182.07 L338.48,182.01 L338.56,182.13 L338.64,182.05 L338.72,182.16 L338.80,182.04 L338.88,182.18 L338.96,182.08 L339.04,182.17 L339.12,182.09 L339.20,182.20 L339.28,182.13 L339.36,182.25 L339.44,182.16 L339.52,182.25 L339.60,182.20 L339.68,182.28 L339.76,182.22 L339.84,182.35 L339.92,182.26 L340.00,182.32 L340.08,182.27 L340.16,182.37 L340.24,182.26 L340.32,182.39 L340.40,182.32 L340.48,182.42 L340.56,182.35 L340.64,182.48 L340.72,182.36 L340.80,182.52 L340.88,182.35 L340.96,182.48 L341.04,182.39 L341.12,182.50 L341.20,182.46 L341.28,182.56 L341.36,182.48 L341.44,182.56 L341.52,182.50 L341.60,182.59 L341.68,182.49 L341.76,182.57 L341.84,182.50 L341.92,182.65 L342.00,182.55 L342.08,182.64 L342.16,182.51 L342.24,182.63 L342.32,182.57 L342.40,182.68 L342.48,182.58 L342.56,182.70 L342.64,182.59 L342.72,182.71 L342.80,182.63 L342.88,182.71 L342.96,182.68 L343.04,182.74 L343.12,182.68 L343.20,182.76 L343.28,182.69 L343.36,182.77 L343.44,182.67 L343.52,182.79 L343.60,182.69 L343.68,182.83 L343.76,182.73 L343.84,182.82 L343.92,182.78 L344.00,182.84 L344.08,182.76 L344.16,182.82 L344.24,182.80 L344.32,182.86 L344.40,182.77 L344.48,182.87 L344.56,182.81 L344.64,182.94 L344.72,182.83 L344.80,182.92 L344.88,182.83 L344.96,182.92 L345.04,182.87 L345.12,182.95 L345.20,182.88 L345.28,182.93 L345.36,182.91 L345.44,183.02 L345.52,182.92 L345.60,183.00 L345.68,182.94 L345.76,183.02 L345.84,182.94 L345.92,183.04 L346.00,182.97 L346.08,183.08 L346.16,183.00 L346.24,183.10 L346.32,183.02 L346.40,183.09 L346.48,183.01 L346.56,183.10 L346.64,183.05 L346.72,183.11 L346.80,183.08 L346.88,183.13 L346.96,183.04 L347.04,183.12 L347.12,183.06 L347.20,183.16 L347.28,183.10 L347.36,183.22 L347.44,183.15 L347.52,183.24 L347.60,183.13 L347.68,183.24 L347.76,183.12 L347.84,183.22 L347.92,183.17 L348.00,183.30 L348.08,183.20 L348.16,183.30 L348.24,183.19 L348.32,183.31 L348.40,183.27 L348.48,183.32 L348.56,183.27 L348.64,183.37 L348.72,183.26 L348.80,183.37 L348.88,183.32 L348.96,183.39 L349.04,183.32 L349.12,183.38 L349.20,183.35 L349.28,183.45 L349.36,183.37 L349.44,183.46 L349.52,183.38 L349.60,183.46 L349.68,183.40 L349.76,183.52 L349.84,183.44 L349.92,183.49 L350.00,183.46 L350.08,183.54 L350.16,183.47 L350.24,183.55 L350.32,183.50 L350.40,183.62 L350.48,183.56 L350.56,183.61 L350.64,183.57 L350.72,183.68 L350.80,183.57 L350.88,183.70 L350.96,183.58 L351.04,183.71 L351.12,183.61 L351.20,183.73 L351.28,183.66 L351.36,183.76 L351.44,183.68 L351.52,183.78 L351.60,183.71 L351.68,183.81 L351.76,183.74 L351.84,183.82 L351.92,183.79 L352.00,183.87 L352.08,183.79 L352.16,183.89 L352.24,183.82 L352.32,183.93 L352.40,183.87 L352.48,183.93 L352.56,183.91 L352.64,183.97 L352.72,183.96 L352.80,184.05 L352.88,183.92 L352.96,184.04 L353.04,183.99 L353.12,184.11 L353.20,184.04 L353.28,184.13 L353.36,184.01 L353.44,184.15 L353.52,184.10 L353.60,184.17 L353.68,184.09 L353.76,184.18 L353.84,184.13 L353.92,184.25 L354.00,184.15 L354.08,184.29 L354.16,184.21 L354.24,184.31 L354.32,184.21 L354.40,184.32 L354.48,184.25 L354.56,184.36 L354.64,184.31 L354.72,184.45 L354.80,184.33 L354.88,184.45 L354.96,184.36 L355.04,184.47 L355.12,184.41 L355.20,184.52 L355.28,184.42 L355.36,184.54 L355.44,184.49 L355.52,184.58 L355.60,184.54 L355.68,184.63 L355.76,184.53 L355.84,184.67 L355.92,184.56 L356.00,184.70 L356.08,184.65 L356.16,184.71 L356.24,184.68 L356.32,184.75 L356.40,184.68 L356.48,184.76 L356.56,184.71 L356.64,184.82 L356.72,184.76 L356.80,184.88 L356.88,184.84 L356.96,184.91 L357.04,184.86 L357.12,184.93 L357.20,184.86 L357.28,185.00 L357.36,184.93 L357.44,185.05 L357.52,184.97 L357.60,185.08 L357.68,185.00 L357.76,185.10 L357.84,185.05 L357.92,185.20 L358.00,185.07 L358.08,185.18 L358.16,185.13 L358.24,185.22 L358.32,185.20 L358.40,185.28 L358.48,185.23 L358.56,185.32 L358.64,185.24 L358.72,185.37 L358.80,185.31 L358.88,185.41 L358.96,185.34 L359.04,185.45 L359.12,185.41 L359.20,185.50 L359.28,185.43 L359.36,185.56 L359.44,185.49 L359.52,185.61 L359.60,185.55 L359.68,185.65 L359.76,185.60 L359.84,185.72 L359.92,185.62 L360.00,185.75 L360.08,185.68 L360.16,185.82 L360.24,185.74 L360.32,185.87 L360.40,185.78 L360.48,185.91 L360.56,185.80 L360.64,185.96 L360.72,185.89 L360.80,185.98 L360.88,185.91 L360.96,186.06 L361.04,185.98 L361.12,186.10 L361.20,186.02 L361.28,186.16 L361.36,186.10 L361.44,186.22 L361.52,186.21 L361.60,186.29 L361.68,186.20 L361.76,186.33 L361.84,186.28 L361.92,186.39 L362.00,186.35 L362.08,186.45 L362.16,186.43 L362.24,186.55 L362.32,186.49 L362.40,186.59 L362.48,186.56 L362.56,186.64 L362.64,186.60 L362.72,186.77 L362.80,186.68 L362.88,186.78 L362.96,186.72 L363.04,186.87 L363.12,186.80 L363.20,186.89 L363.28,186.89 L363.36,186.96 L363.44,186.94 L363.52,187.07 L363.60,187.03 L363.68,187.12 L363.76,187.12 L363.84,187.25 L363.92,187.17 L364.00,187.27 L364.08,187.25 L364.16,187.35 L364.24,187.31 L364.32,187.47 L364.40,187.36 L364.48,187.51 L364.56,187.47 L364.64,187.60 L364.72,187.52 L364.80,187.66 L364.88,187.65 L364.96,187.73 L365.04,187.72 L365.12,187.82 L365.20,187.77 L365.28,187.92 L365.36,187.85 L365.44,187.96 L365.52,187.93 L365.60,188.06 L365.68,188.00 L365.76,188.15 L365.84,188.10 L365.92,188.21 L366.00,188.22 L366.08,188.31 L366.16,188.26 L366.24,188.42 L366.32,188.38 L366.40,188.48 L366.48,188.42 L366.56,188.57 L366.64,188.51 L366.72,188.63 L366.80,188.62 L366.88,188.70 L366.96,188.69 L367.04,188.82 L367.12,188.77 L367.20,188.90 L367.28,188.86 L367.36,188.97 L367.44,188.97 L367.52,189.06 L367.60,189.02 L367.68,189.17 L367.76,189.10 L367.84,189.27 L367.92,189.21 L368.00,189.33 L368.08,189.25 L368.16,189.46 L368.24,189.34 L368.32,189.52 L368.40,189.46 L368.48,189.58 L368.56,189.56 L368.64,189.72 L368.72,189.68 L368.80,189.78 L368.88,189.81 L368.96,189.92 L369.04,189.88 L369.12,190.00 L369.20,189.98 L369.28,190.10 L369.36,190.08 L369.44,190.20 L369.52,190.17 L369.60,190.35 L369.68,190.29 L369.76,190.42 L369.84,190.39 L369.92,190.56 L370.00,190.49 L370.08,190.67 L370.16,190.63 L370.24,190.80 L370.32,190.72 L370.40,190.87 L370.48,190.88 L370.56,190.98 L370.64,191.00 L370.72,191.13 L370.80,191.07 L370.88,191.22 L370.96,191.20 L371.04,191.36 L371.12,191.29 L371.20,191.46 L371.28,191.45 L371.36,191.59 L371.44,191.55 L371.52,191.71 L371.60,191.66 L371.68,191.79 L371.76,191.80 L371.84,191.92 L371.92,191.89 L372.00,192.03 L372.08,192.03 L372.16,192.17 L372.24,192.13 L372.32,192.32 L372.40,192.32 L372.48,192.40 L372.56,192.41 L372.64,192.54 L372.72,192.53 L372.80,192.69 L372.88,192.68 L372.96,192.79 L373.04,192.74 L373.12,192.91 L373.20,192.90 L373.28,193.04 L373.36,193.00 L373.44,193.12 L373.52,193.17 L373.60,193.25 L373.68,193.26 L373.76,193.40 L373.84,193.37 L373.92,193.54 L374.00,193.47 L374.08,193.65 L374.16,193.66 L374.24,193.77 L374.32,193.74 L374.40,193.88 L374.48,193.88 L374.56,193.99 L374.64,193.99 L374.72,194.12 L374.80,194.13 L374.88,194.25 L374.96,194.20 L375.04,194.39 L375.12,194.34 L375.20,194.48 L375.28,194.45 L375.36,194.62 L375.44,194.60 L375.52,194.70 L375.60,194.72 L375.68,194.88 L375.76,194.82 L375.84,194.96 L375.92,194.96 L376.00,195.10 L376.08,195.06 L376.16,195.21 L376.24,195.16 L376.32,195.29 L376.40,195.29 L376.48,195.43 L376.56,195.43 L376.64,195.59 L376.72,195.52 L376.80,195.67 L376.88,195.61 L376.96,195.81 L377.04,195.73 L377.12,195.87 L377.20,195.88 L377.28,196.05 L377.36,196.01 L377.44,196.15 L377.52,196.14 L377.60,196.26 L377.68,196.25 L377.76,196.38 L377.84,196.32 L377.92,196.47 L378.00,196.50 L378.08,196.64 L378.16,196.59 L378.24,196.72 L378.32,196.69 L378.40,196.85 L378.48,196.84 L378.56,197.00 L378.64,196.97 L378.72,197.09 L378.80,197.03 L378.88,197.26 L378.96,197.22 L379.04,197.30 L379.12,197.33 L379.20,197.45 L379.28,197.42 L379.36,197.61 L379.44,197.56 L379.52,197.70 L379.60,197.65 L379.68,197.80 L379.76,197.77 L379.84,197.93 L379.92,197.88 L380.00,198.07 L380.08,198.03 L380.16,198.20 L380.24,198.13 L380.32,198.34 L380.40,198.24 L380.48,198.42 L380.56,198.38 L380.64,198.58 L380.72,198.48 L380.80,198.69 L380.88,198.59 L380.96,198.82 L381.04,198.78 L381.12,198.93 L381.20,198.85 L381.28,199.08 L381.36,198.98 L381.44,199.19 L381.52,199.10 L381.60,199.30 L381.68,199.24 L381.76,199.41 L381.84,199.38 L381.92,199.50 L382.00,199.47 L382.08,199.69 L382.16,199.60 L382.24,199.84 L382.32,199.77 L382.40,199.88 L382.48,199.94 L382.56,200.06 L382.64,199.99 L382.72,200.16 L382.80,200.12 L382.88,200.29 L382.96,200.28 L383.04,200.39 L383.12,200.39 L383.20,200.56 L383.28,200.55 L383.36,200.66 L383.44,200.68 L383.52,200.83 L383.60,200.76 L383.68,200.98 L383.76,200.88 L383.84,201.09 L383.92,201.06 L384.00,201.24 L384.08,201.19 L384.16,201.34 L384.24,201.30 L384.32,201.51 L384.40,201.47 L384.48,201.66 L384.56,201.52 L384.64,201.79 L384.72,201.67 L384.80,201.89 L384.88,201.83 L384.96,202.02 L385.04,201.93 L385.12,202.15 L385.20,202.07 L385.28,202.25 L385.36,202.28 L385.44,202.43 L385.52,202.33 L385.60,202.55 L385.68,202.50 L385.76,202.71 L385.84,202.71 L385.92,202.84 L386.00,202.84 L386.08,203.02 L386.16,202.93 L386.24,203.18 L386.32,203.02 L386.40,203.25 L386.48,203.22 L386.56,203.38 L386.64,203.37 L386.72,203.57 L386.80,203.49 L386.88,203.70 L386.96,203.62 L387.04,203.82 L387.12,203.77 L387.20,203.99 L387.28,203.96 L387.36,204.13 L387.44,204.06 L387.52,204.32 L387.60,204.24 L387.68,204.43 L387.76,204.40 L387.84,204.59 L387.92,204.51 L388.00,204.67 L388.08,204.60 L388.16,204.89 L388.24,204.80 L388.32,205.10 L388.40,204.97 L388.48,205.22 L388.56,205.12 L388.64,205.31 L388.72,205.26 L388.80,205.53 L388.88,205.36 L388.96,205.59 L389.04,205.49 L389.12,205.74 L389.20,205.71 L389.28,205.89 L389.36,205.84 L389.44,206.11 L389.52,206.05 L389.60,206.24 L389.68,206.17 L389.76,206.40 L389.84,206.36 L389.92,206.57 L390.00,206.45 L390.08,206.69 L390.16,206.59 L390.24,206.83 L390.32,206.73 L390.40,206.96 L390.48,206.94 L390.56,207.12 L390.64,207.07 L390.72,207.34 L390.80,207.23 L390.88,207.45 L390.96,207.36 L391.04,207.65 L391.12,207.57 L391.20,207.74 L391.28,207.75 L391.36,207.99 L391.44,207.82 L391.52,208.19 L391.60,208.06 L391.68,208.26 L391.76,208.16 L391.84,208.44 L391.92,208.39 L392.00,208.53" fill="none" stroke="#000" stroke-width="0.8" stroke-linejoin="round"/>
<path d="M392.00,208.65 L392.93,209.30 L393.72,210.75 L394.77,211.31 L395.83,213.50 L396.87,214.15 L397.69,215.82 L398.53,216.16 L399.31,218.41 L400.24,218.83 L401.10,221.07 L402.21,222.14 L403.13,224.98 L404.01,224.92 L405.08,229.04 L406.11,229.00 L407.06,231.46 L408.19,230.83 L409.24,233.67 L410.21,232.37 L411.31,234.80 L412.43,233.15 L413.60,236.42 L414.67,234.71 L415.76,237.65 L416.77,235.85 L417.93,238.32 L419.06,237.48 L419.97,241.31 L421.21,240.17 L422.45,244.43 L423.63,243.80 L424.75,248.17 L425.78,245.53 L426.76,250.55 L427.86,248.51 L428.83,254.30 L430.08,252.08 L431.22,259.10 L432.15,256.97 L432.85,264.94 L433.34,259.11 L433.84,275.29 L434.43,264.18 L434.97,272.10 L435.52,264.29 L435.95,273.72 L436.54,265.84 L437.02,276.89 L437.48,261.93 L437.95,275.98 L438.46,265.98 L438.97,277.65 L439.44,265.42 L439.90,276.37 L440.33,267.78 L440.89,277.63 L441.38,267.70 L441.96,276.04 L442.40,269.08 L442.95,275.88 L443.48,270.27 L443.90,277.05 L444.36,269.83 L444.85,275.93 L445.38,270.07 L445.90,275.64 L446.35,268.67 L446.83,273.25 L447.33,265.62 L447.88,271.87 L448.48,264.20 L448.95,269.58 L449.46,262.14 L450.03,268.46 L450.50,261.94 L451.05,266.85 L451.54,262.72 L452.07,268.03 L452.62,259.89 L453.16,271.65 L453.70,261.64 L454.14,274.84 L454.54,263.25 L455.07,274.95 L455.49,261.94 L456.07,276.58 L456.64,260.81 L457.08,274.54 L457.55,264.46 L458.06,274.38 L458.51,260.08 L459.05,271.54 L459.59,258.50 L460.12,274.45 L460.50,257.32" fill="none" stroke="#000" stroke-width="1.25" stroke-linejoin="round"/>
<path d="M72.00,165.00 L72.50,165.02 L73.00,165.04 L73.50,165.07 L74.00,165.09 L74.50,165.11 L75.00,165.13 L75.50,165.15 L76.00,165.18 L76.50,165.20 L77.00,165.22 L77.50,165.24 L78.00,165.26 L78.50,165.28 L79.00,165.31 L79.50,165.33 L80.00,165.35 L80.50,165.37 L81.00,165.39 L81.50,165.42 L82.00,165.44 L82.50,165.46 L83.00,165.48 L83.50,165.50 L84.00,165.52 L84.50,165.55 L85.00,165.57 L85.50,165.59 L86.00,165.61 L86.50,165.63 L87.00,165.65 L87.50,165.68 L88.00,165.70 L88.50,165.72 L89.00,165.74 L89.50,165.76 L90.00,165.78 L90.50,165.81 L91.00,165.83 L91.50,165.85 L92.00,165.87 L92.50,165.89 L93.00,165.91 L93.50,165.94 L94.00,165.96 L94.50,165.98 L95.00,166.00 L95.50,166.02 L96.00,166.04 L96.50,166.07 L97.00,166.09 L97.50,166.11 L98.00,166.13 L98.50,166.15 L99.00,166.17 L99.50,166.20 L100.00,166.22 L100.50,166.24 L101.00,166.26 L101.50,166.28 L102.00,166.30 L102.50,166.33 L103.00,166.35 L103.50,166.37 L104.00,166.39 L104.50,166.41 L105.00,166.43 L105.50,166.45 L106.00,166.48 L106.50,166.50 L107.00,166.52 L107.50,166.54 L108.00,166.56 L108.50,166.58 L109.00,166.60 L109.50,166.63 L110.00,166.65 L110.50,166.67 L111.00,166.69 L111.50,166.71 L112.00,166.73 L112.50,166.75 L113.00,166.78 L113.50,166.80 L114.00,166.82 L114.50,166.84 L115.00,166.86 L115.50,166.88 L116.00,166.90 L116.50,166.93 L117.00,166.95 L117.50,166.97 L118.00,166.99 L118.50,167.01 L119.00,167.03 L119.50,167.05 L120.00,167.07 L120.50,167.10 L121.00,167.12 L121.50,167.14 L122.00,167.16 L122.50,167.18 L123.00,167.20 L123.50,167.22 L124.00,167.25 L124.50,167.27 L125.00,167.29 L125.50,167.31 L126.00,167.33 L126.50,167.35 L127.00,167.37 L127.50,167.39 L128.00,167.42 L128.50,167.44 L129.00,167.46 L129.50,167.48 L130.00,167.50 L130.50,167.52 L131.00,167.54 L131.50,167.56 L132.00,167.58 L132.50,167.61 L133.00,167.63 L133.50,167.65 L134.00,167.67 L134.50,167.69 L135.00,167.71 L135.50,167.73 L136.00,167.76 L136.50,167.78 L137.00,167.80 L137.50,167.82 L138.00,167.84 L138.50,167.86 L139.00,167.88 L139.50,167.90 L140.00,167.93 L140.50,167.95 L141.00,167.97 L141.50,167.99 L142.00,168.01 L142.50,168.03 L143.00,168.05 L143.50,168.08 L144.00,168.10 L144.50,168.12 L145.00,168.14 L145.50,168.16 L146.00,168.18 L146.50,168.20 L147.00,168.23 L147.50,168.25 L148.00,168.27 L148.50,168.29 L149.00,168.31 L149.50,168.33 L150.00,168.35 L150.50,168.37 L151.00,168.40 L151.50,168.42 L152.00,168.44 L152.50,168.46 L153.00,168.48 L153.50,168.50 L154.00,168.52 L154.50,168.55 L155.00,168.57 L155.50,168.59 L156.00,168.61 L156.50,168.63 L157.00,168.65 L157.50,168.67 L158.00,168.69 L158.50,168.72 L159.00,168.74 L159.50,168.76 L160.00,168.78 L160.50,168.80 L161.00,168.82 L161.50,168.84 L162.00,168.86 L162.50,168.88 L163.00,168.91 L163.50,168.93 L164.00,168.95 L164.50,168.97 L165.00,168.99 L165.50,169.01 L166.00,169.03 L166.50,169.05 L167.00,169.07 L167.50,169.09 L168.00,169.11 L168.50,169.14 L169.00,169.16 L169.50,169.18 L170.00,169.20 L170.50,169.22 L171.00,169.24 L171.50,169.26 L172.00,169.28 L172.50,169.30 L173.00,169.32 L173.50,169.34 L174.00,169.36 L174.50,169.38 L175.00,169.40 L175.50,169.42 L176.00,169.44 L176.50,169.46 L177.00,169.48 L177.50,169.51 L178.00,169.53 L178.50,169.55 L179.00,169.57 L179.50,169.59 L180.00,169.61 L180.50,169.63 L181.00,169.65 L181.50,169.67 L182.00,169.69 L182.50,169.71 L183.00,169.73 L183.50,169.75 L184.00,169.77 L184.50,169.79 L185.00,169.81 L185.50,169.82 L186.00,169.84 L186.50,169.86 L187.00,169.88 L187.50,169.90 L188.00,169.92 L188.50,169.94 L189.00,169.96 L189.50,169.98 L190.00,170.00 L190.50,170.02 L191.00,170.04 L191.50,170.06 L192.00,170.08 L192.50,170.10 L193.00,170.11 L193.50,170.13 L194.00,170.15 L194.50,170.17 L195.00,170.19 L195.50,170.21 L196.00,170.23 L196.50,170.25 L197.00,170.27 L197.50,170.28 L198.00,170.30 L198.50,170.32 L199.00,170.34 L199.50,170.36 L200.00,170.38 L200.50,170.40 L201.00,170.41 L201.50,170.43 L202.00,170.45 L202.50,170.47 L203.00,170.49 L203.50,170.51 L204.00,170.53 L204.50,170.54 L205.00,170.56 L205.50,170.58 L206.00,170.60 L206.50,170.62 L207.00,170.63 L207.50,170.65 L208.00,170.67 L208.50,170.69 L209.00,170.71 L209.50,170.73 L210.00,170.74 L210.50,170.76 L211.00,170.78 L211.50,170.80 L212.00,170.82 L212.50,170.83 L213.00,170.85 L213.50,170.87 L214.00,170.89 L214.50,170.90 L215.00,170.92 L215.50,170.94 L216.00,170.96 L216.50,170.98 L217.00,170.99 L217.50,171.01 L218.00,171.03 L218.50,171.05 L219.00,171.06 L219.50,171.08 L220.00,171.10 L220.50,171.12 L221.00,171.13 L221.50,171.15 L222.00,171.17 L222.50,171.19 L223.00,171.21 L223.50,171.22 L224.00,171.24 L224.50,171.26 L225.00,171.28 L225.50,171.29 L226.00,171.31 L226.50,171.33 L227.00,171.35 L227.50,171.36 L228.00,171.38 L228.50,171.40 L229.00,171.42 L229.50,171.43 L230.00,171.45 L230.50,171.47 L231.00,171.49 L231.50,171.50 L232.00,171.52 L232.50,171.54 L233.00,171.56 L233.50,171.57 L234.00,171.59 L234.50,171.61 L235.00,171.63 L235.50,171.64 L236.00,171.66 L236.50,171.68 L237.00,171.70 L237.50,171.71 L238.00,171.73 L238.50,171.75 L239.00,171.77 L239.50,171.78 L240.00,171.80 L240.50,171.82 L241.00,171.83 L241.50,171.85 L242.00,171.87 L242.50,171.89 L243.00,171.90 L243.50,171.92 L244.00,171.94 L244.50,171.96 L245.00,171.97 L245.50,171.99 L246.00,172.01 L246.50,172.02 L247.00,172.04 L247.50,172.06 L248.00,172.07 L248.50,172.09 L249.00,172.11 L249.50,172.12 L250.00,172.14 L250.50,172.16 L251.00,172.17 L251.50,172.19 L252.00,172.21 L252.50,172.22 L253.00,172.24 L253.50,172.25 L254.00,172.27 L254.50,172.29 L255.00,172.30 L255.50,172.32 L256.00,172.34 L256.50,172.35 L257.00,172.37 L257.50,172.39 L258.00,172.40 L258.50,172.42 L259.00,172.43 L259.50,172.45 L260.00,172.47 L260.50,172.48 L261.00,172.50 L261.50,172.52 L262.00,172.53 L262.50,172.55 L263.00,172.56 L263.50,172.58 L264.00,172.60 L264.50,172.61 L265.00,172.63 L265.50,172.65 L266.00,172.66 L266.50,172.68 L267.00,172.70 L267.50,172.71 L268.00,172.73 L268.50,172.74 L269.00,172.76 L269.50,172.78 L270.00,172.79 L270.50,172.81 L271.00,172.83 L271.50,172.84 L272.00,172.86 L272.50,172.88 L273.00,172.89 L273.50,172.91 L274.00,172.93 L274.50,172.95 L275.00,172.96 L275.50,172.98 L276.00,173.00 L276.50,173.01 L277.00,173.03 L277.50,173.05 L278.00,173.07 L278.50,173.08 L279.00,173.10 L279.50,173.12 L280.00,173.13 L280.50,173.15 L281.00,173.17 L281.50,173.19 L282.00,173.21 L282.50,173.22 L283.00,173.24 L283.50,173.26 L284.00,173.28 L284.50,173.30 L285.00,173.31 L285.50,173.33 L286.00,173.35 L286.50,173.37 L287.00,173.39 L287.50,173.41 L288.00,173.42 L288.50,173.44 L289.00,173.46 L289.50,173.48 L290.00,173.50 L290.50,173.52 L291.00,173.54 L291.50,173.56 L292.00,173.58 L292.50,173.60 L293.00,173.62 L293.50,173.64 L294.00,173.66 L294.50,173.68 L295.00,173.70 L295.50,173.72 L296.00,173.74 L296.50,173.76 L297.00,173.78 L297.50,173.80 L298.00,173.82 L298.50,173.84 L299.00,173.87 L299.50,173.89 L300.00,173.91" fill="none" stroke="#ff2020" stroke-width="0.75" stroke-dasharray="7 3.8"/>
<path d="M304.00,174.08 L304.50,174.10 L305.00,174.13 L305.50,174.15 L306.00,174.17 L306.50,174.19 L307.00,174.21 L307.50,174.24 L308.00,174.26 L308.50,174.28 L309.00,174.30 L309.50,174.33 L310.00,174.35 L310.50,174.37 L311.00,174.39 L311.50,174.41 L312.00,174.44 L312.50,174.46 L313.00,174.48 L313.50,174.50 L314.00,174.53 L314.50,174.55 L315.00,174.57 L315.50,174.59 L316.00,174.61 L316.50,174.64 L317.00,174.66 L317.50,174.68 L318.00,174.70 L318.50,174.72 L319.00,174.75 L319.50,174.77 L320.00,174.79 L320.50,174.81 L321.00,174.83 L321.50,174.85 L322.00,174.87 L322.50,174.90 L323.00,174.92 L323.50,174.94 L324.00,174.96 L324.50,174.98 L325.00,175.00 L325.50,175.02 L326.00,175.04 L326.50,175.06 L327.00,175.08 L327.50,175.10 L328.00,175.12 L328.50,175.14 L329.00,175.16 L329.50,175.18 L330.00,175.20 L330.50,175.22 L331.00,175.24 L331.50,175.26 L332.00,175.28 L332.50,175.30 L333.00,175.32 L333.50,175.33 L334.00,175.35 L334.50,175.37 L335.00,175.39 L335.50,175.41 L336.00,175.43 L336.50,175.45 L337.00,175.47 L337.50,175.49 L338.00,175.51 L338.50,175.53 L339.00,175.55 L339.50,175.56 L340.00,175.58 L340.50,175.60 L341.00,175.62 L341.50,175.64 L342.00,175.66 L342.50,175.68 L343.00,175.70 L343.50,175.72 L344.00,175.74 L344.50,175.76 L345.00,175.78 L345.50,175.81 L346.00,175.83 L346.50,175.85 L347.00,175.87 L347.50,175.89 L348.00,175.91 L348.50,175.93 L349.00,175.96 L349.50,175.98 L350.00,176.00 L350.50,176.02 L351.00,176.05 L351.50,176.07 L352.00,176.09 L352.50,176.12 L353.00,176.14 L353.50,176.17 L354.00,176.19 L354.50,176.22 L355.00,176.24 L355.50,176.27 L356.00,176.29 L356.50,176.32 L357.00,176.35 L357.50,176.37 L358.00,176.40 L358.50,176.43 L359.00,176.45 L359.50,176.48 L360.00,176.51 L360.50,176.53 L361.00,176.56 L361.50,176.59 L362.00,176.61 L362.50,176.64 L363.00,176.67 L363.50,176.70 L364.00,176.72 L364.50,176.75 L365.00,176.78 L365.50,176.81 L366.00,176.83 L366.50,176.86 L367.00,176.89 L367.50,176.92 L368.00,176.94 L368.50,176.97 L369.00,177.00 L369.50,177.02 L370.00,177.05 L370.50,177.07 L371.00,177.10 L371.50,177.13 L372.00,177.15 L372.50,177.18 L373.00,177.20 L373.50,177.23 L374.00,177.25 L374.50,177.28 L375.00,177.30 L375.50,177.32 L376.00,177.35 L376.50,177.37 L377.00,177.39 L377.50,177.42 L378.00,177.44 L378.50,177.46 L379.00,177.48 L379.50,177.51 L380.00,177.53 L380.50,177.55 L381.00,177.57 L381.50,177.60 L382.00,177.62 L382.50,177.64 L383.00,177.66" fill="none" stroke="#ff2020" stroke-width="0.75" stroke-dasharray="11 4"/>
<path d="M386.00,177.79 L386.50,177.81 L387.00,177.83 L387.50,177.85 L388.00,177.87 L388.50,177.89 L389.00,177.91 L389.50,177.94 L390.00,177.96 L390.50,177.98 L391.00,178.00 L391.50,178.02 L392.00,178.04 L392.50,178.06 L393.00,178.09 L393.50,178.11 L394.00,178.13 L394.50,178.15 L395.00,178.17 L395.50,178.19 L396.00,178.22 L396.50,178.24 L397.00,178.26 L397.50,178.28 L398.00,178.31 L398.50,178.33 L399.00,178.35 L399.50,178.38 L400.00,178.40 L400.50,178.42 L401.00,178.45 L401.50,178.48 L402.00,178.50 L402.50,178.53 L403.00,178.56 L403.50,178.58 L404.00,178.61 L404.50,178.64 L405.00,178.67 L405.50,178.70 L406.00,178.72 L406.50,178.75 L407.00,178.77 L407.50,178.80 L408.00,178.82 L408.50,178.84 L409.00,178.86 L409.50,178.88 L410.00,178.90 L410.50,178.92 L411.00,178.93 L411.50,178.95 L412.00,178.97 L412.50,178.99 L413.00,179.00 L413.50,179.02 L414.00,179.03 L414.50,179.05 L415.00,179.06 L415.50,179.07 L416.00,179.08 L416.50,179.09 L417.00,179.10 L417.50,179.10 L418.00,179.10 L418.50,179.10 L419.00,179.09 L419.50,179.08 L420.00,179.06 L420.50,179.04 L421.00,179.02 L421.50,179.00 L422.00,178.97 L422.50,178.94 L423.00,178.91 L423.50,178.88 L424.00,178.84 L424.50,178.81 L425.00,178.77 L425.50,178.74 L426.00,178.70 L426.50,178.66 L427.00,178.62 L427.50,178.57 L428.00,178.51 L428.50,178.46 L429.00,178.40 L429.50,178.33 L430.00,178.27 L430.50,178.20 L431.00,178.14 L431.50,178.08 L432.00,178.01 L432.50,177.96 L433.00,177.90 L433.50,177.85 L434.00,177.79 L434.50,177.74 L435.00,177.68 L435.50,177.63 L436.00,177.58 L436.50,177.52 L437.00,177.47 L437.50,177.42 L438.00,177.36 L438.50,177.31 L439.00,177.26 L439.50,177.21 L440.00,177.16 L440.50,177.10 L441.00,177.05 L441.50,177.00 L442.00,176.95 L442.50,176.90 L443.00,176.85 L443.50,176.81 L444.00,176.76 L444.50,176.71 L445.00,176.66 L445.50,176.62 L446.00,176.57 L446.50,176.53 L447.00,176.48 L447.50,176.44 L448.00,176.40 L448.50,176.36 L449.00,176.32 L449.50,176.28 L450.00,176.24 L450.50,176.20 L451.00,176.16 L451.50,176.12 L452.00,176.08 L452.50,176.04 L453.00,176.00 L453.50,175.97 L454.00,175.93 L454.50,175.89 L455.00,175.86 L455.50,175.82 L456.00,175.79 L456.50,175.75 L457.00,175.72 L457.50,175.69 L458.00,175.66 L458.50,175.62 L459.00,175.59 L459.50,175.56 L460.00,175.53 L460.50,175.50" fill="none" stroke="#ff2020" stroke-width="0.75" stroke-dasharray="7 3"/>
<path d="M60.00,237.86 L60.50,237.87 L61.00,237.88 L61.50,237.89 L62.00,237.90 L62.50,237.91 L63.00,237.92 L63.50,237.94 L64.00,237.95 L64.50,237.96 L65.00,237.98 L65.50,237.99 L66.00,238.01 L66.50,238.02 L67.00,238.04 L67.50,238.06 L68.00,238.07 L68.50,238.09 L69.00,238.10 L69.50,238.12 L70.00,238.14 L70.50,238.15 L71.00,238.17 L71.50,238.18 L72.00,238.20 L72.50,238.22 L73.00,238.23 L73.50,238.25 L74.00,238.26 L74.50,238.28 L75.00,238.30 L75.50,238.31 L76.00,238.33 L76.50,238.34 L77.00,238.36 L77.50,238.38 L78.00,238.39 L78.50,238.41 L79.00,238.42 L79.50,238.44 L80.00,238.46 L80.50,238.47 L81.00,238.49 L81.50,238.50 L82.00,238.52 L82.50,238.54 L83.00,238.55 L83.50,238.57 L84.00,238.58 L84.50,238.60 L85.00,238.62 L85.50,238.63 L86.00,238.65 L86.50,238.66 L87.00,238.68 L87.50,238.70 L88.00,238.71 L88.50,238.73 L89.00,238.74 L89.50,238.76 L90.00,238.78 L90.50,238.79 L91.00,238.81 L91.50,238.82 L92.00,238.84 L92.50,238.86 L93.00,238.87 L93.50,238.89 L94.00,238.91 L94.50,238.92 L95.00,238.94 L95.50,238.95 L96.00,238.97 L96.50,238.99 L97.00,239.00 L97.50,239.02 L98.00,239.04 L98.50,239.05 L99.00,239.07 L99.50,239.08 L100.00,239.10 L100.50,239.12 L101.00,239.13 L101.50,239.15 L102.00,239.17 L102.50,239.18 L103.00,239.20 L103.50,239.21 L104.00,239.23 L104.50,239.25 L105.00,239.26 L105.50,239.28 L106.00,239.30 L106.50,239.31 L107.00,239.33 L107.50,239.35 L108.00,239.36 L108.50,239.38 L109.00,239.40 L109.50,239.41 L110.00,239.43 L110.50,239.45 L111.00,239.46 L111.50,239.48 L112.00,239.50 L112.50,239.51 L113.00,239.53 L113.50,239.54 L114.00,239.56 L114.50,239.58 L115.00,239.59 L115.50,239.61 L116.00,239.63 L116.50,239.64 L117.00,239.66 L117.50,239.68 L118.00,239.69 L118.50,239.71 L119.00,239.73 L119.50,239.75 L120.00,239.76 L120.50,239.78 L121.00,239.80 L121.50,239.81 L122.00,239.83 L122.50,239.85 L123.00,239.86 L123.50,239.88 L124.00,239.90 L124.50,239.91 L125.00,239.93 L125.50,239.95 L126.00,239.96 L126.50,239.98 L127.00,240.00 L127.50,240.02 L128.00,240.03 L128.50,240.05 L129.00,240.07 L129.50,240.08 L130.00,240.10 L130.50,240.12 L131.00,240.14 L131.50,240.15 L132.00,240.17 L132.50,240.19 L133.00,240.21 L133.50,240.23 L134.00,240.24 L134.50,240.26 L135.00,240.28 L135.50,240.30 L136.00,240.32 L136.50,240.33 L137.00,240.35 L137.50,240.37 L138.00,240.39 L138.50,240.41 L139.00,240.42 L139.50,240.44 L140.00,240.46 L140.50,240.48 L141.00,240.50 L141.50,240.51 L142.00,240.53 L142.50,240.55 L143.00,240.57 L143.50,240.58 L144.00,240.60 L144.50,240.62 L145.00,240.64 L145.50,240.65 L146.00,240.67 L146.50,240.69 L147.00,240.70 L147.50,240.72 L148.00,240.74 L148.50,240.75 L149.00,240.77 L149.50,240.78 L150.00,240.80 L150.50,240.82 L151.00,240.83 L151.50,240.85 L152.00,240.87 L152.50,240.88 L153.00,240.90 L153.50,240.92 L154.00,240.93 L154.50,240.95 L155.00,240.96 L155.50,240.98 L156.00,241.00 L156.50,241.01 L157.00,241.03 L157.50,241.04 L158.00,241.05 L158.50,241.07 L159.00,241.08 L159.50,241.09 L160.00,241.10 L160.50,241.11 L161.00,241.12 L161.50,241.13 L162.00,241.13 L162.50,241.13 L163.00,241.13 L163.50,241.13 L164.00,241.13 L164.50,241.12 L165.00,241.11 L165.50,241.09 L166.00,241.08 L166.50,241.05 L167.00,241.03 L167.50,241.00 L168.00,240.97 L168.50,240.93 L169.00,240.89 L169.50,240.84 L170.00,240.79 L170.50,240.74 L171.00,240.68 L171.50,240.62 L172.00,240.56 L172.50,240.49 L173.00,240.42 L173.50,240.35 L174.00,240.27 L174.50,240.20 L175.00,240.12 L175.50,240.03 L176.00,239.94 L176.50,239.85 L177.00,239.76 L177.50,239.67 L178.00,239.57 L178.50,239.46 L179.00,239.36 L179.50,239.25 L180.00,239.14 L180.50,239.02 L181.00,238.90 L181.50,238.78 L182.00,238.66 L182.50,238.53 L183.00,238.40 L183.50,238.27 L184.00,238.13 L184.50,237.99 L185.00,237.85 L185.50,237.70 L186.00,237.55 L186.50,237.40 L187.00,237.24 L187.50,237.09 L188.00,236.92 L188.50,236.76 L189.00,236.59 L189.50,236.41 L190.00,236.23 L190.50,236.05 L191.00,235.87 L191.50,235.68 L192.00,235.48 L192.50,235.28 L193.00,235.08 L193.50,234.87 L194.00,234.66 L194.50,234.45 L195.00,234.23 L195.50,234.01 L196.00,233.78 L196.50,233.55 L197.00,233.32 L197.50,233.08 L198.00,232.85 L198.50,232.61 L199.00,232.37 L199.50,232.13 L200.00,231.89 L200.50,231.64 L201.00,231.40 L201.50,231.15 L202.00,230.91 L202.50,230.66 L203.00,230.41 L203.50,230.16 L204.00,229.91 L204.50,229.66 L205.00,229.41 L205.50,229.16 L206.00,228.91 L206.50,228.66 L207.00,228.40 L207.50,228.15 L208.00,227.89 L208.50,227.63 L209.00,227.37 L209.50,227.11 L210.00,226.85 L210.50,226.59 L211.00,226.32 L211.50,226.06 L212.00,225.79 L212.50,225.52 L213.00,225.26 L213.50,224.99 L214.00,224.72 L214.50,224.45 L215.00,224.18 L215.50,223.91 L216.00,223.64 L216.50,223.37 L217.00,223.10 L217.50,222.83 L218.00,222.56 L218.50,222.28 L219.00,222.01 L219.50,221.74 L220.00,221.47 L220.50,221.21 L221.00,220.94 L221.50,220.67 L222.00,220.40 L222.50,220.13 L223.00,219.86 L223.50,219.59 L224.00,219.32 L224.50,219.05 L225.00,218.78 L225.50,218.52 L226.00,218.25 L226.50,217.98 L227.00,217.71 L227.50,217.44 L228.00,217.17 L228.50,216.90 L229.00,216.63 L229.50,216.36 L230.00,216.09 L230.50,215.82 L231.00,215.55 L231.50,215.28 L232.00,215.01 L232.50,214.74 L233.00,214.47 L233.50,214.19 L234.00,213.92 L234.50,213.65 L235.00,213.38 L235.50,213.12 L236.00,212.85 L236.50,212.58 L237.00,212.31 L237.50,212.05 L238.00,211.78 L238.50,211.52 L239.00,211.25 L239.50,210.99 L240.00,210.73 L240.50,210.47 L241.00,210.22 L241.50,209.96 L242.00,209.70 L242.50,209.45 L243.00,209.19 L243.50,208.94 L244.00,208.69 L244.50,208.44 L245.00,208.19 L245.50,207.94 L246.00,207.69 L246.50,207.44 L247.00,207.19 L247.50,206.94 L248.00,206.70 L248.50,206.45 L249.00,206.21 L249.50,205.96 L250.00,205.72 L250.50,205.48 L251.00,205.23 L251.50,204.99 L252.00,204.75 L252.50,204.51 L253.00,204.27 L253.50,204.03 L254.00,203.79 L254.50,203.55 L255.00,203.31 L255.50,203.07 L256.00,202.83 L256.50,202.60 L257.00,202.36 L257.50,202.12 L258.00,201.89 L258.50,201.65 L259.00,201.41 L259.50,201.18 L260.00,200.94 L260.50,200.71 L261.00,200.47 L261.50,200.24 L262.00,200.00 L262.50,199.77 L263.00,199.54 L263.50,199.30 L264.00,199.07 L264.50,198.84 L265.00,198.60 L265.50,198.37 L266.00,198.14 L266.50,197.90 L267.00,197.67 L267.50,197.44 L268.00,197.21 L268.50,196.98 L269.00,196.74 L269.50,196.51 L270.00,196.28 L270.50,196.05 L271.00,195.82 L271.50,195.59 L272.00,195.36 L272.50,195.13 L273.00,194.90 L273.50,194.67 L274.00,194.44 L274.50,194.21 L275.00,193.98 L275.50,193.75 L276.00,193.52 L276.50,193.30 L277.00,193.07 L277.50,192.84 L278.00,192.62 L278.50,192.39 L279.00,192.17 L279.50,191.95 L280.00,191.72 L280.50,191.50 L281.00,191.28 L281.50,191.06 L282.00,190.84 L282.50,190.62 L283.00,190.40 L283.50,190.18 L284.00,189.96 L284.50,189.75 L285.00,189.53 L285.50,189.32 L286.00,189.10 L286.50,188.89 L287.00,188.68 L287.50,188.47 L288.00,188.26 L288.50,188.05 L289.00,187.84 L289.50,187.63 L290.00,187.43 L290.50,187.22 L291.00,187.02 L291.50,186.82 L292.00,186.61 L292.50,186.41 L293.00,186.21 L293.50,186.02 L294.00,185.82 L294.50,185.62 L295.00,185.42 L295.50,185.23 L296.00,185.04 L296.50,184.84 L297.00,184.65 L297.50,184.46 L298.00,184.27 L298.50,184.07 L299.00,183.88 L299.50,183.69 L300.00,183.50 L300.50,183.32 L301.00,183.13 L301.50,182.94 L302.00,182.75 L302.50,182.56 L303.00,182.37 L303.50,182.19 L304.00,182.00 L304.50,181.81 L305.00,181.62 L305.50,181.44 L306.00,181.25 L306.50,181.06 L307.00,180.88 L307.50,180.69 L308.00,180.50 L308.50,180.32 L309.00,180.13 L309.50,179.94 L310.00,179.76 L310.50,179.57 L311.00,179.38 L311.50,179.20 L312.00,179.01 L312.50,178.83 L313.00,178.64 L313.50,178.46 L314.00,178.27 L314.50,178.09 L315.00,177.90 L315.50,177.72 L316.00,177.53 L316.50,177.35 L317.00,177.17 L317.50,176.98 L318.00,176.80 L318.50,176.61 L319.00,176.43 L319.50,176.24 L320.00,176.06 L320.50,175.87 L321.00,175.69 L321.50,175.50 L322.00,175.31 L322.50,175.13 L323.00,174.94 L323.50,174.75 L324.00,174.57 L324.50,174.38 L325.00,174.19 L325.50,174.00 L326.00,173.81 L326.50,173.62 L327.00,173.43 L327.50,173.24 L328.00,173.05 L328.50,172.86 L329.00,172.67 L329.50,172.48 L330.00,172.28 L330.50,172.09 L331.00,171.90 L331.50,171.71 L332.00,171.51 L332.50,171.32 L333.00,171.13 L333.50,170.93 L334.00,170.74 L334.50,170.54 L335.00,170.35 L335.50,170.16 L336.00,169.96 L336.50,169.77 L337.00,169.57 L337.50,169.38 L338.00,169.18 L338.50,168.99 L339.00,168.80 L339.50,168.60 L340.00,168.41 L340.50,168.22 L341.00,168.02 L341.50,167.83 L342.00,167.64 L342.50,167.45 L343.00,167.25 L343.50,167.06 L344.00,166.87 L344.50,166.68 L345.00,166.49 L345.50,166.30 L346.00,166.11 L346.50,165.92 L347.00,165.73 L347.50,165.55 L348.00,165.36 L348.50,165.17 L349.00,164.98 L349.50,164.80 L350.00,164.61 L350.50,164.43 L351.00,164.24 L351.50,164.06 L352.00,163.88 L352.50,163.69 L353.00,163.51 L353.50,163.33 L354.00,163.15 L354.50,162.97 L355.00,162.78 L355.50,162.60 L356.00,162.42 L356.50,162.24 L357.00,162.06 L357.50,161.88 L358.00,161.71 L358.50,161.53 L359.00,161.35 L359.50,161.17 L360.00,160.99 L360.50,160.81 L361.00,160.64 L361.50,160.46 L362.00,160.28 L362.50,160.11 L363.00,159.93 L363.50,159.75 L364.00,159.58 L364.50,159.40 L365.00,159.22 L365.50,159.05 L366.00,158.87 L366.50,158.69 L367.00,158.52 L367.50,158.34 L368.00,158.17 L368.50,157.99 L369.00,157.81 L369.50,157.64 L370.00,157.46 L370.50,157.29 L371.00,157.11 L371.50,156.93 L372.00,156.76 L372.50,156.58 L373.00,156.40 L373.50,156.23 L374.00,156.05 L374.50,155.88 L375.00,155.70 L375.50,155.52 L376.00,155.35 L376.50,155.17 L377.00,154.99 L377.50,154.82 L378.00,154.64 L378.50,154.46 L379.00,154.29 L379.50,154.11 L380.00,153.94 L380.50,153.76 L381.00,153.58 L381.50,153.41 L382.00,153.23 L382.50,153.06 L383.00,152.88 L383.50,152.70 L384.00,152.53 L384.50,152.35 L385.00,152.18 L385.50,152.00 L386.00,151.83 L386.50,151.65 L387.00,151.47 L387.50,151.30 L388.00,151.12 L388.50,150.95 L389.00,150.77 L389.50,150.60 L390.00,150.42 L390.50,150.24 L391.00,150.07 L391.50,149.89 L392.00,149.72 L392.50,149.54 L393.00,149.37 L393.50,149.19 L394.00,149.01 L394.50,148.84 L395.00,148.66 L395.50,148.49 L396.00,148.31 L396.50,148.13 L397.00,147.96 L397.50,147.78 L398.00,147.60 L398.50,147.43 L399.00,147.25 L399.50,147.08 L400.00,146.90 L400.50,146.72 L401.00,146.55 L401.50,146.37 L402.00,146.19 L402.50,146.02 L403.00,145.84 L403.50,145.66 L404.00,145.48 L404.50,145.31 L405.00,145.13 L405.50,144.95 L406.00,144.78 L406.50,144.60 L407.00,144.42 L407.50,144.25 L408.00,144.07 L408.50,143.89 L409.00,143.71 L409.50,143.54 L410.00,143.36 L410.50,143.18 L411.00,143.00 L411.50,142.83 L412.00,142.65 L412.50,142.47 L413.00,142.29 L413.50,142.12 L414.00,141.94 L414.50,141.76 L415.00,141.59 L415.50,141.41 L416.00,141.23 L416.50,141.05 L417.00,140.88 L417.50,140.70 L418.00,140.52 L418.50,140.34 L419.00,140.17 L419.50,139.99 L420.00,139.81 L420.50,139.63 L421.00,139.46 L421.50,139.28 L422.00,139.10 L422.50,138.92 L423.00,138.74 L423.50,138.57 L424.00,138.39 L424.50,138.21 L425.00,138.03 L425.50,137.86 L426.00,137.68 L426.50,137.50 L427.00,137.32 L427.50,137.15 L428.00,136.97 L428.50,136.79 L429.00,136.61 L429.50,136.44 L430.00,136.26 L430.50,136.08 L431.00,135.90 L431.50,135.72 L432.00,135.55 L432.50,135.37 L433.00,135.19 L433.50,135.01 L434.00,134.84 L434.50,134.66 L435.00,134.48 L435.50,134.30 L436.00,134.12 L436.50,133.95 L437.00,133.77 L437.50,133.59 L438.00,133.41 L438.50,133.23 L439.00,133.06 L439.50,132.88 L440.00,132.70 L440.50,132.52 L441.00,132.34 L441.50,132.17 L442.00,131.99 L442.50,131.81 L443.00,131.63 L443.50,131.45 L444.00,131.27 L444.50,131.10 L445.00,130.92 L445.50,130.74 L446.00,130.56 L446.50,130.38 L447.00,130.21 L447.50,130.03 L448.00,129.85 L448.50,129.67 L449.00,129.49 L449.50,129.31 L450.00,129.14 L450.50,128.96 L451.00,128.78 L451.50,128.60 L452.00,128.42 L452.50,128.24 L453.00,128.06 L453.50,127.89 L454.00,127.71 L454.50,127.53 L455.00,127.35 L455.50,127.17 L456.00,126.99 L456.50,126.81 L457.00,126.63 L457.50,126.45 L458.00,126.28 L458.50,126.10 L459.00,125.92 L459.50,125.74 L460.00,125.56 L460.50,125.38 L461.00,125.20 L461.50,125.02 L462.00,124.84 L462.50,124.66 L463.00,124.48 L463.50,124.30 L464.00,124.12 L464.50,123.94 L465.00,123.76 L465.50,123.58 L466.00,123.40 L466.50,123.22 L467.00,123.05 L467.50,122.87 L468.00,122.69 L468.50,122.52 L469.00,122.35 L469.50,122.18 L470.00,122.02 L470.50,121.86 L471.00,121.70 L471.50,121.55 L472.00,121.41 L472.50,121.28 L473.00,121.15 L473.50,121.04 L474.00,120.93 L474.50,120.84" fill="none" stroke="#0000ff" stroke-width="2.0" stroke-linejoin="round"/>
</g>
<path d="M72.45,147.15V277.15" stroke="#767676" stroke-width="0.95" fill="none"/>
<path d="M72.0,147.6H461.05" stroke="#5c5c5c" stroke-width="0.9" fill="none"/>
<path d="M72.0,276.7H461.05" stroke="#585858" stroke-width="0.9" fill="none"/>
<path d="M460.6,147.15V277.15" stroke="#3c3c3c" stroke-width="1" fill="none"/>
<text x="34.0" y="165.50" class="tl" textLength="14.6">10</text>
<text x="49.0" y="161.80" class="sup" textLength="16.0" lengthAdjust="spacingAndGlyphs">−21</text>
<text x="34.0" y="216.85" class="tl" textLength="14.6">10</text>
<text x="49.0" y="213.15" class="sup" textLength="16.0" lengthAdjust="spacingAndGlyphs">−22</text>
<text x="34.0" y="268.20" class="tl" textLength="14.6">10</text>
<text x="49.0" y="264.50" class="sup" textLength="16.0" lengthAdjust="spacingAndGlyphs">−23</text>
<text x="101.6" y="267.30" class="run" textLength="26.6" lengthAdjust="spacingAndGlyphs">Run</text>
<text x="135.4" y="267.30" class="run" textLength="8.7" lengthAdjust="spacingAndGlyphs">C</text>
<path d="M84.22,284.5v4.2M84.22,413.3v-4.2M94.30,284.5v8.3M94.30,413.3v-8.3M160.60,284.5v4.2M160.60,413.3v-4.2M199.39,284.5v4.2M199.39,413.3v-4.2M226.90,284.5v4.2M226.90,413.3v-4.2M248.25,284.5v4.2M248.25,413.3v-4.2M265.69,284.5v4.2M265.69,413.3v-4.2M280.43,284.5v4.2M280.43,413.3v-4.2M293.21,284.5v4.2M293.21,413.3v-4.2M304.47,284.5v4.2M304.47,413.3v-4.2M314.55,284.5v8.3M314.55,413.3v-8.3M380.85,284.5v4.2M380.85,413.3v-4.2M419.64,284.5v4.2M419.64,413.3v-4.2M447.15,284.5v4.2M447.15,413.3v-4.2M72.5,410.25h4.6M460.5,410.25h-4.6M72.5,407.90h9.0M460.5,407.90h-9.0M72.5,392.44h4.6M460.5,392.44h-4.6M72.5,383.40h4.6M460.5,383.40h-4.6M72.5,376.98h4.6M460.5,376.98h-4.6M72.5,372.01h4.6M460.5,372.01h-4.6M72.5,367.94h4.6M460.5,367.94h-4.6M72.5,364.50h4.6M460.5,364.50h-4.6M72.5,361.53h4.6M460.5,361.53h-4.6M72.5,358.90h4.6M460.5,358.90h-4.6M72.5,356.55h9.0M460.5,356.55h-9.0M72.5,341.09h4.6M460.5,341.09h-4.6M72.5,332.05h4.6M460.5,332.05h-4.6M72.5,325.63h4.6M460.5,325.63h-4.6M72.5,320.66h4.6M460.5,320.66h-4.6M72.5,316.59h4.6M460.5,316.59h-4.6M72.5,313.15h4.6M460.5,313.15h-4.6M72.5,310.18h4.6M460.5,310.18h-4.6M72.5,307.55h4.6M460.5,307.55h-4.6M72.5,305.20h9.0M460.5,305.20h-9.0M72.5,289.74h4.6M460.5,289.74h-4.6" fill="none" stroke="#707070" stroke-width="0.9"/>
<g clip-path="url(#c2)">
<path d="M72.00,304.84 L72.08,304.76 L72.16,304.88 L72.24,304.79 L72.32,304.97 L72.40,304.78 L72.48,304.94 L72.56,304.76 L72.64,304.87 L72.72,304.76 L72.80,304.89 L72.88,304.71 L72.96,304.93 L73.04,304.76 L73.12,304.95 L73.20,304.70 L73.28,304.94 L73.36,304.82 L73.44,304.89 L73.52,304.79 L73.60,304.92 L73.68,304.75 L73.76,304.97 L73.84,304.78 L73.92,304.97 L74.00,304.76 L74.08,305.00 L74.16,304.78 L74.24,305.00 L74.32,304.80 L74.40,304.91 L74.48,304.83 L74.56,304.96 L74.64,304.86 L74.72,305.08 L74.80,304.80 L74.88,305.01 L74.96,304.75 L75.04,305.02 L75.12,304.87 L75.20,304.97 L75.28,304.86 L75.36,305.03 L75.44,304.91 L75.52,305.04 L75.60,304.82 L75.68,305.05 L75.76,304.86 L75.84,305.10 L75.92,304.93 L76.00,305.03 L76.08,304.82 L76.16,305.04 L76.24,304.83 L76.32,304.97 L76.40,304.94 L76.48,305.06 L76.56,304.94 L76.64,305.10 L76.72,304.89 L76.80,305.06 L76.88,304.88 L76.96,305.14 L77.04,304.94 L77.12,305.07 L77.20,304.92 L77.28,305.14 L77.36,304.95 L77.44,305.09 L77.52,304.89 L77.60,305.09 L77.68,304.94 L77.76,305.09 L77.84,305.00 L77.92,305.13 L78.00,304.86 L78.08,305.15 L78.16,304.90 L78.24,305.13 L78.32,304.96 L78.40,305.09 L78.48,305.02 L78.56,305.15 L78.64,304.99 L78.72,305.13 L78.80,304.94 L78.88,305.22 L78.96,305.00 L79.04,305.28 L79.12,304.97 L79.20,305.21 L79.28,305.01 L79.36,305.14 L79.44,305.00 L79.52,305.20 L79.60,305.06 L79.68,305.18 L79.76,305.00 L79.84,305.17 L79.92,305.09 L80.00,305.20 L80.08,305.09 L80.16,305.27 L80.24,304.99 L80.32,305.24 L80.40,305.07 L80.48,305.23 L80.56,305.06 L80.64,305.25 L80.72,305.08 L80.80,305.20 L80.88,305.02 L80.96,305.27 L81.04,305.10 L81.12,305.18 L81.20,305.11 L81.28,305.20 L81.36,305.04 L81.44,305.25 L81.52,305.11 L81.60,305.30 L81.68,305.13 L81.76,305.31 L81.84,305.03 L81.92,305.28 L82.00,305.13 L82.08,305.31 L82.16,305.17 L82.24,305.34 L82.32,305.14 L82.40,305.34 L82.48,305.12 L82.56,305.30 L82.64,305.11 L82.72,305.31 L82.80,305.12 L82.88,305.33 L82.96,305.11 L83.04,305.32 L83.12,305.13 L83.20,305.37 L83.28,305.17 L83.36,305.28 L83.44,305.11 L83.52,305.36 L83.60,305.24 L83.68,305.31 L83.76,305.13 L83.84,305.33 L83.92,305.17 L84.00,305.33 L84.08,305.23 L84.16,305.29 L84.24,305.18 L84.32,305.41 L84.40,305.22 L84.48,305.38 L84.56,305.18 L84.64,305.35 L84.72,305.25 L84.80,305.42 L84.88,305.19 L84.96,305.35 L85.04,305.24 L85.12,305.42 L85.20,305.24 L85.28,305.40 L85.36,305.24 L85.44,305.42 L85.52,305.22 L85.60,305.47 L85.68,305.23 L85.76,305.47 L85.84,305.25 L85.92,305.51 L86.00,305.29 L86.08,305.41 L86.16,305.30 L86.24,305.50 L86.32,305.30 L86.40,305.42 L86.48,305.29 L86.56,305.54 L86.64,305.22 L86.72,305.54 L86.80,305.20 L86.88,305.48 L86.96,305.31 L87.04,305.50 L87.12,305.28 L87.20,305.50 L87.28,305.32 L87.36,305.53 L87.44,305.29 L87.52,305.52 L87.60,305.30 L87.68,305.56 L87.76,305.37 L87.84,305.48 L87.92,305.30 L88.00,305.45 L88.08,305.36 L88.16,305.54 L88.24,305.36 L88.32,305.53 L88.40,305.28 L88.48,305.54 L88.56,305.39 L88.64,305.48 L88.72,305.39 L88.80,305.52 L88.88,305.40 L88.96,305.62 L89.04,305.43 L89.12,305.60 L89.20,305.42 L89.28,305.55 L89.36,305.43 L89.44,305.62 L89.52,305.38 L89.60,305.57 L89.68,305.41 L89.76,305.63 L89.84,305.39 L89.92,305.58 L90.00,305.42 L90.08,305.66 L90.16,305.45 L90.24,305.55 L90.32,305.45 L90.40,305.63 L90.48,305.45 L90.56,305.68 L90.64,305.43 L90.72,305.61 L90.80,305.52 L90.88,305.69 L90.96,305.48 L91.04,305.62 L91.12,305.45 L91.20,305.71 L91.28,305.46 L91.36,305.74 L91.44,305.46 L91.52,305.72 L91.60,305.52 L91.68,305.61 L91.76,305.50 L91.84,305.71 L91.92,305.55 L92.00,305.60 L92.08,305.43 L92.16,305.75 L92.24,305.50 L92.32,305.69 L92.40,305.53 L92.48,305.66 L92.56,305.50 L92.64,305.68 L92.72,305.60 L92.80,305.72 L92.88,305.60 L92.96,305.77 L93.04,305.55 L93.12,305.69 L93.20,305.48 L93.28,305.82 L93.36,305.47 L93.44,305.71 L93.52,305.59 L93.60,305.77 L93.68,305.47 L93.76,305.75 L93.84,305.54 L93.92,305.76 L94.00,305.53 L94.08,305.74 L94.16,305.55 L94.24,305.79 L94.32,305.60 L94.40,305.73 L94.48,305.63 L94.56,305.77 L94.64,305.58 L94.72,305.73 L94.80,305.66 L94.88,305.83 L94.96,305.63 L95.04,305.82 L95.12,305.59 L95.20,305.87 L95.28,305.68 L95.36,305.78 L95.44,305.60 L95.52,305.76 L95.60,305.66 L95.68,305.85 L95.76,305.62 L95.84,305.76 L95.92,305.60 L96.00,305.84 L96.08,305.63 L96.16,305.85 L96.24,305.74 L96.32,305.85 L96.40,305.65 L96.48,305.89 L96.56,305.75 L96.64,305.85 L96.72,305.74 L96.80,305.88 L96.88,305.60 L96.96,305.83 L97.04,305.75 L97.12,305.86 L97.20,305.68 L97.28,305.81 L97.36,305.69 L97.44,305.82 L97.52,305.75 L97.60,305.86 L97.68,305.72 L97.76,305.97 L97.84,305.76 L97.92,305.89 L98.00,305.68 L98.08,305.91 L98.16,305.66 L98.24,305.94 L98.32,305.79 L98.40,305.93 L98.48,305.83 L98.56,305.89 L98.64,305.76 L98.72,305.89 L98.80,305.76 L98.88,305.95 L98.96,305.81 L99.04,305.91 L99.12,305.75 L99.20,305.88 L99.28,305.76 L99.36,305.96 L99.44,305.78 L99.52,305.99 L99.60,305.80 L99.68,306.04 L99.76,305.84 L99.84,306.02 L99.92,305.86 L100.00,305.92 L100.08,305.77 L100.16,305.92 L100.24,305.75 L100.32,305.94 L100.40,305.79 L100.48,306.00 L100.56,305.81 L100.64,306.03 L100.72,305.87 L100.80,306.10 L100.88,305.89 L100.96,306.02 L101.04,305.84 L101.12,306.03 L101.20,305.87 L101.28,306.06 L101.36,305.89 L101.44,306.07 L101.52,305.86 L101.60,306.01 L101.68,305.82 L101.76,306.13 L101.84,305.84 L101.92,306.04 L102.00,305.85 L102.08,306.07 L102.16,305.85 L102.24,306.11 L102.32,305.88 L102.40,306.05 L102.48,305.89 L102.56,306.11 L102.64,305.88 L102.72,306.06 L102.80,305.86 L102.88,306.10 L102.96,305.91 L103.04,306.13 L103.12,305.93 L103.20,306.08 L103.28,305.99 L103.36,306.13 L103.44,306.00 L103.52,306.05 L103.60,305.93 L103.68,306.16 L103.76,305.97 L103.84,306.11 L103.92,306.00 L104.00,306.15 L104.08,305.92 L104.16,306.15 L104.24,306.03 L104.32,306.18 L104.40,306.01 L104.48,306.15 L104.56,305.97 L104.64,306.18 L104.72,305.99 L104.80,306.16 L104.88,306.01 L104.96,306.19 L105.04,306.06 L105.12,306.16 L105.20,306.00 L105.28,306.17 L105.36,305.93 L105.44,306.23 L105.52,306.08 L105.60,306.29 L105.68,306.04 L105.76,306.17 L105.84,306.04 L105.92,306.15 L106.00,306.03 L106.08,306.20 L106.16,306.08 L106.24,306.24 L106.32,306.10 L106.40,306.28 L106.48,306.07 L106.56,306.21 L106.64,305.99 L106.72,306.27 L106.80,306.06 L106.88,306.23 L106.96,305.97 L107.04,306.33 L107.12,306.11 L107.20,306.32 L107.28,306.02 L107.36,306.28 L107.44,306.04 L107.52,306.31 L107.60,306.09 L107.68,306.34 L107.76,306.09 L107.84,306.22 L107.92,306.14 L108.00,306.37 L108.08,306.15 L108.16,306.36 L108.24,306.09 L108.32,306.30 L108.40,306.18 L108.48,306.30 L108.56,306.12 L108.64,306.37 L108.72,306.09 L108.80,306.29 L108.88,306.17 L108.96,306.38 L109.04,306.14 L109.12,306.37 L109.20,306.12 L109.28,306.40 L109.36,306.17 L109.44,306.36 L109.52,306.13 L109.60,306.26 L109.68,306.12 L109.76,306.34 L109.84,306.23 L109.92,306.35 L110.00,306.12 L110.08,306.44 L110.16,306.20 L110.24,306.45 L110.32,306.14 L110.40,306.47 L110.48,306.19 L110.56,306.35 L110.64,306.21 L110.72,306.37 L110.80,306.22 L110.88,306.35 L110.96,306.22 L111.04,306.41 L111.12,306.23 L111.20,306.45 L111.28,306.22 L111.36,306.41 L111.44,306.24 L111.52,306.42 L111.60,306.24 L111.68,306.46 L111.76,306.21 L111.84,306.40 L111.92,306.31 L112.00,306.44 L112.08,306.30 L112.16,306.45 L112.24,306.30 L112.32,306.47 L112.40,306.15 L112.48,306.37 L112.56,306.21 L112.64,306.42 L112.72,306.30 L112.80,306.42 L112.88,306.37 L112.96,306.39 L113.04,306.24 L113.12,306.43 L113.20,306.27 L113.28,306.45 L113.36,306.30 L113.44,306.50 L113.52,306.34 L113.60,306.51 L113.68,306.32 L113.76,306.53 L113.84,306.29 L113.92,306.51 L114.00,306.38 L114.08,306.46 L114.16,306.36 L114.24,306.55 L114.32,306.38 L114.40,306.46 L114.48,306.36 L114.56,306.50 L114.64,306.36 L114.72,306.48 L114.80,306.34 L114.88,306.54 L114.96,306.30 L115.04,306.58 L115.12,306.36 L115.20,306.51 L115.28,306.46 L115.36,306.64 L115.44,306.42 L115.52,306.56 L115.60,306.33 L115.68,306.62 L115.76,306.35 L115.84,306.61 L115.92,306.41 L116.00,306.63 L116.08,306.41 L116.16,306.63 L116.24,306.43 L116.32,306.56 L116.40,306.42 L116.48,306.62 L116.56,306.38 L116.64,306.66 L116.72,306.43 L116.80,306.64 L116.88,306.49 L116.96,306.64 L117.04,306.42 L117.12,306.64 L117.20,306.47 L117.28,306.62 L117.36,306.43 L117.44,306.68 L117.52,306.46 L117.60,306.67 L117.68,306.40 L117.76,306.72 L117.84,306.44 L117.92,306.62 L118.00,306.44 L118.08,306.65 L118.16,306.52 L118.24,306.66 L118.32,306.54 L118.40,306.65 L118.48,306.52 L118.56,306.66 L118.64,306.53 L118.72,306.67 L118.80,306.47 L118.88,306.62 L118.96,306.57 L119.04,306.69 L119.12,306.45 L119.20,306.79 L119.28,306.46 L119.36,306.70 L119.44,306.56 L119.52,306.68 L119.60,306.53 L119.68,306.78 L119.76,306.42 L119.84,306.83 L119.92,306.52 L120.00,306.72 L120.08,306.47 L120.16,306.65 L120.24,306.63 L120.32,306.81 L120.40,306.55 L120.48,306.74 L120.56,306.66 L120.64,306.75 L120.72,306.50 L120.80,306.68 L120.88,306.58 L120.96,306.78 L121.04,306.54 L121.12,306.74 L121.20,306.49 L121.28,306.75 L121.36,306.56 L121.44,306.79 L121.52,306.60 L121.60,306.72 L121.68,306.58 L121.76,306.73 L121.84,306.60 L121.92,306.71 L122.00,306.62 L122.08,306.76 L122.16,306.58 L122.24,306.81 L122.32,306.68 L122.40,306.84 L122.48,306.63 L122.56,306.83 L122.64,306.65 L122.72,306.85 L122.80,306.72 L122.88,306.86 L122.96,306.58 L123.04,306.93 L123.12,306.72 L123.20,306.85 L123.28,306.68 L123.36,306.88 L123.44,306.66 L123.52,306.88 L123.60,306.75 L123.68,306.92 L123.76,306.73 L123.84,306.82 L123.92,306.68 L124.00,306.90 L124.08,306.73 L124.16,306.81 L124.24,306.64 L124.32,306.84 L124.40,306.65 L124.48,306.87 L124.56,306.68 L124.64,306.87 L124.72,306.73 L124.80,306.92 L124.88,306.79 L124.96,306.90 L125.04,306.80 L125.12,306.91 L125.20,306.74 L125.28,306.86 L125.36,306.69 L125.44,306.94 L125.52,306.73 L125.60,307.01 L125.68,306.79 L125.76,306.88 L125.84,306.75 L125.92,306.94 L126.00,306.79 L126.08,306.96 L126.16,306.73 L126.24,306.87 L126.32,306.77 L126.40,306.89 L126.48,306.76 L126.56,306.90 L126.64,306.85 L126.72,307.01 L126.80,306.82 L126.88,306.99 L126.96,306.83 L127.04,307.01 L127.12,306.90 L127.20,306.99 L127.28,306.75 L127.36,306.99 L127.44,306.76 L127.52,307.06 L127.60,306.78 L127.68,306.99 L127.76,306.75 L127.84,307.03 L127.92,306.84 L128.00,307.02 L128.08,306.84 L128.16,307.04 L128.24,306.84 L128.32,307.05 L128.40,306.82 L128.48,306.98 L128.56,306.89 L128.64,307.02 L128.72,306.83 L128.80,307.13 L128.88,306.80 L128.96,307.01 L129.04,306.86 L129.12,307.11 L129.20,306.92 L129.28,307.02 L129.36,306.97 L129.44,307.08 L129.52,306.85 L129.60,307.08 L129.68,306.92 L129.76,307.03 L129.84,306.93 L129.92,307.08 L130.00,306.96 L130.08,307.11 L130.16,306.94 L130.24,307.02 L130.32,306.92 L130.40,307.18 L130.48,307.02 L130.56,307.21 L130.64,306.89 L130.72,307.11 L130.80,306.94 L130.88,307.18 L130.96,306.93 L131.04,307.13 L131.12,306.98 L131.20,307.20 L131.28,306.89 L131.36,307.14 L131.44,306.89 L131.52,307.08 L131.60,306.99 L131.68,307.23 L131.76,306.94 L131.84,307.18 L131.92,306.94 L132.00,307.20 L132.08,307.01 L132.16,307.16 L132.24,306.99 L132.32,307.20 L132.40,306.95 L132.48,307.21 L132.56,307.03 L132.64,307.18 L132.72,307.05 L132.80,307.16 L132.88,306.98 L132.96,307.13 L133.04,306.97 L133.12,307.27 L133.20,307.10 L133.28,307.19 L133.36,307.02 L133.44,307.18 L133.52,307.07 L133.60,307.25 L133.68,307.07 L133.76,307.26 L133.84,307.02 L133.92,307.16 L134.00,307.12 L134.08,307.30 L134.16,307.05 L134.24,307.33 L134.32,307.08 L134.40,307.30 L134.48,307.12 L134.56,307.26 L134.64,307.03 L134.72,307.38 L134.80,307.00 L134.88,307.33 L134.96,307.05 L135.04,307.30 L135.12,307.11 L135.20,307.22 L135.28,307.06 L135.36,307.32 L135.44,307.16 L135.52,307.30 L135.60,307.07 L135.68,307.29 L135.76,307.07 L135.84,307.27 L135.92,307.11 L136.00,307.23 L136.08,307.16 L136.16,307.30 L136.24,307.09 L136.32,307.41 L136.40,307.11 L136.48,307.41 L136.56,307.18 L136.64,307.29 L136.72,307.08 L136.80,307.38 L136.88,307.07 L136.96,307.44 L137.04,307.06 L137.12,307.37 L137.20,307.06 L137.28,307.39 L137.36,307.17 L137.44,307.41 L137.52,307.21 L137.60,307.27 L137.68,307.16 L137.76,307.35 L137.84,307.19 L137.92,307.42 L138.00,307.10 L138.08,307.35 L138.16,307.17 L138.24,307.39 L138.32,307.16 L138.40,307.42 L138.48,307.20 L138.56,307.36 L138.64,307.14 L138.72,307.39 L138.80,307.19 L138.88,307.48 L138.96,307.15 L139.04,307.39 L139.12,307.21 L139.20,307.48 L139.28,307.27 L139.36,307.46 L139.44,307.32 L139.52,307.40 L139.60,307.18 L139.68,307.48 L139.76,307.24 L139.84,307.43 L139.92,307.25 L140.00,307.46 L140.08,307.23 L140.16,307.39 L140.24,307.21 L140.32,307.43 L140.40,307.24 L140.48,307.45 L140.56,307.21 L140.64,307.56 L140.72,307.19 L140.80,307.44 L140.88,307.24 L140.96,307.46 L141.04,307.31 L141.12,307.50 L141.20,307.31 L141.28,307.54 L141.36,307.24 L141.44,307.43 L141.52,307.28 L141.60,307.42 L141.68,307.26 L141.76,307.52 L141.84,307.34 L141.92,307.48 L142.00,307.40 L142.08,307.52 L142.16,307.39 L142.24,307.53 L142.32,307.27 L142.40,307.55 L142.48,307.34 L142.56,307.49 L142.64,307.34 L142.72,307.58 L142.80,307.41 L142.88,307.50 L142.96,307.34 L143.04,307.52 L143.12,307.36 L143.20,307.55 L143.28,307.34 L143.36,307.53 L143.44,307.41 L143.52,307.62 L143.60,307.33 L143.68,307.48 L143.76,307.31 L143.84,307.61 L143.92,307.34 L144.00,307.58 L144.08,307.36 L144.16,307.57 L144.24,307.36 L144.32,307.59 L144.40,307.36 L144.48,307.55 L144.56,307.45 L144.64,307.55 L144.72,307.46 L144.80,307.62 L144.88,307.36 L144.96,307.56 L145.04,307.44 L145.12,307.61 L145.20,307.39 L145.28,307.67 L145.36,307.38 L145.44,307.57 L145.52,307.48 L145.60,307.58 L145.68,307.40 L145.76,307.60 L145.84,307.40 L145.92,307.60 L146.00,307.38 L146.08,307.67 L146.16,307.43 L146.24,307.68 L146.32,307.48 L146.40,307.66 L146.48,307.43 L146.56,307.66 L146.64,307.43 L146.72,307.71 L146.80,307.42 L146.88,307.70 L146.96,307.50 L147.04,307.61 L147.12,307.51 L147.20,307.67 L147.28,307.49 L147.36,307.70 L147.44,307.44 L147.52,307.69 L147.60,307.54 L147.68,307.72 L147.76,307.52 L147.84,307.77 L147.92,307.47 L148.00,307.66 L148.08,307.58 L148.16,307.74 L148.24,307.43 L148.32,307.70 L148.40,307.52 L148.48,307.74 L148.56,307.54 L148.64,307.71 L148.72,307.53 L148.80,307.67 L148.88,307.51 L148.96,307.78 L149.04,307.51 L149.12,307.79 L149.20,307.61 L149.28,307.78 L149.36,307.61 L149.44,307.78 L149.52,307.55 L149.60,307.84 L149.68,307.58 L149.76,307.71 L149.84,307.56 L149.92,307.80 L150.00,307.65 L150.08,307.82 L150.16,307.55 L150.24,307.72 L150.32,307.55 L150.40,307.85 L150.48,307.69 L150.56,307.81 L150.64,307.60 L150.72,307.74 L150.80,307.59 L150.88,307.81 L150.96,307.56 L151.04,307.89 L151.12,307.66 L151.20,307.85 L151.28,307.71 L151.36,307.86 L151.44,307.59 L151.52,307.84 L151.60,307.70 L151.68,307.87 L151.76,307.67 L151.84,307.89 L151.92,307.73 L152.00,307.79 L152.08,307.63 L152.16,307.77 L152.24,307.67 L152.32,307.93 L152.40,307.64 L152.48,307.83 L152.56,307.69 L152.64,307.97 L152.72,307.76 L152.80,307.87 L152.88,307.60 L152.96,307.80 L153.04,307.72 L153.12,307.91 L153.20,307.71 L153.28,307.96 L153.36,307.75 L153.44,307.90 L153.52,307.67 L153.60,307.90 L153.68,307.73 L153.76,307.92 L153.84,307.76 L153.92,307.90 L154.00,307.68 L154.08,307.91 L154.16,307.79 L154.24,307.87 L154.32,307.79 L154.40,307.96 L154.48,307.69 L154.56,307.95 L154.64,307.78 L154.72,307.92 L154.80,307.77 L154.88,307.92 L154.96,307.73 L155.04,307.98 L155.12,307.72 L155.20,308.00 L155.28,307.71 L155.36,307.92 L155.44,307.78 L155.52,307.99 L155.60,307.77 L155.68,307.91 L155.76,307.74 L155.84,307.92 L155.92,307.81 L156.00,308.08 L156.08,307.80 L156.16,308.04 L156.24,307.77 L156.32,308.04 L156.40,307.78 L156.48,307.96 L156.56,307.79 L156.64,308.00 L156.72,307.86 L156.80,307.97 L156.88,307.83 L156.96,308.08 L157.04,307.79 L157.12,308.02 L157.20,307.80 L157.28,308.04 L157.36,307.86 L157.44,307.95 L157.52,307.76 L157.60,308.09 L157.68,307.82 L157.76,308.07 L157.84,307.87 L157.92,308.11 L158.00,307.92 L158.08,308.07 L158.16,307.91 L158.24,308.00 L158.32,307.87 L158.40,308.04 L158.48,307.91 L158.56,308.01 L158.64,307.96 L158.72,308.05 L158.80,307.89 L158.88,308.09 L158.96,307.94 L159.04,308.12 L159.12,307.93 L159.20,308.07 L159.28,307.96 L159.36,308.08 L159.44,307.87 L159.52,308.11 L159.60,307.90 L159.68,308.11 L159.76,307.83 L159.84,308.09 L159.92,307.89 L160.00,308.11 L160.08,307.90 L160.16,308.21 L160.24,307.99 L160.32,308.07 L160.40,307.91 L160.48,308.10 L160.56,307.88 L160.64,308.15 L160.72,307.96 L160.80,308.21 L160.88,307.87 L160.96,308.18 L161.04,307.96 L161.12,308.11 L161.20,307.94 L161.28,308.23 L161.36,308.04 L161.44,308.19 L161.52,307.98 L161.60,308.19 L161.68,307.98 L161.76,308.15 L161.84,307.98 L161.92,308.21 L162.00,307.97 L162.08,308.20 L162.16,308.00 L162.24,308.18 L162.32,307.95 L162.40,308.17 L162.48,308.04 L162.56,308.19 L162.64,307.95 L162.72,308.24 L162.80,308.05 L162.88,308.18 L162.96,308.05 L163.04,308.19 L163.12,308.02 L163.20,308.17 L163.28,308.01 L163.36,308.25 L163.44,307.98 L163.52,308.34 L163.60,308.07 L163.68,308.20 L163.76,308.05 L163.84,308.28 L163.92,308.05 L164.00,308.29 L164.08,308.11 L164.16,308.32 L164.24,307.99 L164.32,308.34 L164.40,308.08 L164.48,308.22 L164.56,308.16 L164.64,308.25 L164.72,308.03 L164.80,308.29 L164.88,308.06 L164.96,308.30 L165.04,308.14 L165.12,308.35 L165.20,308.14 L165.28,308.30 L165.36,308.11 L165.44,308.24 L165.52,308.19 L165.60,308.33 L165.68,308.08 L165.76,308.31 L165.84,308.14 L165.92,308.41 L166.00,308.15 L166.08,308.30 L166.16,308.10 L166.24,308.34 L166.32,308.11 L166.40,308.28 L166.48,308.22 L166.56,308.42 L166.64,308.21 L166.72,308.38 L166.80,308.11 L166.88,308.32 L166.96,308.21 L167.04,308.38 L167.12,308.21 L167.20,308.38 L167.28,308.22 L167.36,308.45 L167.44,308.28 L167.52,308.51 L167.60,308.22 L167.68,308.46 L167.76,308.28 L167.84,308.39 L167.92,308.31 L168.00,308.41 L168.08,308.22 L168.16,308.46 L168.24,308.18 L168.32,308.58 L168.40,308.33 L168.48,308.38 L168.56,308.32 L168.64,308.37 L168.72,308.27 L168.80,308.51 L168.88,308.32 L168.96,308.47 L169.04,308.32 L169.12,308.54 L169.20,308.33 L169.28,308.51 L169.36,308.30 L169.44,308.56 L169.52,308.29 L169.60,308.49 L169.68,308.24 L169.76,308.53 L169.84,308.25 L169.92,308.49 L170.00,308.31 L170.08,308.51 L170.16,308.29 L170.24,308.57 L170.32,308.30 L170.40,308.51 L170.48,308.28 L170.56,308.58 L170.64,308.39 L170.72,308.64 L170.80,308.24 L170.88,308.55 L170.96,308.44 L171.04,308.50 L171.12,308.41 L171.20,308.58 L171.28,308.32 L171.36,308.54 L171.44,308.45 L171.52,308.54 L171.60,308.38 L171.68,308.63 L171.76,308.37 L171.84,308.51 L171.92,308.43 L172.00,308.61 L172.08,308.44 L172.16,308.67 L172.24,308.37 L172.32,308.63 L172.40,308.32 L172.48,308.68 L172.56,308.50 L172.64,308.72 L172.72,308.37 L172.80,308.67 L172.88,308.47 L172.96,308.63 L173.04,308.43 L173.12,308.67 L173.20,308.48 L173.28,308.55 L173.36,308.48 L173.44,308.66 L173.52,308.47 L173.60,308.65 L173.68,308.36 L173.76,308.65 L173.84,308.55 L173.92,308.68 L174.00,308.42 L174.08,308.63 L174.16,308.45 L174.24,308.71 L174.32,308.35 L174.40,308.77 L174.48,308.55 L174.56,308.70 L174.64,308.52 L174.72,308.72 L174.80,308.49 L174.88,308.66 L174.96,308.53 L175.04,308.70 L175.12,308.45 L175.20,308.64 L175.28,308.56 L175.36,308.69 L175.44,308.57 L175.52,308.62 L175.60,308.47 L175.68,308.74 L175.76,308.56 L175.84,308.68 L175.92,308.54 L176.00,308.72 L176.08,308.45 L176.16,308.64 L176.24,308.50 L176.32,308.60 L176.40,308.44 L176.48,308.63 L176.56,308.53 L176.64,308.68 L176.72,308.40 L176.80,308.58 L176.88,308.34 L176.96,308.58 L177.04,308.27 L177.12,308.55 L177.20,308.31 L177.28,308.57 L177.36,308.24 L177.44,308.48 L177.52,308.25 L177.60,308.37 L177.68,308.30 L177.76,308.34 L177.84,308.20 L177.92,308.34 L178.00,308.18 L178.08,308.41" fill="none" stroke="#111" stroke-width="0.45" stroke-linejoin="round"/>
<path d="M178.08,308.41 L178.16,308.12 L178.24,308.33 L178.32,308.05 L178.40,308.35 L178.48,308.12 L178.56,308.26 L178.64,308.10 L178.72,308.22 L178.80,308.13 L178.88,308.37 L178.96,308.22 L179.04,308.41 L179.12,308.29 L179.20,308.54 L179.28,308.46 L179.36,308.64 L179.44,308.52 L179.52,308.73 L179.60,308.63 L179.68,308.87 L179.76,308.82 L179.84,309.06 L179.92,308.95 L180.00,309.14 L180.08,309.08 L180.16,309.28 L180.24,309.24 L180.32,309.37 L180.40,309.27 L180.48,309.50 L180.56,309.39 L180.64,309.60 L180.72,309.48 L180.80,309.66 L180.88,309.49 L180.96,309.74 L181.04,309.59 L181.12,309.63 L181.20,309.49 L181.28,309.58 L181.36,309.43 L181.44,309.49 L181.52,309.31 L181.60,309.41 L181.68,309.21 L181.76,309.24 L181.84,309.10 L181.92,309.09 L182.00,308.99 L182.08,309.01 L182.16,308.74 L182.24,308.84 L182.32,308.67 L182.40,308.65 L182.48,308.48 L182.56,308.51 L182.64,308.33 L182.72,308.41 L182.80,308.16 L182.88,308.24 L182.96,308.06 L183.04,308.17 L183.12,308.05 L183.20,308.08 L183.28,307.99 L183.36,308.05 L183.44,307.92 L183.52,308.03 L183.60,307.96 L183.68,308.12 L183.76,308.05 L183.84,308.24 L183.92,308.26 L184.00,308.42 L184.08,308.39 L184.16,308.56 L184.24,308.60 L184.32,308.74 L184.40,308.78 L184.48,309.02 L184.56,309.05 L184.64,309.23 L184.72,309.26 L184.80,309.42 L184.88,309.51 L184.96,309.70 L185.04,309.70 L185.12,309.88 L185.20,309.92 L185.28,310.07 L185.36,310.07 L185.44,310.23 L185.52,310.21 L185.60,310.37 L185.68,310.28 L185.76,310.39 L185.84,310.35 L185.92,310.44 L186.00,310.34 L186.08,310.45 L186.16,310.29 L186.24,310.33 L186.32,310.20 L186.40,310.23 L186.48,310.05 L186.56,310.08 L186.64,309.86 L186.72,309.85 L186.80,309.68 L186.88,309.66 L186.96,309.52 L187.04,309.48 L187.12,309.26 L187.20,309.24 L187.28,309.08 L187.36,309.01 L187.44,308.79 L187.52,308.78 L187.60,308.61 L187.68,308.59 L187.76,308.39 L187.84,308.46 L187.92,308.23 L188.00,308.28 L188.08,308.15 L188.16,308.16 L188.24,308.00 L188.32,308.09 L188.40,307.94 L188.48,308.02 L188.56,307.98 L188.64,308.06 L188.72,308.02 L188.80,308.11 L188.88,308.12 L188.96,308.26 L189.04,308.20 L189.12,308.42 L189.20,308.35 L189.28,308.60 L189.36,308.57 L189.44,308.82 L189.52,308.78 L189.60,309.01 L189.68,309.06 L189.76,309.25 L189.84,309.31 L189.92,309.54 L190.00,309.57 L190.08,309.77 L190.16,309.80 L190.24,310.05 L190.32,310.05 L190.40,310.25 L190.48,310.30 L190.56,310.50 L190.64,310.49 L190.72,310.68 L190.80,310.75 L190.88,310.89 L190.96,310.90 L191.04,311.05 L191.12,311.02 L191.20,311.17 L191.28,311.09 L191.36,311.23 L191.44,311.14 L191.52,311.24 L191.60,311.15 L191.68,311.19 L191.76,311.09 L191.84,311.12 L191.92,310.97 L192.00,310.96 L192.08,310.83 L192.16,310.78 L192.24,310.62 L192.32,310.59 L192.40,310.32 L192.48,310.32 L192.56,310.10 L192.64,310.04 L192.72,309.81 L192.80,309.78 L192.88,309.53 L192.96,309.48 L193.04,309.27 L193.12,309.19 L193.20,308.95 L193.28,308.87 L193.36,308.68 L193.44,308.67 L193.52,308.43 L193.60,308.41 L193.68,308.21 L193.76,308.16 L193.84,308.02 L193.92,307.99 L194.00,307.88 L194.08,307.88 L194.16,307.76 L194.24,307.75 L194.32,307.68 L194.40,307.76 L194.48,307.66 L194.56,307.78 L194.64,307.74 L194.72,307.95 L194.80,307.92 L194.88,308.12 L194.96,308.18 L195.04,308.45 L195.12,308.46 L195.20,308.75 L195.28,308.87 L195.36,309.12 L195.44,309.22 L195.52,309.49 L195.60,309.58 L195.68,309.92 L195.76,310.02 L195.84,310.28 L195.92,310.43 L196.00,310.72 L196.08,310.82 L196.16,311.03 L196.24,311.15 L196.32,311.39 L196.40,311.46 L196.48,311.70 L196.56,311.71 L196.64,311.93 L196.72,311.95 L196.80,312.04 L196.88,312.02 L196.96,312.11 L197.04,312.07 L197.12,312.10 L197.20,311.96 L197.28,311.94 L197.36,311.82 L197.44,311.77 L197.52,311.55 L197.60,311.48 L197.68,311.21 L197.76,311.14 L197.84,310.88 L197.92,310.74 L198.00,310.46 L198.08,310.38 L198.16,310.06 L198.24,309.94 L198.32,309.62 L198.40,309.51 L198.48,309.17 L198.56,309.05 L198.64,308.76 L198.72,308.67 L198.80,308.41 L198.88,308.33 L198.96,308.10 L199.04,308.02 L199.12,307.86 L199.20,307.82 L199.28,307.68 L199.36,307.67 L199.44,307.56 L199.52,307.63 L199.60,307.62 L199.68,307.69 L199.76,307.73 L199.84,307.89 L199.92,307.92 L200.00,308.14 L200.08,308.24 L200.16,308.49 L200.24,308.61 L200.32,308.89 L200.40,309.02 L200.48,309.32 L200.56,309.46 L200.64,309.82 L200.72,309.99 L200.80,310.29 L200.88,310.45 L200.96,310.77 L201.04,310.91 L201.12,311.24 L201.20,311.38 L201.28,311.68 L201.36,311.79 L201.44,312.06 L201.52,312.21 L201.60,312.47 L201.68,312.48 L201.76,312.66 L201.84,312.72 L201.92,312.91 L202.00,312.85 L202.08,312.94 L202.16,312.87 L202.24,312.90 L202.32,312.75 L202.40,312.77 L202.48,312.55 L202.56,312.52 L202.64,312.30 L202.72,312.21 L202.80,312.01 L202.88,311.88 L202.96,311.60 L203.04,311.51 L203.12,311.18 L203.20,311.05 L203.28,310.73 L203.36,310.57 L203.44,310.23 L203.52,310.08 L203.60,309.77 L203.68,309.60 L203.76,309.25 L203.84,309.09 L203.92,308.82 L204.00,308.66 L204.08,308.37 L204.16,308.24 L204.24,307.95 L204.32,307.86 L204.40,307.61 L204.48,307.53 L204.56,307.34 L204.64,307.26 L204.72,307.14 L204.80,307.12 L204.88,307.02 L204.96,307.03 L205.04,306.96 L205.12,307.11 L205.20,307.03 L205.28,307.23 L205.36,307.22 L205.44,307.49 L205.52,307.60 L205.60,307.83 L205.68,307.98 L205.76,308.26 L205.84,308.45 L205.92,308.74 L206.00,308.93 L206.08,309.26 L206.16,309.47 L206.24,309.85 L206.32,310.06 L206.40,310.47 L206.48,310.68 L206.56,311.05 L206.64,311.26 L206.72,311.67 L206.80,311.90 L206.88,312.28 L206.96,312.48 L207.04,312.78 L207.12,312.98 L207.20,313.30 L207.28,313.45 L207.36,313.73 L207.44,313.87 L207.52,314.13 L207.60,314.17 L207.68,314.43 L207.76,314.41 L207.84,314.55 L207.92,314.53 L208.00,314.64 L208.08,314.52 L208.16,314.55 L208.24,314.45 L208.32,314.40 L208.40,314.17 L208.48,314.08 L208.56,313.82 L208.64,313.71 L208.72,313.40 L208.80,313.22 L208.88,312.90 L208.96,312.67 L209.04,312.34 L209.12,312.09 L209.20,311.74 L209.28,311.46 L209.36,311.10 L209.44,310.84 L209.52,310.43 L209.60,310.15 L209.68,309.78 L209.76,309.51 L209.84,309.13 L209.92,308.89 L210.00,308.51 L210.08,308.29 L210.16,307.91 L210.24,307.74 L210.32,307.40 L210.40,307.23 L210.48,306.96 L210.56,306.85 L210.64,306.55 L210.72,306.49 L210.80,306.29 L210.88,306.28 L210.96,306.10 L211.04,306.12 L211.12,306.04 L211.20,306.15 L211.28,306.11 L211.36,306.28 L211.44,306.30 L211.52,306.54 L211.60,306.61 L211.68,306.84 L211.76,306.95 L211.84,307.24 L211.92,307.42 L212.00,307.72 L212.08,307.94 L212.16,308.24 L212.24,308.49 L212.32,308.88 L212.40,309.11 L212.48,309.51 L212.56,309.76 L212.64,310.16 L212.72,310.45 L212.80,310.83 L212.88,311.10 L212.96,311.54 L213.04,311.80 L213.12,312.22 L213.20,312.52 L213.28,312.89 L213.36,313.15 L213.44,313.58 L213.52,313.81 L213.60,314.23 L213.68,314.45 L213.76,314.74 L213.84,315.01 L213.92,315.31 L214.00,315.46 L214.08,315.79 L214.16,315.89 L214.24,316.19 L214.32,316.27 L214.40,316.50 L214.48,316.52 L214.56,316.70 L214.64,316.74 L214.72,316.82 L214.80,316.78 L214.88,316.86 L214.96,316.68 L215.04,316.71 L215.12,316.52 L215.20,316.47 L215.28,316.25 L215.36,316.19 L215.44,315.95 L215.52,315.79 L215.60,315.50 L215.68,315.34 L215.76,315.00 L215.84,314.80 L215.92,314.46 L216.00,314.25 L216.08,313.87 L216.16,313.65 L216.24,313.23 L216.32,312.94 L216.40,312.58 L216.48,312.26 L216.56,311.83 L216.64,311.57 L216.72,311.17 L216.80,310.86 L216.88,310.43 L216.96,310.17 L217.04,309.74 L217.12,309.47 L217.20,309.05 L217.28,308.81 L217.36,308.41 L217.44,308.17 L217.52,307.79 L217.60,307.57 L217.68,307.20 L217.76,307.03 L217.84,306.69 L217.92,306.56 L218.00,306.28 L218.08,306.14 L218.16,305.86 L218.24,305.80 L218.32,305.55 L218.40,305.53 L218.48,305.37 L218.56,305.39 L218.64,305.27 L218.72,305.33 L218.80,305.27 L218.88,305.44 L218.96,305.49 L219.04,305.68 L219.12,305.78 L219.20,306.03 L219.28,306.22 L219.36,306.56 L219.44,306.76 L219.52,307.15 L219.60,307.40 L219.68,307.83 L219.76,308.13 L219.84,308.57 L219.92,308.94 L220.00,309.43 L220.08,309.76 L220.16,310.28 L220.24,310.66 L220.32,311.21 L220.40,311.62 L220.48,312.16 L220.56,312.54 L220.64,313.03 L220.72,313.48 L220.80,313.98 L220.88,314.38 L220.96,314.89 L221.04,315.26 L221.12,315.73 L221.20,316.07 L221.28,316.60 L221.36,316.89 L221.44,317.31 L221.52,317.63 L221.60,318.00 L221.68,318.25 L221.76,318.59 L221.84,318.80 L221.92,319.06 L222.00,319.20 L222.08,319.45 L222.16,319.51 L222.24,319.67 L222.32,319.62 L222.40,319.74 L222.48,319.63 L222.56,319.68 L222.64,319.56 L222.72,319.58 L222.80,319.39 L222.88,319.33 L222.96,319.13 L223.04,319.05 L223.12,318.82 L223.20,318.70 L223.28,318.43 L223.36,318.28 L223.44,318.00 L223.52,317.75 L223.60,317.44 L223.68,317.26 L223.76,316.90 L223.84,316.65 L223.92,316.28 L224.00,316.06 L224.08,315.66 L224.16,315.40 L224.24,314.98 L224.32,314.70 L224.40,314.26 L224.48,313.99 L224.56,313.56 L224.64,313.27 L224.72,312.83 L224.80,312.54 L224.88,312.12 L224.96,311.78 L225.04,311.34 L225.12,311.03 L225.20,310.63 L225.28,310.29 L225.36,309.89 L225.44,309.59 L225.52,309.17 L225.60,308.91 L225.68,308.46 L225.76,308.16 L225.84,307.78 L225.92,307.55 L226.00,307.17 L226.08,306.92 L226.16,306.54 L226.24,306.37 L226.32,306.01 L226.40,305.84 L226.48,305.50 L226.56,305.34 L226.64,305.07 L226.72,304.91 L226.80,304.68 L226.88,304.57 L226.96,304.33 L227.04,304.32 L227.12,304.12 L227.20,304.12 L227.28,303.97 L227.36,303.94 L227.44,303.89 L227.52,303.94 L227.60,303.90 L227.68,303.99 L227.76,304.01 L227.84,304.18 L227.92,304.26 L228.00,304.46 L228.08,304.57 L228.16,304.84 L228.24,304.98 L228.32,305.31 L228.40,305.49 L228.48,305.84 L228.56,306.08 L228.64,306.43 L228.72,306.72 L228.80,307.14 L228.88,307.43 L228.96,307.84 L229.04,308.17 L229.12,308.63 L229.20,308.99 L229.28,309.47 L229.36,309.82 L229.44,310.30 L229.52,310.67 L229.60,311.19 L229.68,311.62 L229.76,312.10 L229.84,312.50 L229.92,313.03 L230.00,313.43 L230.08,313.96 L230.16,314.36 L230.24,314.88 L230.32,315.26 L230.40,315.81 L230.48,316.18 L230.56,316.69 L230.64,317.08 L230.72,317.58 L230.80,317.94 L230.88,318.42 L230.96,318.76 L231.04,319.24 L231.12,319.52 L231.20,319.98 L231.28,320.28 L231.36,320.70 L231.44,320.98 L231.52,321.38 L231.60,321.58 L231.68,321.92 L231.76,322.14 L231.84,322.44 L231.92,322.59 L232.00,322.87 L232.08,322.99 L232.16,323.22 L232.24,323.29 L232.32,323.45 L232.40,323.49 L232.48,323.58 L232.56,323.57 L232.64,323.62 L232.72,323.52 L232.80,323.55 L232.88,323.42 L232.96,323.43 L233.04,323.24 L233.12,323.15 L233.20,322.95 L233.28,322.85 L233.36,322.63 L233.44,322.49 L233.52,322.22 L233.60,322.04 L233.68,321.73 L233.76,321.54 L233.84,321.21 L233.92,321.00 L234.00,320.59 L234.08,320.35 L234.16,319.97 L234.24,319.72 L234.32,319.28 L234.40,318.99 L234.48,318.60 L234.56,318.29 L234.64,317.82 L234.72,317.48 L234.80,317.05 L234.88,316.72 L234.96,316.24 L235.04,315.89 L235.12,315.39 L235.20,315.05 L235.28,314.59 L235.36,314.19 L235.44,313.74 L235.52,313.34 L235.60,312.86 L235.68,312.50 L235.76,312.04 L235.84,311.64 L235.92,311.16 L236.00,310.78 L236.08,310.31 L236.16,309.98 L236.24,309.52 L236.32,309.16 L236.40,308.68 L236.48,308.36 L236.56,307.90 L236.64,307.59 L236.72,307.16 L236.80,306.86 L236.88,306.45 L236.96,306.17 L237.04,305.77 L237.12,305.47 L237.20,305.11 L237.28,304.88 L237.36,304.50 L237.44,304.33 L237.52,303.99 L237.60,303.83 L237.68,303.51 L237.76,303.37 L237.84,303.12 L237.92,303.00 L238.00,302.79 L238.08,302.68 L238.16,302.49 L238.24,302.46 L238.32,302.29 L238.40,302.33 L238.48,302.20 L238.56,302.25 L238.64,302.18 L238.72,302.24 L238.80,302.22 L238.88,302.36 L238.96,302.37 L239.04,302.51 L239.12,302.56 L239.20,302.78 L239.28,302.86 L239.36,303.09 L239.44,303.25 L239.52,303.50 L239.60,303.64 L239.68,303.94 L239.76,304.10 L239.84,304.42 L239.92,304.66 L240.00,305.02 L240.08,305.25 L240.16,305.62 L240.24,305.88 L240.32,306.27 L240.40,306.56 L240.48,307.00 L240.56,307.27 L240.64,307.73 L240.72,308.04 L240.80,308.52 L240.88,308.85 L240.96,309.30 L241.04,309.66 L241.12,310.14 L241.20,310.50 L241.28,311.02 L241.36,311.43 L241.44,311.90 L241.52,312.30 L241.60,312.83 L241.68,313.24 L241.76,313.75 L241.84,314.14 L241.92,314.67 L242.00,315.09 L242.08,315.64 L242.16,316.05 L242.24,316.59 L242.32,316.96 L242.40,317.50 L242.48,317.94 L242.56,318.43 L242.64,318.88 L242.72,319.38 L242.80,319.80 L242.88,320.33 L242.96,320.75 L243.04,321.22 L243.12,321.62 L243.20,322.14 L243.28,322.52 L243.36,322.99 L243.44,323.36 L243.52,323.82 L243.60,324.19 L243.68,324.69 L243.76,324.99 L243.84,325.45 L243.92,325.76 L244.00,326.21 L244.08,326.50 L244.16,326.89 L244.24,327.19 L244.32,327.57 L244.40,327.80 L244.48,328.18 L244.56,328.41 L244.64,328.76 L244.72,328.97 L244.80,329.24 L244.88,329.45 L244.96,329.69 L245.04,329.84 L245.12,330.11 L245.20,330.21 L245.28,330.45 L245.36,330.54 L245.44,330.69 L245.52,330.73 L245.60,330.88 L245.68,330.91 L245.76,331.01 L245.84,330.97 L245.92,331.04 L246.00,330.94 L246.08,331.00 L246.16,330.90 L246.24,330.93 L246.32,330.83 L246.40,330.78 L246.48,330.67 L246.56,330.61 L246.64,330.45 L246.72,330.42 L246.80,330.25 L246.88,330.17 L246.96,329.93 L247.04,329.86 L247.12,329.65 L247.20,329.52 L247.28,329.28 L247.36,329.14 L247.44,328.89 L247.52,328.75 L247.60,328.49 L247.68,328.30 L247.76,328.04 L247.84,327.85 L247.92,327.56 L248.00,327.35 L248.08,327.05 L248.16,326.83 L248.24,326.50 L248.32,326.28 L248.40,325.91 L248.48,325.70 L248.56,325.32 L248.64,325.08 L248.72,324.75 L248.80,324.47 L248.88,324.10 L248.96,323.83 L249.04,323.45 L249.12,323.16 L249.20,322.78 L249.28,322.50 L249.36,322.08 L249.44,321.80 L249.52,321.37 L249.60,321.09 L249.68,320.70 L249.76,320.38 L249.84,319.96 L249.92,319.64 L250.00,319.23 L250.08,318.93 L250.16,318.49 L250.24,318.18 L250.32,317.76 L250.40,317.43 L250.48,317.00 L250.56,316.68 L250.64,316.23 L250.72,315.93 L250.80,315.50 L250.88,315.20 L250.96,314.75 L251.04,314.43 L251.12,314.01 L251.20,313.69 L251.28,313.28 L251.36,312.93 L251.44,312.55 L251.52,312.21 L251.60,311.79 L251.68,311.52 L251.76,311.08 L251.84,310.78 L251.92,310.36 L252.00,310.08 L252.08,309.67 L252.16,309.41 L252.24,309.01 L252.32,308.72 L252.40,308.34 L252.48,308.06 L252.56,307.71 L252.64,307.46 L252.72,307.05 L252.80,306.82 L252.88,306.47 L252.96,306.21 L253.04,305.86 L253.12,305.67 L253.20,305.32 L253.28,305.09 L253.36,304.77 L253.44,304.56 L253.52,304.27 L253.60,304.08 L253.68,303.80 L253.76,303.63 L253.84,303.34 L253.92,303.21 L254.00,302.93 L254.08,302.82 L254.16,302.56 L254.24,302.44 L254.32,302.22 L254.40,302.12 L254.48,301.93 L254.56,301.81 L254.64,301.67 L254.72,301.60 L254.80,301.44 L254.88,301.37 L254.96,301.24 L255.04,301.23 L255.12,301.12 L255.20,301.10 L255.28,301.00 L255.36,301.05 L255.44,300.99 L255.52,301.03 L255.60,300.98 L255.68,301.03 L255.76,300.99 L255.84,301.07 L255.92,301.02 L256.00,301.08 L256.08,301.04 L256.16,301.10 L256.24,301.10 L256.32,301.15 L256.40,301.14 L256.48,301.22 L256.56,301.19 L256.64,301.28 L256.72,301.26 L256.80,301.38 L256.88,301.37 L256.96,301.46 L257.04,301.44 L257.12,301.54 L257.20,301.53 L257.28,301.62 L257.36,301.67 L257.44,301.75 L257.52,301.77 L257.60,301.88 L257.68,301.91 L257.76,302.01 L257.84,302.01 L257.92,302.14 L258.00,302.18 L258.08,302.30 L258.16,302.34 L258.24,302.45 L258.32,302.47 L258.40,302.60 L258.48,302.64 L258.56,302.78 L258.64,302.82 L258.72,302.95 L258.80,302.98 L258.88,303.13 L258.96,303.17 L259.04,303.31 L259.12,303.37 L259.20,303.51 L259.28,303.57 L259.36,303.72 L259.44,303.77 L259.52,303.92 L259.60,303.99 L259.68,304.16 L259.76,304.21 L259.84,304.37 L259.92,304.44 L260.00,304.60 L260.08,304.68 L260.16,304.84 L260.24,304.90 L260.32,305.10 L260.40,305.16 L260.48,305.32 L260.56,305.41 L260.64,305.58 L260.72,305.68 L260.80,305.84 L260.88,305.92 L260.96,306.12 L261.04,306.17 L261.12,306.37 L261.20,306.48 L261.28,306.64 L261.36,306.73 L261.44,306.92 L261.52,307.04 L261.60,307.20 L261.68,307.33 L261.76,307.52 L261.84,307.60 L261.92,307.78 L262.00,307.89 L262.08,308.08 L262.16,308.20 L262.24,308.40 L262.32,308.46 L262.40,308.69 L262.48,308.78 L262.56,309.00 L262.64,309.09 L262.72,309.34 L262.80,309.43 L262.88,309.63 L262.96,309.73 L263.04,309.95 L263.12,310.04 L263.20,310.26 L263.28,310.37 L263.36,310.60 L263.44,310.71 L263.52,310.92 L263.60,311.02 L263.68,311.23 L263.76,311.36 L263.84,311.57 L263.92,311.70 L264.00,311.91 L264.08,312.01 L264.16,312.24 L264.24,312.35 L264.32,312.59 L264.40,312.70 L264.48,312.92 L264.56,313.04 L264.64,313.26 L264.72,313.37 L264.80,313.60 L264.88,313.71 L264.96,313.94 L265.04,314.06 L265.12,314.27 L265.20,314.42 L265.28,314.67 L265.36,314.87 L265.44,315.14 L265.52,315.29 L265.60,315.58 L265.68,315.74 L265.76,316.07 L265.84,316.27 L265.92,316.60 L266.00,316.83 L266.08,317.13 L266.16,317.39 L266.24,317.73 L266.32,317.97 L266.40,318.35 L266.48,318.61 L266.56,318.95 L266.64,319.23 L266.72,319.60 L266.80,319.88 L266.88,320.25 L266.96,320.53 L267.04,320.91 L267.12,321.21 L267.20,321.62 L267.28,321.92 L267.36,322.29 L267.44,322.64 L267.52,323.02 L267.60,323.31 L267.68,323.74 L267.76,324.04 L267.84,324.43 L267.92,324.76 L268.00,325.18 L268.08,325.46 L268.16,325.87 L268.24,326.18 L268.32,326.60 L268.40,326.89 L268.48,327.29 L268.56,327.60 L268.64,328.00 L268.72,328.29 L268.80,328.68 L268.88,328.97 L268.96,329.35 L269.04,329.62 L269.12,330.00 L269.20,330.28 L269.28,330.65 L269.36,330.92 L269.44,331.27 L269.52,331.57 L269.60,331.91 L269.68,332.18 L269.76,332.57 L269.84,332.85 L269.92,333.21 L270.00,333.51 L270.08,333.90 L270.16,334.20 L270.24,334.60 L270.32,334.90 L270.40,335.30 L270.48,335.60 L270.56,336.02 L270.64,336.30 L270.72,336.75 L270.80,337.01 L270.88,337.43 L270.96,337.71 L271.04,338.09 L271.12,338.37 L271.20,338.75 L271.28,339.01 L271.36,339.38 L271.44,339.65 L271.52,340.01 L271.60,340.25 L271.68,340.62 L271.76,340.82 L271.84,341.15 L271.92,341.31 L272.00,341.64 L272.08,341.79 L272.16,342.08 L272.24,342.20 L272.32,342.45 L272.40,342.56 L272.48,342.78 L272.56,342.90 L272.64,343.06 L272.72,343.18 L272.80,343.37 L272.88,343.46 L272.96,343.65 L273.04,343.77 L273.12,343.92 L273.20,344.03 L273.28,344.20 L273.36,344.28 L273.44,344.42 L273.52,344.50 L273.60,344.68 L273.68,344.73 L273.76,344.87 L273.84,344.89 L273.92,345.01 L274.00,345.05 L274.08,345.19 L274.16,345.17 L274.24,345.25 L274.32,345.24 L274.40,345.31 L274.48,345.29 L274.56,345.32 L274.64,345.27 L274.72,345.30 L274.80,345.21 L274.88,345.24 L274.96,345.16 L275.04,345.17 L275.12,345.10 L275.20,345.10 L275.28,344.95 L275.36,344.97 L275.44,344.86 L275.52,344.84 L275.60,344.73 L275.68,344.69 L275.76,344.57 L275.84,344.57 L275.92,344.43 L276.00,344.40 L276.08,344.28 L276.16,344.24 L276.24,344.12 L276.32,344.08 L276.40,343.97 L276.48,343.95 L276.56,343.81 L276.64,343.81 L276.72,343.67 L276.80,343.67 L276.88,343.56 L276.96,343.56 L277.04,343.42 L277.12,343.47 L277.20,343.33 L277.28,343.32 L277.36,343.23 L277.44,343.22 L277.52,343.09 L277.60,343.09 L277.68,343.00 L277.76,342.97 L277.84,342.88 L277.92,342.87 L278.00,342.72 L278.08,342.73 L278.16,342.62 L278.24,342.58 L278.32,342.48 L278.40,342.49 L278.48,342.38 L278.56,342.33 L278.64,342.21 L278.72,342.23 L278.80,342.10 L278.88,342.08 L278.96,341.94 L279.04,341.95 L279.12,341.82 L279.20,341.82 L279.28,341.70 L279.36,341.70 L279.44,341.55 L279.52,341.54 L279.60,341.45 L279.68,341.44 L279.76,341.26 L279.84,341.28 L279.92,341.15 L280.00,341.17 L280.08,341.03 L280.16,341.02 L280.24,340.90 L280.32,340.87 L280.40,340.77 L280.48,340.78 L280.56,340.64 L280.64,340.63 L280.72,340.54 L280.80,340.50 L280.88,340.39 L280.96,340.37 L281.04,340.28 L281.12,340.24 L281.20,340.13 L281.28,340.12 L281.36,340.01 L281.44,340.02 L281.52,339.89 L281.60,339.91 L281.68,339.76 L281.76,339.79 L281.84,339.68 L281.92,339.69 L282.00,339.58 L282.08,339.57 L282.16,339.45 L282.24,339.50 L282.32,339.34 L282.40,339.38 L282.48,339.27 L282.56,339.28 L282.64,339.20 L282.72,339.21 L282.80,339.09 L282.88,339.13 L282.96,339.04 L283.04,339.02 L283.12,338.95 L283.20,338.97 L283.28,338.87 L283.36,338.88 L283.44,338.82 L283.52,338.84 L283.60,338.74 L283.68,338.77 L283.76,338.70 L283.84,338.69 L283.92,338.63 L284.00,338.67 L284.08,338.60 L284.16,338.63 L284.24,338.54 L284.32,338.58 L284.40,338.51 L284.48,338.58 L284.56,338.51 L284.64,338.54 L284.72,338.50 L284.80,338.57 L284.88,338.49 L284.96,338.55 L285.04,338.47 L285.12,338.54 L285.20,338.50 L285.28,338.55 L285.36,338.53 L285.44,338.58 L285.52,338.54 L285.60,338.62 L285.68,338.59 L285.76,338.67 L285.84,338.66 L285.92,338.74 L286.00,338.75 L286.08,338.83 L286.16,338.81 L286.24,338.92 L286.32,338.89 L286.40,339.00 L286.48,338.97 L286.56,339.09 L286.64,339.10 L286.72,339.20 L286.80,339.22 L286.88,339.36 L286.96,339.37 L287.04,339.47 L287.12,339.51 L287.20,339.62 L287.28,339.62 L287.36,339.77 L287.44,339.76 L287.52,339.92 L287.60,339.94 L287.68,340.08 L287.76,340.08 L287.84,340.27 L287.92,340.29 L288.00,340.40 L288.08,340.45 L288.16,340.60 L288.24,340.63 L288.32,340.77 L288.40,340.81 L288.48,340.98 L288.56,341.02 L288.64,341.15 L288.72,341.18 L288.80,341.35 L288.88,341.38 L288.96,341.54 L289.04,341.55 L289.12,341.73 L289.20,341.75 L289.28,341.93 L289.36,341.96 L289.44,342.14 L289.52,342.17 L289.60,342.32 L289.68,342.37 L289.76,342.55 L289.84,342.57 L289.92,342.74 L290.00,342.76 L290.08,342.96 L290.16,342.97 L290.24,343.16 L290.32,343.18 L290.40,343.38 L290.48,343.44 L290.56,343.60 L290.64,343.68 L290.72,343.86 L290.80,343.92 L290.88,344.14 L290.96,344.20 L291.04,344.41 L291.12,344.46 L291.20,344.71 L291.28,344.79 L291.36,345.00 L291.44,345.07 L291.52,345.30 L291.60,345.40 L291.68,345.64 L291.76,345.70 L291.84,345.94 L291.92,346.07 L292.00,346.30 L292.08,346.41 L292.16,346.63 L292.24,346.73 L292.32,347.01 L292.40,347.12 L292.48,347.35 L292.56,347.48 L292.64,347.72 L292.72,347.85 L292.80,348.14 L292.88,348.27 L292.96,348.50 L293.04,348.67 L293.12,348.93 L293.20,349.07 L293.28,349.35 L293.36,349.49 L293.44,349.75 L293.52,349.87 L293.60,350.17 L293.68,350.31 L293.76,350.59 L293.84,350.74 L293.92,351.01 L294.00,351.13 L294.08,351.47 L294.16,351.59 L294.24,351.87 L294.32,352.04 L294.40,352.32 L294.48,352.51 L294.56,352.81 L294.64,352.91 L294.72,353.22 L294.80,353.41 L294.88,353.68 L294.96,353.84 L295.04,354.14 L295.12,354.34 L295.20,354.61 L295.28,354.80 L295.36,355.10 L295.44,355.27 L295.52,355.59 L295.60,355.77 L295.68,356.09 L295.76,356.27 L295.84,356.59 L295.92,356.82 L296.00,357.09 L296.08,357.32 L296.16,357.63 L296.24,357.87 L296.32,358.19 L296.40,358.40 L296.48,358.76 L296.56,358.96 L296.64,359.30 L296.72,359.56 L296.80,359.89 L296.88,360.16 L296.96,360.49 L297.04,360.72 L297.12,361.10 L297.20,361.33 L297.28,361.68 L297.36,361.95 L297.44,362.34 L297.52,362.59 L297.60,362.97 L297.68,363.25 L297.76,363.60 L297.84,363.88 L297.92,364.26 L298.00,364.58 L298.08,364.97 L298.16,365.24 L298.24,365.62 L298.32,365.94 L298.40,366.30 L298.48,366.63 L298.56,367.04 L298.64,367.31 L298.72,367.79 L298.80,368.05 L298.88,368.52 L298.96,368.80 L299.04,369.27 L299.12,369.57 L299.20,370.01 L299.28,370.32 L299.36,370.79 L299.44,371.14 L299.52,371.61 L299.60,371.94 L299.68,372.42 L299.76,372.73 L299.84,373.21 L299.92,373.56 L300.00,374.01 L300.08,374.37 L300.16,374.90 L300.24,375.27 L300.32,375.78 L300.40,376.21 L300.48,376.77 L300.56,377.15 L300.64,377.75 L300.72,378.19 L300.80,378.81 L300.88,379.26 L300.96,379.87 L301.04,380.34 L301.12,380.94 L301.20,381.44 L301.28,382.10 L301.36,382.60 L301.44,383.26 L301.52,383.78 L301.60,384.42 L301.68,384.98 L301.76,385.63 L301.84,386.19 L301.92,386.84 L302.00,387.42 L302.08,388.09 L302.16,388.67 L302.24,389.33 L302.32,390.08 L302.40,391.02 L302.48,391.88 L302.56,392.87 L302.64,393.68 L302.72,394.55 L302.80,395.17 L302.88,395.74 L302.96,395.94 L303.04,396.02 L303.12,395.67 L303.20,395.31 L303.28,394.57 L303.36,393.92 L303.44,392.98 L303.52,392.10 L303.60,391.08 L303.68,390.22 L303.76,389.25 L303.84,388.54 L303.92,387.81 L304.00,387.26 L304.08,386.51 L304.16,385.99 L304.24,385.29 L304.32,384.75 L304.40,384.07 L304.48,383.54 L304.56,382.87 L304.64,382.40 L304.72,381.78 L304.80,381.30 L304.88,380.74 L304.96,380.32 L305.04,379.78 L305.12,379.43 L305.20,378.97 L305.28,378.65 L305.36,378.24 L305.44,377.96 L305.52,377.57 L305.60,377.31 L305.68,376.96 L305.76,376.73 L305.84,376.42 L305.92,376.24" fill="none" stroke="#000" stroke-width="0.8" stroke-linejoin="round"/>
<path d="M305.20,378.88 L305.71,377.41 L306.28,374.80 L306.72,373.70 L307.36,371.12 L308.02,369.65 L308.63,367.56 L309.32,366.66 L309.92,365.26 L310.48,365.08 L311.10,363.84 L311.70,363.82 L312.40,362.59 L313.05,362.66 L313.64,361.67 L314.33,361.88 L315.14,361.33 L315.92,362.17 L316.76,361.92 L317.46,363.15 L318.33,362.97 L319.09,364.84 L319.83,364.81 L320.61,366.91 L321.44,367.45 L322.24,370.85 L323.12,372.40 L324.07,376.53 L324.96,378.44 L325.71,382.19 L326.42,383.55 L327.35,388.81 L328.00,390.95 L328.77,397.27 L329.68,391.28 L330.57,389.11 L331.31,385.67 L332.19,385.91 L333.13,382.15 L333.83,382.90 L334.53,380.45 L335.39,381.79 L336.27,378.75 L337.18,379.53 L337.84,377.36 L338.50,378.76 L339.36,376.54 L340.29,377.87 L341.21,376.86 L342.03,380.30 L342.82,379.10 L343.58,382.23 L344.36,381.51 L345.00,385.43 L345.81,384.74 L346.55,393.45 L347.44,389.03 L348.21,395.12 L349.15,392.09 L350.01,397.55 L350.67,390.90 L351.50,394.26 L352.28,388.46 L353.10,392.00 L353.99,387.01 L354.71,389.99 L355.61,385.86 L356.53,388.81 L357.37,385.33 L358.19,389.82 L359.06,386.06 L359.90,392.11 L360.70,387.14 L361.58,395.22 L362.22,388.28 L363.06,397.05 L363.70,389.81 L364.37,396.98 L365.20,392.10 L366.04,400.41 L366.95,393.56 L367.68,408.67 L368.47,394.82 L369.21,405.21 L370.03,395.34 L370.84,404.87 L371.68,395.61 L372.39,403.25 L373.06,395.53 L373.90,408.86 L374.54,395.88 L375.46,405.35 L376.34,395.44 L377.01,403.22 L377.64,395.36 L378.37,400.72 L379.03,394.83 L379.81,398.35 L380.70,393.73 L381.60,397.21 L382.34,393.73 L383.04,396.88 L383.74,395.05 L384.61,405.25 L385.26,397.41 L386.15,407.53 L386.82,402.25 L387.44,414.11 L388.12,401.22 L388.88,407.91 L389.51,398.11 L390.38,400.50 L391.20,394.59 L391.90,396.38 L392.77,391.70 L393.54,393.01 L394.38,389.99 L395.23,392.33 L395.96,390.19 L396.62,393.77 L397.34,391.97 L398.01,399.01 L398.78,395.31 L399.55,407.63 L400.16,401.09 L401.01,412.86 L401.82,400.33 L402.67,410.84 L403.56,396.21 L404.40,399.34 L405.25,393.57 L406.06,395.90 L406.70,392.61 L407.36,396.66 L407.99,394.23 L408.61,399.99 L409.26,396.56 L410.08,403.13 L410.79,402.13 L411.50,411.82 L412.26,406.07 L412.90,411.70 L413.60,402.03 L414.43,406.33 L415.16,398.34 L415.79,401.90 L416.39,394.94 L417.26,396.90 L418.09,392.77 L418.73,397.95 L419.34,394.69 L420.20,401.31 L420.83,398.05 L421.67,409.85 L422.41,402.83 L423.24,411.77 L423.85,405.23 L424.64,414.95 L425.34,403.13 L426.07,409.07 L426.84,400.33 L427.57,409.82 L428.29,397.96 L429.15,409.35 L429.82,399.31 L430.60,409.66 L431.26,401.59 L431.87,415.52 L432.59,403.82 L433.23,418.89 L434.05,406.30 L434.86,421.11 L435.71,410.12 L436.56,416.39 L437.22,411.86 L437.92,420.94 L438.62,411.64 L439.47,417.05 L440.11,410.90 L440.90,423.66 L441.70,407.29 L442.35,412.67 L443.01,404.80 L443.77,417.98 L444.47,409.53 L445.08,424.21 L445.86,411.42 L446.65,418.07 L447.28,412.29 L447.93,423.29 L448.69,406.24 L449.41,413.27 L449.98,402.96 L450.82,415.79 L451.65,402.83 L452.50,415.33 L453.07,404.63 L453.90,414.16 L454.55,402.18 L455.32,410.08 L456.02,397.86 L456.81,410.31 L457.47,398.09 L458.07,415.12 L458.87,402.00 L459.61,414.09 L460.31,405.54 L460.50,412.91" fill="none" stroke="#000" stroke-width="1.25" stroke-linejoin="round"/>
<path d="M72.00,304.80 L72.50,304.82 L73.00,304.84 L73.50,304.86 L74.00,304.88 L74.50,304.90 L75.00,304.92 L75.50,304.94 L76.00,304.96 L76.50,304.98 L77.00,305.00 L77.50,305.02 L78.00,305.04 L78.50,305.06 L79.00,305.08 L79.50,305.10 L80.00,305.12 L80.50,305.14 L81.00,305.16 L81.50,305.18 L82.00,305.20 L82.50,305.22 L83.00,305.24 L83.50,305.26 L84.00,305.28 L84.50,305.30 L85.00,305.32 L85.50,305.34 L86.00,305.36 L86.50,305.38 L87.00,305.39 L87.50,305.41 L88.00,305.43 L88.50,305.45 L89.00,305.47 L89.50,305.49 L90.00,305.51 L90.50,305.53 L91.00,305.55 L91.50,305.57 L92.00,305.59 L92.50,305.61 L93.00,305.63 L93.50,305.65 L94.00,305.67 L94.50,305.69 L95.00,305.70 L95.50,305.72 L96.00,305.74 L96.50,305.76 L97.00,305.78 L97.50,305.80 L98.00,305.82 L98.50,305.84 L99.00,305.86 L99.50,305.88 L100.00,305.90 L100.50,305.92 L101.00,305.93 L101.50,305.95 L102.00,305.97 L102.50,305.99 L103.00,306.01 L103.50,306.03 L104.00,306.05 L104.50,306.07 L105.00,306.09 L105.50,306.10 L106.00,306.12 L106.50,306.14 L107.00,306.16 L107.50,306.18 L108.00,306.20 L108.50,306.22 L109.00,306.24 L109.50,306.25 L110.00,306.27 L110.50,306.29 L111.00,306.31 L111.50,306.33 L112.00,306.35 L112.50,306.37 L113.00,306.38 L113.50,306.40 L114.00,306.42 L114.50,306.44 L115.00,306.46 L115.50,306.48 L116.00,306.49 L116.50,306.51 L117.00,306.53 L117.50,306.55 L118.00,306.57 L118.50,306.59 L119.00,306.60 L119.50,306.62 L120.00,306.64 L120.50,306.66 L121.00,306.68 L121.50,306.70 L122.00,306.71 L122.50,306.73 L123.00,306.75 L123.50,306.77 L124.00,306.79 L124.50,306.80 L125.00,306.82 L125.50,306.84 L126.00,306.86 L126.50,306.88 L127.00,306.89 L127.50,306.91 L128.00,306.93 L128.50,306.95 L129.00,306.96 L129.50,306.98 L130.00,307.00 L130.50,307.02 L131.00,307.04 L131.50,307.05 L132.00,307.07 L132.50,307.09 L133.00,307.11 L133.50,307.12 L134.00,307.14 L134.50,307.16 L135.00,307.17 L135.50,307.19 L136.00,307.21 L136.50,307.23 L137.00,307.24 L137.50,307.26 L138.00,307.28 L138.50,307.29 L139.00,307.31 L139.50,307.33 L140.00,307.34 L140.50,307.36 L141.00,307.38 L141.50,307.39 L142.00,307.41 L142.50,307.43 L143.00,307.44 L143.50,307.46 L144.00,307.48 L144.50,307.49 L145.00,307.51 L145.50,307.53 L146.00,307.54 L146.50,307.56 L147.00,307.57 L147.50,307.59 L148.00,307.61 L148.50,307.62 L149.00,307.64 L149.50,307.66 L150.00,307.67 L150.50,307.69 L151.00,307.70 L151.50,307.72 L152.00,307.74 L152.50,307.75 L153.00,307.77 L153.50,307.78 L154.00,307.80 L154.50,307.82 L155.00,307.83 L155.50,307.85 L156.00,307.86 L156.50,307.88 L157.00,307.90 L157.50,307.91 L158.00,307.93 L158.50,307.94 L159.00,307.96 L159.50,307.98 L160.00,307.99 L160.50,308.01 L161.00,308.02 L161.50,308.04 L162.00,308.06 L162.50,308.07 L163.00,308.09 L163.50,308.10 L164.00,308.12 L164.50,308.14 L165.00,308.15 L165.50,308.17 L166.00,308.19 L166.50,308.20 L167.00,308.22 L167.50,308.23 L168.00,308.25 L168.50,308.27 L169.00,308.28 L169.50,308.30 L170.00,308.32 L170.50,308.33 L171.00,308.35 L171.50,308.36 L172.00,308.38 L172.50,308.40 L173.00,308.41 L173.50,308.43 L174.00,308.45 L174.50,308.46 L175.00,308.48 L175.50,308.50 L176.00,308.51 L176.50,308.53 L177.00,308.55 L177.50,308.56 L178.00,308.58 L178.50,308.60 L179.00,308.61 L179.50,308.63 L180.00,308.65 L180.50,308.67 L181.00,308.68 L181.50,308.70 L182.00,308.72 L182.50,308.73 L183.00,308.75 L183.50,308.77 L184.00,308.79 L184.50,308.80 L185.00,308.82 L185.50,308.84 L186.00,308.86 L186.50,308.87 L187.00,308.89 L187.50,308.91 L188.00,308.93 L188.50,308.95 L189.00,308.96 L189.50,308.98 L190.00,309.00 L190.50,309.02 L191.00,309.04 L191.50,309.05 L192.00,309.07 L192.50,309.09 L193.00,309.11 L193.50,309.13 L194.00,309.15 L194.50,309.17 L195.00,309.18 L195.50,309.20 L196.00,309.22 L196.50,309.24 L197.00,309.26 L197.50,309.28 L198.00,309.30 L198.50,309.31 L199.00,309.33 L199.50,309.35 L200.00,309.37 L200.50,309.39 L201.00,309.41 L201.50,309.43 L202.00,309.45 L202.50,309.47 L203.00,309.48 L203.50,309.50 L204.00,309.52 L204.50,309.54 L205.00,309.56 L205.50,309.58 L206.00,309.60 L206.50,309.62 L207.00,309.64 L207.50,309.66 L208.00,309.68 L208.50,309.70 L209.00,309.72 L209.50,309.74 L210.00,309.75 L210.50,309.77 L211.00,309.79 L211.50,309.81 L212.00,309.83 L212.50,309.85 L213.00,309.87 L213.50,309.89 L214.00,309.91 L214.50,309.93 L215.00,309.95 L215.50,309.97 L216.00,309.99 L216.50,310.01 L217.00,310.03 L217.50,310.05 L218.00,310.07 L218.50,310.09 L219.00,310.11 L219.50,310.13 L220.00,310.15 L220.50,310.17 L221.00,310.19 L221.50,310.21 L222.00,310.24 L222.50,310.26 L223.00,310.28 L223.50,310.30 L224.00,310.32 L224.50,310.34 L225.00,310.36 L225.50,310.38 L226.00,310.40 L226.50,310.42 L227.00,310.44 L227.50,310.46 L228.00,310.48 L228.50,310.50 L229.00,310.53 L229.50,310.55 L230.00,310.57 L230.50,310.59 L231.00,310.61 L231.50,310.63 L232.00,310.65 L232.50,310.67 L233.00,310.70 L233.50,310.72 L234.00,310.74 L234.50,310.76 L235.00,310.78 L235.50,310.80 L236.00,310.83 L236.50,310.85 L237.00,310.87 L237.50,310.89 L238.00,310.91 L238.50,310.93 L239.00,310.96 L239.50,310.98 L240.00,311.00 L240.50,311.02 L241.00,311.04 L241.50,311.07 L242.00,311.09 L242.50,311.11 L243.00,311.14 L243.50,311.16 L244.00,311.18 L244.50,311.21 L245.00,311.23 L245.50,311.25 L246.00,311.28 L246.50,311.30 L247.00,311.33 L247.50,311.35 L248.00,311.38 L248.50,311.40 L249.00,311.43 L249.50,311.45 L250.00,311.48 L250.50,311.50 L251.00,311.53 L251.50,311.55 L252.00,311.57 L252.50,311.60 L253.00,311.62 L253.50,311.65 L254.00,311.67 L254.50,311.70 L255.00,311.72 L255.50,311.75 L256.00,311.77 L256.50,311.80 L257.00,311.82 L257.50,311.85 L258.00,311.87 L258.50,311.90 L259.00,311.92 L259.50,311.95 L260.00,311.97 L260.50,311.99 L261.00,312.02 L261.50,312.04 L262.00,312.06" fill="none" stroke="#ff2020" stroke-width="0.75" stroke-dasharray="6.5 4.5"/>
<path d="M266.00,312.24 L266.50,312.27 L267.00,312.29 L267.50,312.31 L268.00,312.33 L268.50,312.35 L269.00,312.38 L269.50,312.40 L270.00,312.42 L270.50,312.44 L271.00,312.46 L271.50,312.48 L272.00,312.51 L272.50,312.53 L273.00,312.55 L273.50,312.57 L274.00,312.59 L274.50,312.61 L275.00,312.63 L275.50,312.66 L276.00,312.68 L276.50,312.70 L277.00,312.72 L277.50,312.74 L278.00,312.76 L278.50,312.78 L279.00,312.80 L279.50,312.82 L280.00,312.84 L280.50,312.86 L281.00,312.88 L281.50,312.90 L282.00,312.92 L282.50,312.94 L283.00,312.96 L283.50,312.98 L284.00,313.00 L284.50,313.02 L285.00,313.04 L285.50,313.06 L286.00,313.08 L286.50,313.10 L287.00,313.12 L287.50,313.14 L288.00,313.16 L288.50,313.17 L289.00,313.19 L289.50,313.21 L290.00,313.23 L290.50,313.25 L291.00,313.26 L291.50,313.28 L292.00,313.30 L292.50,313.32 L293.00,313.33 L293.50,313.35 L294.00,313.37 L294.50,313.38 L295.00,313.40 L295.50,313.41 L296.00,313.43 L296.50,313.44 L297.00,313.46 L297.50,313.47 L298.00,313.49 L298.50,313.50 L299.00,313.52 L299.50,313.53 L300.00,313.54 L300.50,313.56 L301.00,313.57 L301.50,313.59 L302.00,313.60 L302.50,313.61 L303.00,313.63 L303.50,313.64 L304.00,313.65 L304.50,313.67 L305.00,313.68 L305.50,313.70 L306.00,313.71 L306.50,313.72 L307.00,313.74 L307.50,313.75 L308.00,313.77 L308.50,313.78 L309.00,313.80 L309.50,313.81 L310.00,313.83 L310.50,313.84 L311.00,313.86 L311.50,313.88 L312.00,313.89 L312.50,313.91 L313.00,313.93 L313.50,313.94 L314.00,313.96 L314.50,313.98 L315.00,314.00 L315.50,314.02 L316.00,314.04 L316.50,314.06 L317.00,314.08 L317.50,314.10 L318.00,314.13 L318.50,314.15 L319.00,314.17 L319.50,314.20 L320.00,314.22 L320.50,314.25 L321.00,314.27 L321.50,314.30 L322.00,314.33 L322.50,314.35 L323.00,314.38 L323.50,314.41 L324.00,314.43 L324.50,314.46 L325.00,314.49 L325.50,314.52 L326.00,314.55 L326.50,314.58 L327.00,314.60 L327.50,314.63 L328.00,314.66 L328.50,314.69 L329.00,314.72 L329.50,314.75 L330.00,314.78 L330.50,314.80 L331.00,314.83 L331.50,314.86 L332.00,314.89 L332.50,314.92 L333.00,314.95 L333.50,314.97 L334.00,315.00 L334.50,315.03 L335.00,315.06 L335.50,315.08 L336.00,315.11 L336.50,315.13 L337.00,315.16 L337.50,315.18 L338.00,315.21 L338.50,315.23 L339.00,315.25 L339.50,315.28 L340.00,315.30 L340.50,315.32 L341.00,315.34 L341.50,315.37 L342.00,315.39 L342.50,315.41 L343.00,315.44 L343.50,315.46 L344.00,315.49 L344.50,315.51 L345.00,315.53 L345.50,315.56 L346.00,315.58 L346.50,315.61 L347.00,315.63 L347.50,315.66 L348.00,315.68 L348.50,315.71 L349.00,315.74 L349.50,315.76 L350.00,315.79 L350.50,315.81 L351.00,315.84 L351.50,315.86 L352.00,315.89 L352.50,315.91 L353.00,315.93 L353.50,315.96 L354.00,315.98 L354.50,316.01 L355.00,316.03 L355.50,316.05 L356.00,316.08 L356.50,316.10 L357.00,316.12 L357.50,316.14 L358.00,316.16 L358.50,316.18 L359.00,316.20 L359.50,316.22 L360.00,316.24 L360.50,316.26 L361.00,316.28 L361.50,316.30 L362.00,316.32 L362.50,316.33 L363.00,316.35 L363.50,316.36 L364.00,316.38 L364.50,316.39 L365.00,316.41 L365.50,316.42 L366.00,316.43 L366.50,316.44 L367.00,316.45 L367.50,316.46 L368.00,316.47 L368.50,316.48 L369.00,316.48 L369.50,316.49 L370.00,316.49 L370.50,316.50 L371.00,316.50 L371.50,316.50 L372.00,316.50 L372.50,316.50 L373.00,316.49 L373.50,316.49 L374.00,316.47 L374.50,316.46 L375.00,316.44 L375.50,316.43 L376.00,316.40 L376.50,316.38 L377.00,316.35 L377.50,316.33 L378.00,316.30 L378.50,316.26 L379.00,316.23 L379.50,316.19 L380.00,316.16 L380.50,316.12 L381.00,316.08 L381.50,316.04 L382.00,316.00 L382.50,315.96 L383.00,315.91 L383.50,315.87 L384.00,315.82 L384.50,315.78 L385.00,315.73 L385.50,315.69 L386.00,315.65 L386.50,315.60 L387.00,315.56 L387.50,315.51 L388.00,315.47 L388.50,315.42 L389.00,315.38 L389.50,315.34 L390.00,315.30 L390.50,315.26 L391.00,315.22 L391.50,315.17 L392.00,315.13 L392.50,315.08 L393.00,315.04 L393.50,314.99 L394.00,314.94 L394.50,314.89 L395.00,314.84 L395.50,314.79 L396.00,314.74 L396.50,314.69 L397.00,314.63 L397.50,314.58 L398.00,314.53 L398.50,314.47 L399.00,314.42 L399.50,314.37 L400.00,314.31 L400.50,314.26 L401.00,314.21 L401.50,314.15 L402.00,314.10 L402.50,314.05 L403.00,313.99 L403.50,313.94 L404.00,313.89 L404.50,313.84 L405.00,313.79 L405.50,313.74 L406.00,313.69 L406.50,313.64 L407.00,313.59 L407.50,313.55 L408.00,313.50 L408.50,313.46 L409.00,313.41 L409.50,313.37 L410.00,313.32 L410.50,313.28 L411.00,313.24 L411.50,313.19 L412.00,313.15 L412.50,313.11 L413.00,313.06 L413.50,313.02 L414.00,312.98" fill="none" stroke="#ff2020" stroke-width="0.75" stroke-dasharray="11 4"/>
<path d="M414.00,312.98 L414.50,312.94 L415.00,312.89 L415.50,312.85 L416.00,312.81 L416.50,312.77 L417.00,312.73 L417.50,312.69 L418.00,312.65 L418.50,312.61 L419.00,312.56 L419.50,312.52 L420.00,312.48 L420.50,312.44 L421.00,312.40 L421.50,312.36 L422.00,312.33 L422.50,312.29 L423.00,312.25 L423.50,312.21 L424.00,312.17 L424.50,312.13 L425.00,312.09 L425.50,312.05 L426.00,312.02 L426.50,311.98 L427.00,311.94 L427.50,311.90 L428.00,311.87 L428.50,311.83 L429.00,311.79 L429.50,311.75 L430.00,311.72 L430.50,311.68 L431.00,311.64 L431.50,311.61 L432.00,311.57 L432.50,311.54 L433.00,311.50 L433.50,311.46 L434.00,311.42 L434.50,311.38 L435.00,311.34 L435.50,311.29 L436.00,311.25 L436.50,311.20 L437.00,311.16 L437.50,311.12 L438.00,311.09 L438.50,311.06 L439.00,311.03 L439.50,311.02 L440.00,311.00 L440.50,311.00 L441.00,311.07 L441.50,311.27 L442.00,311.58 L442.50,311.96 L443.00,312.39 L443.50,312.85 L444.00,313.30 L444.50,313.79 L445.00,314.37 L445.50,315.03 L446.00,315.75 L446.50,316.53 L447.00,317.35 L447.50,318.21 L448.00,319.09 L448.50,319.99 L449.00,320.89 L449.50,321.78 L450.00,322.65 L450.50,323.50 L451.00,324.34 L451.50,325.19 L452.00,326.05 L452.50,326.93 L453.00,327.81 L453.50,328.70 L454.00,329.60 L454.50,330.50 L455.00,331.40 L455.50,332.31 L456.00,333.21 L456.50,334.11 L457.00,335.00 L457.50,335.89 L458.00,336.77 L458.50,337.64 L459.00,338.50 L459.50,339.34 L460.00,340.17 L460.50,341.00" fill="none" stroke="#ff2020" stroke-width="0.75"/>
<path d="M60.00,383.06 L60.50,383.07 L61.00,383.08 L61.50,383.09 L62.00,383.10 L62.50,383.11 L63.00,383.12 L63.50,383.14 L64.00,383.15 L64.50,383.16 L65.00,383.18 L65.50,383.19 L66.00,383.21 L66.50,383.22 L67.00,383.24 L67.50,383.26 L68.00,383.27 L68.50,383.29 L69.00,383.30 L69.50,383.32 L70.00,383.34 L70.50,383.35 L71.00,383.37 L71.50,383.38 L72.00,383.40 L72.50,383.42 L73.00,383.43 L73.50,383.45 L74.00,383.46 L74.50,383.48 L75.00,383.50 L75.50,383.51 L76.00,383.53 L76.50,383.54 L77.00,383.56 L77.50,383.58 L78.00,383.59 L78.50,383.61 L79.00,383.62 L79.50,383.64 L80.00,383.66 L80.50,383.67 L81.00,383.69 L81.50,383.70 L82.00,383.72 L82.50,383.74 L83.00,383.75 L83.50,383.77 L84.00,383.78 L84.50,383.80 L85.00,383.82 L85.50,383.83 L86.00,383.85 L86.50,383.86 L87.00,383.88 L87.50,383.90 L88.00,383.91 L88.50,383.93 L89.00,383.94 L89.50,383.96 L90.00,383.98 L90.50,383.99 L91.00,384.01 L91.50,384.02 L92.00,384.04 L92.50,384.06 L93.00,384.07 L93.50,384.09 L94.00,384.11 L94.50,384.12 L95.00,384.14 L95.50,384.15 L96.00,384.17 L96.50,384.19 L97.00,384.20 L97.50,384.22 L98.00,384.24 L98.50,384.25 L99.00,384.27 L99.50,384.28 L100.00,384.30 L100.50,384.32 L101.00,384.33 L101.50,384.35 L102.00,384.37 L102.50,384.38 L103.00,384.40 L103.50,384.41 L104.00,384.43 L104.50,384.45 L105.00,384.46 L105.50,384.48 L106.00,384.50 L106.50,384.51 L107.00,384.53 L107.50,384.55 L108.00,384.56 L108.50,384.58 L109.00,384.60 L109.50,384.61 L110.00,384.63 L110.50,384.65 L111.00,384.66 L111.50,384.68 L112.00,384.70 L112.50,384.71 L113.00,384.73 L113.50,384.74 L114.00,384.76 L114.50,384.78 L115.00,384.79 L115.50,384.81 L116.00,384.83 L116.50,384.84 L117.00,384.86 L117.50,384.88 L118.00,384.89 L118.50,384.91 L119.00,384.93 L119.50,384.95 L120.00,384.96 L120.50,384.98 L121.00,385.00 L121.50,385.01 L122.00,385.03 L122.50,385.05 L123.00,385.06 L123.50,385.08 L124.00,385.10 L124.50,385.11 L125.00,385.13 L125.50,385.15 L126.00,385.16 L126.50,385.18 L127.00,385.20 L127.50,385.22 L128.00,385.23 L128.50,385.25 L129.00,385.27 L129.50,385.28 L130.00,385.30 L130.50,385.32 L131.00,385.34 L131.50,385.35 L132.00,385.37 L132.50,385.39 L133.00,385.41 L133.50,385.43 L134.00,385.44 L134.50,385.46 L135.00,385.48 L135.50,385.50 L136.00,385.52 L136.50,385.53 L137.00,385.55 L137.50,385.57 L138.00,385.59 L138.50,385.61 L139.00,385.62 L139.50,385.64 L140.00,385.66 L140.50,385.68 L141.00,385.70 L141.50,385.71 L142.00,385.73 L142.50,385.75 L143.00,385.77 L143.50,385.78 L144.00,385.80 L144.50,385.82 L145.00,385.84 L145.50,385.85 L146.00,385.87 L146.50,385.89 L147.00,385.90 L147.50,385.92 L148.00,385.94 L148.50,385.95 L149.00,385.97 L149.50,385.98 L150.00,386.00 L150.50,386.02 L151.00,386.03 L151.50,386.05 L152.00,386.07 L152.50,386.08 L153.00,386.10 L153.50,386.12 L154.00,386.13 L154.50,386.15 L155.00,386.16 L155.50,386.18 L156.00,386.20 L156.50,386.21 L157.00,386.23 L157.50,386.24 L158.00,386.25 L158.50,386.27 L159.00,386.28 L159.50,386.29 L160.00,386.30 L160.50,386.31 L161.00,386.32 L161.50,386.33 L162.00,386.33 L162.50,386.33 L163.00,386.33 L163.50,386.33 L164.00,386.33 L164.50,386.32 L165.00,386.31 L165.50,386.29 L166.00,386.28 L166.50,386.25 L167.00,386.23 L167.50,386.20 L168.00,386.17 L168.50,386.13 L169.00,386.09 L169.50,386.04 L170.00,385.99 L170.50,385.94 L171.00,385.88 L171.50,385.82 L172.00,385.76 L172.50,385.69 L173.00,385.62 L173.50,385.55 L174.00,385.47 L174.50,385.40 L175.00,385.32 L175.50,385.23 L176.00,385.14 L176.50,385.05 L177.00,384.96 L177.50,384.87 L178.00,384.77 L178.50,384.66 L179.00,384.56 L179.50,384.45 L180.00,384.34 L180.50,384.22 L181.00,384.10 L181.50,383.98 L182.00,383.86 L182.50,383.73 L183.00,383.60 L183.50,383.47 L184.00,383.33 L184.50,383.19 L185.00,383.05 L185.50,382.90 L186.00,382.75 L186.50,382.60 L187.00,382.44 L187.50,382.29 L188.00,382.12 L188.50,381.96 L189.00,381.79 L189.50,381.61 L190.00,381.43 L190.50,381.25 L191.00,381.07 L191.50,380.88 L192.00,380.68 L192.50,380.48 L193.00,380.28 L193.50,380.07 L194.00,379.86 L194.50,379.65 L195.00,379.43 L195.50,379.21 L196.00,378.98 L196.50,378.75 L197.00,378.52 L197.50,378.28 L198.00,378.05 L198.50,377.81 L199.00,377.57 L199.50,377.33 L200.00,377.09 L200.50,376.84 L201.00,376.60 L201.50,376.35 L202.00,376.11 L202.50,375.86 L203.00,375.61 L203.50,375.36 L204.00,375.11 L204.50,374.86 L205.00,374.61 L205.50,374.36 L206.00,374.11 L206.50,373.86 L207.00,373.60 L207.50,373.35 L208.00,373.09 L208.50,372.83 L209.00,372.57 L209.50,372.31 L210.00,372.05 L210.50,371.79 L211.00,371.52 L211.50,371.26 L212.00,370.99 L212.50,370.72 L213.00,370.46 L213.50,370.19 L214.00,369.92 L214.50,369.65 L215.00,369.38 L215.50,369.11 L216.00,368.84 L216.50,368.57 L217.00,368.30 L217.50,368.03 L218.00,367.76 L218.50,367.48 L219.00,367.21 L219.50,366.94 L220.00,366.67 L220.50,366.41 L221.00,366.14 L221.50,365.87 L222.00,365.60 L222.50,365.33 L223.00,365.06 L223.50,364.79 L224.00,364.52 L224.50,364.25 L225.00,363.98 L225.50,363.72 L226.00,363.45 L226.50,363.18 L227.00,362.91 L227.50,362.64 L228.00,362.37 L228.50,362.10 L229.00,361.83 L229.50,361.56 L230.00,361.29 L230.50,361.02 L231.00,360.75 L231.50,360.48 L232.00,360.21 L232.50,359.94 L233.00,359.67 L233.50,359.39 L234.00,359.12 L234.50,358.85 L235.00,358.58 L235.50,358.32 L236.00,358.05 L236.50,357.78 L237.00,357.51 L237.50,357.25 L238.00,356.98 L238.50,356.72 L239.00,356.45 L239.50,356.19 L240.00,355.93 L240.50,355.67 L241.00,355.42 L241.50,355.16 L242.00,354.90 L242.50,354.65 L243.00,354.39 L243.50,354.14 L244.00,353.89 L244.50,353.64 L245.00,353.39 L245.50,353.14 L246.00,352.89 L246.50,352.64 L247.00,352.39 L247.50,352.14 L248.00,351.90 L248.50,351.65 L249.00,351.41 L249.50,351.16 L250.00,350.92 L250.50,350.68 L251.00,350.43 L251.50,350.19 L252.00,349.95 L252.50,349.71 L253.00,349.47 L253.50,349.23 L254.00,348.99 L254.50,348.75 L255.00,348.51 L255.50,348.27 L256.00,348.03 L256.50,347.80 L257.00,347.56 L257.50,347.32 L258.00,347.09 L258.50,346.85 L259.00,346.61 L259.50,346.38 L260.00,346.14 L260.50,345.91 L261.00,345.67 L261.50,345.44 L262.00,345.20 L262.50,344.97 L263.00,344.74 L263.50,344.50 L264.00,344.27 L264.50,344.04 L265.00,343.80 L265.50,343.57 L266.00,343.34 L266.50,343.10 L267.00,342.87 L267.50,342.64 L268.00,342.41 L268.50,342.18 L269.00,341.94 L269.50,341.71 L270.00,341.48 L270.50,341.25 L271.00,341.02 L271.50,340.79 L272.00,340.56 L272.50,340.33 L273.00,340.10 L273.50,339.87 L274.00,339.64 L274.50,339.41 L275.00,339.18 L275.50,338.95 L276.00,338.72 L276.50,338.50 L277.00,338.27 L277.50,338.04 L278.00,337.82 L278.50,337.59 L279.00,337.37 L279.50,337.15 L280.00,336.92 L280.50,336.70 L281.00,336.48 L281.50,336.26 L282.00,336.04 L282.50,335.82 L283.00,335.60 L283.50,335.38 L284.00,335.16 L284.50,334.95 L285.00,334.73 L285.50,334.52 L286.00,334.30 L286.50,334.09 L287.00,333.88 L287.50,333.67 L288.00,333.46 L288.50,333.25 L289.00,333.04 L289.50,332.83 L290.00,332.63 L290.50,332.42 L291.00,332.22 L291.50,332.02 L292.00,331.81 L292.50,331.61 L293.00,331.41 L293.50,331.22 L294.00,331.02 L294.50,330.82 L295.00,330.62 L295.50,330.43 L296.00,330.24 L296.50,330.04 L297.00,329.85 L297.50,329.66 L298.00,329.47 L298.50,329.27 L299.00,329.08 L299.50,328.89 L300.00,328.70 L300.50,328.52 L301.00,328.33 L301.50,328.14 L302.00,327.95 L302.50,327.76 L303.00,327.57 L303.50,327.39 L304.00,327.20 L304.50,327.01 L305.00,326.82 L305.50,326.64 L306.00,326.45 L306.50,326.26 L307.00,326.08 L307.50,325.89 L308.00,325.70 L308.50,325.52 L309.00,325.33 L309.50,325.14 L310.00,324.96 L310.50,324.77 L311.00,324.58 L311.50,324.40 L312.00,324.21 L312.50,324.03 L313.00,323.84 L313.50,323.66 L314.00,323.47 L314.50,323.29 L315.00,323.10 L315.50,322.92 L316.00,322.73 L316.50,322.55 L317.00,322.37 L317.50,322.18 L318.00,322.00 L318.50,321.81 L319.00,321.63 L319.50,321.44 L320.00,321.26 L320.50,321.07 L321.00,320.89 L321.50,320.70 L322.00,320.51 L322.50,320.33 L323.00,320.14 L323.50,319.95 L324.00,319.77 L324.50,319.58 L325.00,319.39 L325.50,319.20 L326.00,319.01 L326.50,318.82 L327.00,318.63 L327.50,318.44 L328.00,318.25 L328.50,318.06 L329.00,317.87 L329.50,317.68 L330.00,317.48 L330.50,317.29 L331.00,317.10 L331.50,316.91 L332.00,316.71 L332.50,316.52 L333.00,316.33 L333.50,316.13 L334.00,315.94 L334.50,315.74 L335.00,315.55 L335.50,315.36 L336.00,315.16 L336.50,314.97 L337.00,314.77 L337.50,314.58 L338.00,314.38 L338.50,314.19 L339.00,314.00 L339.50,313.80 L340.00,313.61 L340.50,313.42 L341.00,313.22 L341.50,313.03 L342.00,312.84 L342.50,312.65 L343.00,312.45 L343.50,312.26 L344.00,312.07 L344.50,311.88 L345.00,311.69 L345.50,311.50 L346.00,311.31 L346.50,311.12 L347.00,310.93 L347.50,310.75 L348.00,310.56 L348.50,310.37 L349.00,310.18 L349.50,310.00 L350.00,309.81 L350.50,309.63 L351.00,309.44 L351.50,309.26 L352.00,309.08 L352.50,308.89 L353.00,308.71 L353.50,308.53 L354.00,308.35 L354.50,308.17 L355.00,307.98 L355.50,307.80 L356.00,307.62 L356.50,307.44 L357.00,307.26 L357.50,307.08 L358.00,306.91 L358.50,306.73 L359.00,306.55 L359.50,306.37 L360.00,306.19 L360.50,306.01 L361.00,305.84 L361.50,305.66 L362.00,305.48 L362.50,305.31 L363.00,305.13 L363.50,304.95 L364.00,304.78 L364.50,304.60 L365.00,304.42 L365.50,304.25 L366.00,304.07 L366.50,303.89 L367.00,303.72 L367.50,303.54 L368.00,303.37 L368.50,303.19 L369.00,303.01 L369.50,302.84 L370.00,302.66 L370.50,302.49 L371.00,302.31 L371.50,302.13 L372.00,301.96 L372.50,301.78 L373.00,301.60 L373.50,301.43 L374.00,301.25 L374.50,301.08 L375.00,300.90 L375.50,300.72 L376.00,300.55 L376.50,300.37 L377.00,300.19 L377.50,300.02 L378.00,299.84 L378.50,299.66 L379.00,299.49 L379.50,299.31 L380.00,299.14 L380.50,298.96 L381.00,298.78 L381.50,298.61 L382.00,298.43 L382.50,298.26 L383.00,298.08 L383.50,297.90 L384.00,297.73 L384.50,297.55 L385.00,297.38 L385.50,297.20 L386.00,297.03 L386.50,296.85 L387.00,296.67 L387.50,296.50 L388.00,296.32 L388.50,296.15 L389.00,295.97 L389.50,295.80 L390.00,295.62 L390.50,295.44 L391.00,295.27 L391.50,295.09 L392.00,294.92 L392.50,294.74 L393.00,294.57 L393.50,294.39 L394.00,294.21 L394.50,294.04 L395.00,293.86 L395.50,293.69 L396.00,293.51 L396.50,293.33 L397.00,293.16 L397.50,292.98 L398.00,292.80 L398.50,292.63 L399.00,292.45 L399.50,292.28 L400.00,292.10 L400.50,291.92 L401.00,291.75 L401.50,291.57 L402.00,291.39 L402.50,291.22 L403.00,291.04 L403.50,290.86 L404.00,290.68 L404.50,290.51 L405.00,290.33 L405.50,290.15 L406.00,289.98 L406.50,289.80 L407.00,289.62 L407.50,289.45 L408.00,289.27 L408.50,289.09 L409.00,288.91 L409.50,288.74 L410.00,288.56 L410.50,288.38 L411.00,288.20 L411.50,288.03 L412.00,287.85 L412.50,287.67 L413.00,287.49 L413.50,287.32 L414.00,287.14 L414.50,286.96 L415.00,286.79 L415.50,286.61 L416.00,286.43 L416.50,286.25 L417.00,286.08 L417.50,285.90 L418.00,285.72 L418.50,285.54 L419.00,285.37 L419.50,285.19 L420.00,285.01 L420.50,284.83 L421.00,284.66 L421.50,284.48 L422.00,284.30 L422.50,284.12 L423.00,283.94 L423.50,283.77 L424.00,283.59 L424.50,283.41 L425.00,283.23 L425.50,283.06 L426.00,282.88 L426.50,282.70 L427.00,282.52 L427.50,282.35 L428.00,282.17 L428.50,281.99 L429.00,281.81 L429.50,281.64 L430.00,281.46 L430.50,281.28 L431.00,281.10 L431.50,280.92 L432.00,280.75 L432.50,280.57 L433.00,280.39 L433.50,280.21 L434.00,280.04 L434.50,279.86 L435.00,279.68 L435.50,279.50 L436.00,279.32 L436.50,279.15 L437.00,278.97 L437.50,278.79 L438.00,278.61 L438.50,278.43 L439.00,278.26 L439.50,278.08 L440.00,277.90 L440.50,277.72 L441.00,277.54 L441.50,277.37 L442.00,277.19 L442.50,277.01 L443.00,276.83 L443.50,276.65 L444.00,276.47 L444.50,276.30 L445.00,276.12 L445.50,275.94 L446.00,275.76 L446.50,275.58 L447.00,275.41 L447.50,275.23 L448.00,275.05 L448.50,274.87 L449.00,274.69 L449.50,274.51 L450.00,274.34 L450.50,274.16 L451.00,273.98 L451.50,273.80 L452.00,273.62 L452.50,273.44 L453.00,273.26 L453.50,273.09 L454.00,272.91 L454.50,272.73 L455.00,272.55 L455.50,272.37 L456.00,272.19 L456.50,272.01 L457.00,271.83 L457.50,271.65 L458.00,271.48 L458.50,271.30 L459.00,271.12 L459.50,270.94 L460.00,270.76 L460.50,270.58 L461.00,270.40 L461.50,270.22 L462.00,270.04 L462.50,269.86 L463.00,269.68 L463.50,269.50 L464.00,269.32 L464.50,269.14 L465.00,268.96 L465.50,268.78 L466.00,268.60 L466.50,268.42 L467.00,268.25 L467.50,268.07 L468.00,267.89 L468.50,267.72 L469.00,267.55 L469.50,267.38 L470.00,267.22 L470.50,267.06 L471.00,266.90 L471.50,266.75 L472.00,266.61 L472.50,266.48 L473.00,266.35 L473.50,266.24 L474.00,266.13 L474.50,266.04" fill="none" stroke="#0000ff" stroke-width="2.0" stroke-linejoin="round"/>
</g>
<path d="M72.45,284.05V413.75" stroke="#767676" stroke-width="0.95" fill="none"/>
<path d="M72.0,284.5H461.05" stroke="#5c5c5c" stroke-width="0.9" fill="none"/>
<path d="M72.0,413.3H461.05" stroke="#585858" stroke-width="0.9" fill="none"/>
<path d="M460.6,284.05V413.75" stroke="#3c3c3c" stroke-width="1" fill="none"/>
<text x="34.0" y="310.70" class="tl" textLength="14.6">10</text>
<text x="49.0" y="307.00" class="sup" textLength="16.0" lengthAdjust="spacingAndGlyphs">−21</text>
<text x="34.0" y="362.05" class="tl" textLength="14.6">10</text>
<text x="49.0" y="358.35" class="sup" textLength="16.0" lengthAdjust="spacingAndGlyphs">−22</text>
<text x="34.0" y="413.40" class="tl" textLength="14.6">10</text>
<text x="49.0" y="409.70" class="sup" textLength="16.0" lengthAdjust="spacingAndGlyphs">−23</text>
<text x="101.6" y="403.90" class="run" textLength="26.6" lengthAdjust="spacingAndGlyphs">Run</text>
<text x="135.4" y="403.90" class="run" textLength="8.7" lengthAdjust="spacingAndGlyphs">D</text>
<path d="M94,58.45H138.3" stroke="#6c6c6c" stroke-width="0.9" fill="none"/>
<path d="M94,83.95H139" stroke="#ffa6a6" stroke-width="1.5" stroke-dasharray="6.5 4.5" fill="none"/>
<text x="149.6" y="63" class="lg" textLength="36.2" lengthAdjust="spacingAndGlyphs">BHNS</text>
<text x="149.6" y="88.6" class="lg" textLength="37.3" lengthAdjust="spacingAndGlyphs">BHBH</text>
<text x="249.0" y="88.4" class="adv" textLength="64.2" lengthAdjust="spacingAndGlyphs">Advanced</text>
<text x="249.0" y="103.6" class="adv" textLength="29.2" lengthAdjust="spacingAndGlyphs">LIGO</text>
<text x="83.0" y="429.9" class="tl" textLength="23.4">100</text>
<text x="299.0" y="429.9" class="tl" textLength="31.2">1000</text>
<text transform="translate(227.20,457.70) scale(1.0,1)" class="big">f</text>
<text transform="translate(235.40,462.80) scale(0.8,1)" class="sub">GW</text>
<text transform="translate(261.50,457.60) scale(1.0,1)" class="big" style="font-size:24.8px">[</text>
<text transform="translate(271.30,457.70) scale(1.0,1)" class="big">H</text>
<text transform="translate(287.30,457.70) scale(1.0,1)" class="big">z</text>
<text transform="translate(299.10,457.60) scale(1.0,1)" class="big" style="font-size:24.8px">]</text>
<g transform="translate(19,297.4) rotate(-90)">
<text transform="translate(1.40,0.00) scale(1.0,1)" class="big">h</text>
<text transform="translate(15.80,5.50) scale(1.0,1)" class="sub">eff</text>
<text transform="translate(41.40,0.00) scale(1.0,1)" class="big" style="font-size:24.8px">[</text>
<text transform="translate(49.80,0.00) scale(1.0,1)" class="big">D</text>
<text transform="translate(65.40,0.00) scale(1.2,1)" class="big">=</text>
<text transform="translate(82.00,0.00) scale(1.0,1)" class="big">1</text>
<text transform="translate(94.00,0.00) scale(1.23,1)" class="big">0</text>
<text transform="translate(106.40,0.00) scale(1.27,1)" class="big">0</text>
<text transform="translate(119.85,0.00) scale(0.79,1)" class="big">M</text>
<text transform="translate(136.00,0.00) scale(1.0,1)" class="big">p</text>
<text transform="translate(148.70,0.00) scale(1.06,1)" class="big">c</text>
<text transform="translate(160.95,0.00) scale(1.0,1)" class="big" style="font-size:24.8px">]</text>
</g>
</svg>
</body></html>
